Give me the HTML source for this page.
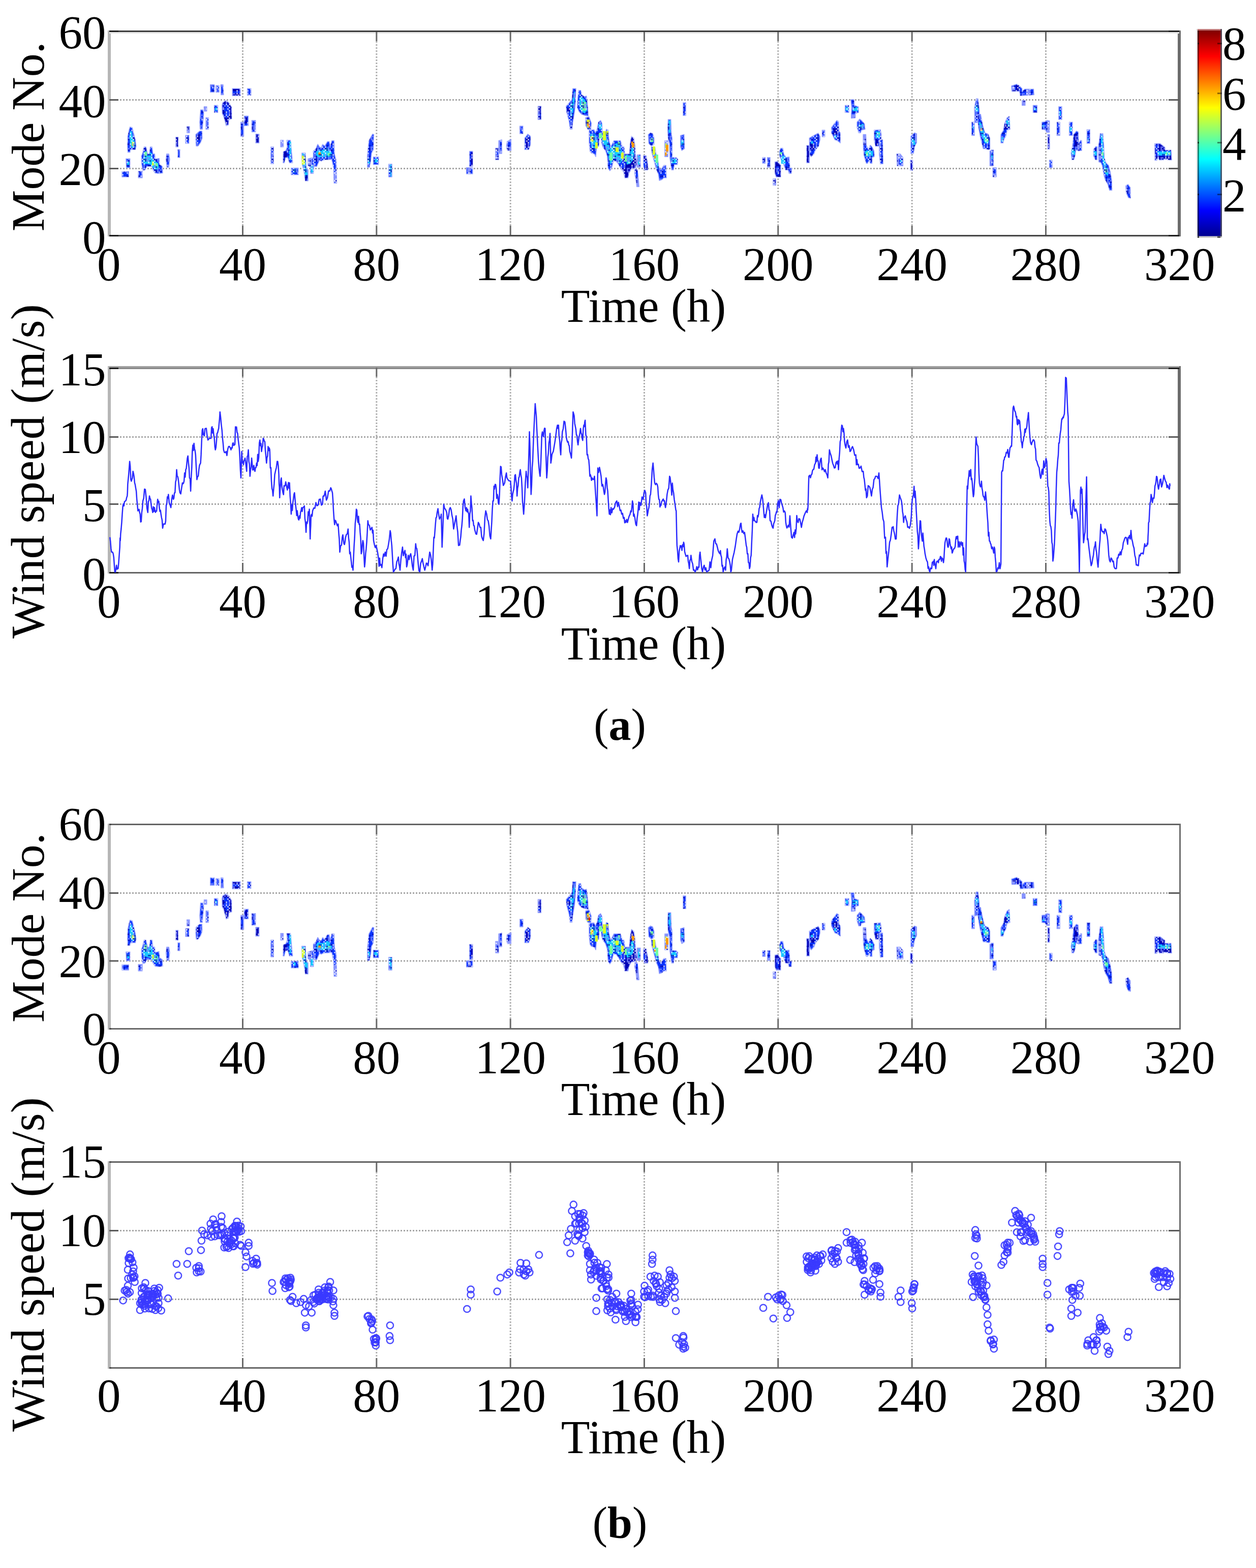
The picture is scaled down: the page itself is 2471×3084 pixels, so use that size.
<!DOCTYPE html>
<html><head><meta charset="utf-8"><title>Figure</title>
<style>html,body{margin:0;padding:0;background:#fff;}svg{display:block;}</style>
</head><body>
<svg width="2471" height="3084" viewBox="0 0 2471 3084" font-family="'Liberation Serif', 'Times New Roman', serif">
<rect width="2471" height="3084" fill="#ffffff"/>
<line x1="236" y1="196.5" x2="2299" y2="196.5" stroke="#a6a6a6" stroke-width="3" stroke-dasharray="3 3"/>
<line x1="236" y1="331.5" x2="2299" y2="331.5" stroke="#a6a6a6" stroke-width="3" stroke-dasharray="3 3"/>
<line x1="477.5" y1="81" x2="477.5" y2="444" stroke="#b0b0b0" stroke-width="3" stroke-dasharray="3 3"/>
<line x1="740.8" y1="81" x2="740.8" y2="444" stroke="#b0b0b0" stroke-width="3" stroke-dasharray="3 3"/>
<line x1="1004.2" y1="81" x2="1004.2" y2="444" stroke="#b0b0b0" stroke-width="3" stroke-dasharray="3 3"/>
<line x1="1267.5" y1="81" x2="1267.5" y2="444" stroke="#b0b0b0" stroke-width="3" stroke-dasharray="3 3"/>
<line x1="1530.8" y1="81" x2="1530.8" y2="444" stroke="#b0b0b0" stroke-width="3" stroke-dasharray="3 3"/>
<line x1="1794.2" y1="81" x2="1794.2" y2="444" stroke="#b0b0b0" stroke-width="3" stroke-dasharray="3 3"/>
<line x1="2057.5" y1="81" x2="2057.5" y2="444" stroke="#b0b0b0" stroke-width="3" stroke-dasharray="3 3"/>
<rect x="212.0" y="60.0" width="6" height="405.0" fill="#b6b6b6"/>
<rect x="2317.0" y="60.0" width="6" height="405.0" fill="#6c6c6c"/>
<rect x="215.0" y="60.0" width="2105.0" height="3" fill="#3c3c3c"/>
<rect x="215.0" y="462.0" width="2105.0" height="3" fill="#464646"/>
<rect x="215.0" y="63.0" width="2105.0" height="3" fill="#e6e6e6"/>
<rect x="215.0" y="465.0" width="2105.0" height="3" fill="#ececec"/>
<rect x="215.0" y="195.0" width="18.0" height="3" fill="#5a5a5a"/>
<rect x="2299.0" y="195.0" width="21.0" height="3" fill="#5a5a5a"/>
<rect x="215.0" y="330.0" width="18.0" height="3" fill="#5a5a5a"/>
<rect x="2299.0" y="330.0" width="21.0" height="3" fill="#5a5a5a"/>
<rect x="215.0" y="60.0" width="18.0" height="3" fill="#1e1e1e"/>
<rect x="2299.0" y="60.0" width="21.0" height="3" fill="#1e1e1e"/>
<rect x="215.0" y="462.0" width="18.0" height="3" fill="#1e1e1e"/>
<rect x="2299.0" y="462.0" width="21.0" height="3" fill="#1e1e1e"/>
<rect x="476.0" y="63.0" width="3" height="18.0" fill="#6a6a6a"/>
<rect x="476.0" y="444.0" width="3" height="18.0" fill="#6a6a6a"/>
<rect x="739.3" y="63.0" width="3" height="18.0" fill="#6a6a6a"/>
<rect x="739.3" y="444.0" width="3" height="18.0" fill="#6a6a6a"/>
<rect x="1002.7" y="63.0" width="3" height="18.0" fill="#6a6a6a"/>
<rect x="1002.7" y="444.0" width="3" height="18.0" fill="#6a6a6a"/>
<rect x="1266.0" y="63.0" width="3" height="18.0" fill="#6a6a6a"/>
<rect x="1266.0" y="444.0" width="3" height="18.0" fill="#6a6a6a"/>
<rect x="1529.3" y="63.0" width="3" height="18.0" fill="#6a6a6a"/>
<rect x="1529.3" y="444.0" width="3" height="18.0" fill="#6a6a6a"/>
<rect x="1792.7" y="63.0" width="3" height="18.0" fill="#6a6a6a"/>
<rect x="1792.7" y="444.0" width="3" height="18.0" fill="#6a6a6a"/>
<rect x="2056.0" y="63.0" width="3" height="18.0" fill="#6a6a6a"/>
<rect x="2056.0" y="444.0" width="3" height="18.0" fill="#6a6a6a"/>
<text x="208.5" y="95.0" text-anchor="end" font-size="93" >60</text>
<text x="208.5" y="229.5" text-anchor="end" font-size="93" >40</text>
<text x="208.5" y="364.0" text-anchor="end" font-size="93" >20</text>
<text x="208.5" y="497.5" text-anchor="end" font-size="93" >0</text>
<text x="214.2" y="551.0" text-anchor="middle" font-size="93" >0</text>
<text x="477.5" y="551.0" text-anchor="middle" font-size="93" >40</text>
<text x="740.8" y="551.0" text-anchor="middle" font-size="93" >80</text>
<text x="1004.2" y="551.0" text-anchor="middle" font-size="93" >120</text>
<text x="1267.5" y="551.0" text-anchor="middle" font-size="93" >160</text>
<text x="1530.8" y="551.0" text-anchor="middle" font-size="93" >200</text>
<text x="1794.2" y="551.0" text-anchor="middle" font-size="93" >240</text>
<text x="2057.5" y="551.0" text-anchor="middle" font-size="93" >280</text>
<text x="2320.8" y="551.0" text-anchor="middle" font-size="93" >320</text>
<text x="1266.0" y="633.0" text-anchor="middle" font-size="93" >Time (h)</text>
<text x="0" y="0" text-anchor="middle" font-size="92" transform="translate(86.0,268.8) rotate(-90)">Mode No.</text>
<line x1="236" y1="859.5" x2="2299" y2="859.5" stroke="#a6a6a6" stroke-width="3" stroke-dasharray="3 3"/>
<line x1="236" y1="991.5" x2="2299" y2="991.5" stroke="#a6a6a6" stroke-width="3" stroke-dasharray="3 3"/>
<line x1="477.5" y1="741" x2="477.5" y2="1107" stroke="#b0b0b0" stroke-width="3" stroke-dasharray="3 3"/>
<line x1="740.8" y1="741" x2="740.8" y2="1107" stroke="#b0b0b0" stroke-width="3" stroke-dasharray="3 3"/>
<line x1="1004.2" y1="741" x2="1004.2" y2="1107" stroke="#b0b0b0" stroke-width="3" stroke-dasharray="3 3"/>
<line x1="1267.5" y1="741" x2="1267.5" y2="1107" stroke="#b0b0b0" stroke-width="3" stroke-dasharray="3 3"/>
<line x1="1530.8" y1="741" x2="1530.8" y2="1107" stroke="#b0b0b0" stroke-width="3" stroke-dasharray="3 3"/>
<line x1="1794.2" y1="741" x2="1794.2" y2="1107" stroke="#b0b0b0" stroke-width="3" stroke-dasharray="3 3"/>
<line x1="2057.5" y1="741" x2="2057.5" y2="1107" stroke="#b0b0b0" stroke-width="3" stroke-dasharray="3 3"/>
<rect x="212.0" y="720.0" width="6" height="408.0" fill="#b6b6b6"/>
<rect x="2317.0" y="720.0" width="6" height="408.0" fill="#6c6c6c"/>
<rect x="215.0" y="720.0" width="2105.0" height="3" fill="#a2a2a2"/>
<rect x="215.0" y="1125.0" width="2105.0" height="3" fill="#656565"/>
<rect x="215.0" y="723.0" width="2105.0" height="3" fill="#8a8a8a"/>
<rect x="215.0" y="858.0" width="18.0" height="3" fill="#5a5a5a"/>
<rect x="2299.0" y="858.0" width="21.0" height="3" fill="#5a5a5a"/>
<rect x="215.0" y="990.0" width="18.0" height="3" fill="#5a5a5a"/>
<rect x="2299.0" y="990.0" width="21.0" height="3" fill="#5a5a5a"/>
<rect x="215.0" y="723.0" width="18.0" height="3" fill="#1e1e1e"/>
<rect x="2299.0" y="723.0" width="21.0" height="3" fill="#1e1e1e"/>
<rect x="215.0" y="1125.0" width="18.0" height="3" fill="#1e1e1e"/>
<rect x="2299.0" y="1125.0" width="21.0" height="3" fill="#1e1e1e"/>
<rect x="476.0" y="723.0" width="3" height="18.0" fill="#6a6a6a"/>
<rect x="476.0" y="1107.0" width="3" height="18.0" fill="#6a6a6a"/>
<rect x="739.3" y="723.0" width="3" height="18.0" fill="#6a6a6a"/>
<rect x="739.3" y="1107.0" width="3" height="18.0" fill="#6a6a6a"/>
<rect x="1002.7" y="723.0" width="3" height="18.0" fill="#6a6a6a"/>
<rect x="1002.7" y="1107.0" width="3" height="18.0" fill="#6a6a6a"/>
<rect x="1266.0" y="723.0" width="3" height="18.0" fill="#6a6a6a"/>
<rect x="1266.0" y="1107.0" width="3" height="18.0" fill="#6a6a6a"/>
<rect x="1529.3" y="723.0" width="3" height="18.0" fill="#6a6a6a"/>
<rect x="1529.3" y="1107.0" width="3" height="18.0" fill="#6a6a6a"/>
<rect x="1792.7" y="723.0" width="3" height="18.0" fill="#6a6a6a"/>
<rect x="1792.7" y="1107.0" width="3" height="18.0" fill="#6a6a6a"/>
<rect x="2056.0" y="723.0" width="3" height="18.0" fill="#6a6a6a"/>
<rect x="2056.0" y="1107.0" width="3" height="18.0" fill="#6a6a6a"/>
<text x="208.5" y="758.0" text-anchor="end" font-size="93" >15</text>
<text x="208.5" y="890.5" text-anchor="end" font-size="93" >10</text>
<text x="208.5" y="1024.5" text-anchor="end" font-size="93" >5</text>
<text x="208.5" y="1160.0" text-anchor="end" font-size="93" >0</text>
<text x="214.2" y="1214.0" text-anchor="middle" font-size="93" >0</text>
<text x="477.5" y="1214.0" text-anchor="middle" font-size="93" >40</text>
<text x="740.8" y="1214.0" text-anchor="middle" font-size="93" >80</text>
<text x="1004.2" y="1214.0" text-anchor="middle" font-size="93" >120</text>
<text x="1267.5" y="1214.0" text-anchor="middle" font-size="93" >160</text>
<text x="1530.8" y="1214.0" text-anchor="middle" font-size="93" >200</text>
<text x="1794.2" y="1214.0" text-anchor="middle" font-size="93" >240</text>
<text x="2057.5" y="1214.0" text-anchor="middle" font-size="93" >280</text>
<text x="2320.8" y="1214.0" text-anchor="middle" font-size="93" >320</text>
<text x="1266.0" y="1296.5" text-anchor="middle" font-size="93" >Time (h)</text>
<text x="0" y="0" text-anchor="middle" font-size="93" transform="translate(86.0,927.0) rotate(-90)">Wind speed (m/s)</text>
<line x1="236" y1="1756.5" x2="2299" y2="1756.5" stroke="#a6a6a6" stroke-width="3" stroke-dasharray="3 3"/>
<line x1="236" y1="1890.0" x2="2299" y2="1890.0" stroke="#a6a6a6" stroke-width="3" stroke-dasharray="3 3"/>
<line x1="477.5" y1="1641" x2="477.5" y2="2004" stroke="#b0b0b0" stroke-width="3" stroke-dasharray="3 3"/>
<line x1="740.8" y1="1641" x2="740.8" y2="2004" stroke="#b0b0b0" stroke-width="3" stroke-dasharray="3 3"/>
<line x1="1004.2" y1="1641" x2="1004.2" y2="2004" stroke="#b0b0b0" stroke-width="3" stroke-dasharray="3 3"/>
<line x1="1267.5" y1="1641" x2="1267.5" y2="2004" stroke="#b0b0b0" stroke-width="3" stroke-dasharray="3 3"/>
<line x1="1530.8" y1="1641" x2="1530.8" y2="2004" stroke="#b0b0b0" stroke-width="3" stroke-dasharray="3 3"/>
<line x1="1794.2" y1="1641" x2="1794.2" y2="2004" stroke="#b0b0b0" stroke-width="3" stroke-dasharray="3 3"/>
<line x1="2057.5" y1="1641" x2="2057.5" y2="2004" stroke="#b0b0b0" stroke-width="3" stroke-dasharray="3 3"/>
<rect x="212.0" y="1620.0" width="6" height="405.0" fill="#b6b6b6"/>
<rect x="2320.0" y="1620.0" width="3" height="405.0" fill="#6c6c6c"/>
<rect x="215.0" y="1620.0" width="2105.0" height="3" fill="#646464"/>
<rect x="215.0" y="2022.0" width="2105.0" height="3" fill="#6a6a6a"/>
<rect x="215.0" y="1755.0" width="18.0" height="3" fill="#5a5a5a"/>
<rect x="2299.0" y="1755.0" width="21.0" height="3" fill="#5a5a5a"/>
<rect x="215.0" y="1888.5" width="18.0" height="3" fill="#5a5a5a"/>
<rect x="2299.0" y="1888.5" width="21.0" height="3" fill="#5a5a5a"/>
<rect x="215.0" y="1620.0" width="4.0" height="3" fill="#4a4a4a"/>
<rect x="215.0" y="2022.0" width="4.0" height="3" fill="#4a4a4a"/>
<rect x="476.0" y="1623.0" width="3" height="18.0" fill="#6a6a6a"/>
<rect x="476.0" y="2004.0" width="3" height="18.0" fill="#6a6a6a"/>
<rect x="739.3" y="1623.0" width="3" height="18.0" fill="#6a6a6a"/>
<rect x="739.3" y="2004.0" width="3" height="18.0" fill="#6a6a6a"/>
<rect x="1002.7" y="1623.0" width="3" height="18.0" fill="#6a6a6a"/>
<rect x="1002.7" y="2004.0" width="3" height="18.0" fill="#6a6a6a"/>
<rect x="1266.0" y="1623.0" width="3" height="18.0" fill="#6a6a6a"/>
<rect x="1266.0" y="2004.0" width="3" height="18.0" fill="#6a6a6a"/>
<rect x="1529.3" y="1623.0" width="3" height="18.0" fill="#6a6a6a"/>
<rect x="1529.3" y="2004.0" width="3" height="18.0" fill="#6a6a6a"/>
<rect x="1792.7" y="1623.0" width="3" height="18.0" fill="#6a6a6a"/>
<rect x="1792.7" y="2004.0" width="3" height="18.0" fill="#6a6a6a"/>
<rect x="2056.0" y="1623.0" width="3" height="18.0" fill="#6a6a6a"/>
<rect x="2056.0" y="2004.0" width="3" height="18.0" fill="#6a6a6a"/>
<text x="208.5" y="1652.0" text-anchor="end" font-size="93" >60</text>
<text x="208.5" y="1787.0" text-anchor="end" font-size="93" >40</text>
<text x="208.5" y="1921.5" text-anchor="end" font-size="93" >20</text>
<text x="208.5" y="2055.0" text-anchor="end" font-size="93" >0</text>
<text x="214.2" y="2111.0" text-anchor="middle" font-size="93" >0</text>
<text x="477.5" y="2111.0" text-anchor="middle" font-size="93" >40</text>
<text x="740.8" y="2111.0" text-anchor="middle" font-size="93" >80</text>
<text x="1004.2" y="2111.0" text-anchor="middle" font-size="93" >120</text>
<text x="1267.5" y="2111.0" text-anchor="middle" font-size="93" >160</text>
<text x="1530.8" y="2111.0" text-anchor="middle" font-size="93" >200</text>
<text x="1794.2" y="2111.0" text-anchor="middle" font-size="93" >240</text>
<text x="2057.5" y="2111.0" text-anchor="middle" font-size="93" >280</text>
<text x="2320.8" y="2111.0" text-anchor="middle" font-size="93" >320</text>
<text x="1266.0" y="2193.0" text-anchor="middle" font-size="93" >Time (h)</text>
<text x="0" y="0" text-anchor="middle" font-size="92" transform="translate(86.0,1824.8) rotate(-90)">Mode No.</text>
<line x1="236" y1="2420.5" x2="2299" y2="2420.5" stroke="#a6a6a6" stroke-width="3" stroke-dasharray="3 3"/>
<line x1="236" y1="2555.5" x2="2299" y2="2555.5" stroke="#a6a6a6" stroke-width="3" stroke-dasharray="3 3"/>
<line x1="477.5" y1="2305" x2="477.5" y2="2671" stroke="#b0b0b0" stroke-width="3" stroke-dasharray="3 3"/>
<line x1="740.8" y1="2305" x2="740.8" y2="2671" stroke="#b0b0b0" stroke-width="3" stroke-dasharray="3 3"/>
<line x1="1004.2" y1="2305" x2="1004.2" y2="2671" stroke="#b0b0b0" stroke-width="3" stroke-dasharray="3 3"/>
<line x1="1267.5" y1="2305" x2="1267.5" y2="2671" stroke="#b0b0b0" stroke-width="3" stroke-dasharray="3 3"/>
<line x1="1530.8" y1="2305" x2="1530.8" y2="2671" stroke="#b0b0b0" stroke-width="3" stroke-dasharray="3 3"/>
<line x1="1794.2" y1="2305" x2="1794.2" y2="2671" stroke="#b0b0b0" stroke-width="3" stroke-dasharray="3 3"/>
<line x1="2057.5" y1="2305" x2="2057.5" y2="2671" stroke="#b0b0b0" stroke-width="3" stroke-dasharray="3 3"/>
<rect x="212.0" y="2284.0" width="6" height="408.0" fill="#b6b6b6"/>
<rect x="2320.0" y="2284.0" width="3" height="408.0" fill="#6c6c6c"/>
<rect x="215.0" y="2284.0" width="2105.0" height="3" fill="#626262"/>
<rect x="215.0" y="2689.0" width="2105.0" height="3" fill="#666666"/>
<rect x="215.0" y="2419.0" width="18.0" height="3" fill="#5a5a5a"/>
<rect x="2299.0" y="2419.0" width="21.0" height="3" fill="#5a5a5a"/>
<rect x="215.0" y="2554.0" width="18.0" height="3" fill="#5a5a5a"/>
<rect x="2299.0" y="2554.0" width="21.0" height="3" fill="#5a5a5a"/>
<rect x="215.0" y="2284.0" width="4.0" height="3" fill="#4a4a4a"/>
<rect x="215.0" y="2689.0" width="4.0" height="3" fill="#4a4a4a"/>
<rect x="476.0" y="2287.0" width="3" height="18.0" fill="#6a6a6a"/>
<rect x="476.0" y="2671.0" width="3" height="18.0" fill="#6a6a6a"/>
<rect x="739.3" y="2287.0" width="3" height="18.0" fill="#6a6a6a"/>
<rect x="739.3" y="2671.0" width="3" height="18.0" fill="#6a6a6a"/>
<rect x="1002.7" y="2287.0" width="3" height="18.0" fill="#6a6a6a"/>
<rect x="1002.7" y="2671.0" width="3" height="18.0" fill="#6a6a6a"/>
<rect x="1266.0" y="2287.0" width="3" height="18.0" fill="#6a6a6a"/>
<rect x="1266.0" y="2671.0" width="3" height="18.0" fill="#6a6a6a"/>
<rect x="1529.3" y="2287.0" width="3" height="18.0" fill="#6a6a6a"/>
<rect x="1529.3" y="2671.0" width="3" height="18.0" fill="#6a6a6a"/>
<rect x="1792.7" y="2287.0" width="3" height="18.0" fill="#6a6a6a"/>
<rect x="1792.7" y="2671.0" width="3" height="18.0" fill="#6a6a6a"/>
<rect x="2056.0" y="2287.0" width="3" height="18.0" fill="#6a6a6a"/>
<rect x="2056.0" y="2671.0" width="3" height="18.0" fill="#6a6a6a"/>
<text x="208.5" y="2315.5" text-anchor="end" font-size="93" >15</text>
<text x="208.5" y="2451.0" text-anchor="end" font-size="93" >10</text>
<text x="208.5" y="2586.0" text-anchor="end" font-size="93" >5</text>
<text x="214.2" y="2776.0" text-anchor="middle" font-size="93" >0</text>
<text x="477.5" y="2776.0" text-anchor="middle" font-size="93" >40</text>
<text x="740.8" y="2776.0" text-anchor="middle" font-size="93" >80</text>
<text x="1004.2" y="2776.0" text-anchor="middle" font-size="93" >120</text>
<text x="1267.5" y="2776.0" text-anchor="middle" font-size="93" >160</text>
<text x="1530.8" y="2776.0" text-anchor="middle" font-size="93" >200</text>
<text x="1794.2" y="2776.0" text-anchor="middle" font-size="93" >240</text>
<text x="2057.5" y="2776.0" text-anchor="middle" font-size="93" >280</text>
<text x="2320.8" y="2776.0" text-anchor="middle" font-size="93" >320</text>
<text x="1266.0" y="2858.0" text-anchor="middle" font-size="93" >Time (h)</text>
<text x="0" y="0" text-anchor="middle" font-size="93" transform="translate(86.0,2487.0) rotate(-90)">Wind speed (m/s)</text>
<defs><linearGradient id="jet" x1="0" y1="1" x2="0" y2="0"><stop offset="0" stop-color="#00008f"/><stop offset="0.125" stop-color="#0000ff"/><stop offset="0.375" stop-color="#00ffff"/><stop offset="0.625" stop-color="#ffff00"/><stop offset="0.875" stop-color="#ff0000"/><stop offset="1" stop-color="#800000"/></linearGradient></defs>
<rect x="2353.5" y="57" width="2.5" height="410.5" fill="#e2e2e2"/>
<rect x="2356" y="60" width="48" height="404.7" fill="url(#jet)"/>
<rect x="2356" y="57" width="48" height="3" fill="#c07878"/>
<rect x="2356" y="464.7" width="48" height="3" fill="#c8c8c8"/>
<rect x="2356" y="60" width="3" height="404.7" fill="#000000" fill-opacity="0.45"/>
<rect x="2401" y="57" width="3" height="408" fill="#4a4a5a" fill-opacity="0.85"/>
<rect x="2356" y="84.1" width="3" height="3" fill="#000" fill-opacity="0.6"/>
<rect x="2395" y="84.1" width="9" height="3" fill="#000" fill-opacity="0.45"/>
<rect x="2356" y="182.1" width="3" height="3" fill="#000" fill-opacity="0.6"/>
<rect x="2395" y="182.1" width="9" height="3" fill="#000" fill-opacity="0.45"/>
<rect x="2356" y="279.1" width="3" height="3" fill="#000" fill-opacity="0.6"/>
<rect x="2395" y="279.1" width="9" height="3" fill="#000" fill-opacity="0.45"/>
<rect x="2356" y="381.0" width="3" height="3" fill="#000" fill-opacity="0.6"/>
<rect x="2395" y="381.0" width="9" height="3" fill="#000" fill-opacity="0.45"/>
<rect x="2356" y="464.7" width="3" height="3" fill="#333"/>
<rect x="2395" y="464.7" width="6" height="3" fill="#444"/>
<text x="2405.0" y="117.0" text-anchor="start" font-size="93" >8</text>
<text x="2405.0" y="216.0" text-anchor="start" font-size="93" >6</text>
<text x="2405.0" y="314.0" text-anchor="start" font-size="93" >4</text>
<text x="2405.0" y="415.7" text-anchor="start" font-size="93" >2</text>
<text x="1219.5" y="1455" text-anchor="middle" font-size="88">(<tspan font-weight="bold">a</tspan>)</text>
<text x="1219.5" y="3025" text-anchor="middle" font-size="88">(<tspan font-weight="bold">b</tspan>)</text>
<path d="M216.2,1056.7 L217.3,1065.0 L218.4,1078.9 L219.5,1085.9 L220.5,1085.7 L221.6,1086.3 L222.7,1089.1 L223.8,1095.9 L224.9,1111.7 L225.9,1124.8 L227.0,1125.0 L228.1,1118.5 L229.2,1111.8 L230.3,1119.7 L231.3,1117.5 L232.4,1118.3 L233.5,1106.4 L234.6,1091.2 L235.7,1076.1 L236.2,1058.3 L236.7,1063.5 L237.3,1050.2 L238.4,1040.0 L239.5,1027.0 L240.5,1011.3 L241.6,996.6 L242.7,990.9 L243.8,995.1 L244.9,986.9 L245.9,986.0 L247.0,985.3 L248.1,983.8 L249.2,978.6 L250.3,975.6 L250.8,968.8 L251.3,952.6 L251.9,946.4 L253.0,935.2 L254.0,922.7 L255.1,907.5 L256.2,916.9 L257.3,942.9 L258.4,946.4 L259.4,943.0 L260.5,940.0 L261.6,927.0 L262.7,931.1 L263.8,938.0 L264.9,949.7 L265.9,953.2 L267.0,959.9 L268.1,965.9 L269.2,982.3 L270.3,993.2 L271.3,1004.8 L272.4,1003.4 L273.5,1001.7 L274.6,1008.0 L275.7,1011.1 L276.7,1026.6 L277.8,1025.9 L278.9,1007.9 L280.0,1000.2 L281.1,985.3 L282.7,980.1 L284.3,962.0 L285.9,962.6 L287.5,978.0 L289.2,1000.1 L290.8,1008.0 L291.9,986.2 L293.0,984.7 L294.0,975.6 L295.1,980.4 L296.2,981.9 L297.3,991.8 L298.4,1000.0 L299.4,1002.3 L300.5,1008.0 L301.6,996.7 L302.7,1006.1 L303.8,998.3 L304.8,1004.2 L305.9,1007.8 L307.0,1004.8 L308.1,1005.2 L309.2,991.7 L310.2,982.1 L311.3,988.2 L312.4,985.8 L313.5,998.3 L314.6,1006.0 L315.7,1003.6 L316.7,1011.3 L317.8,1018.0 L318.9,1022.7 L320.0,1038.8 L321.6,1030.8 L323.2,1030.5 L324.8,1030.7 L325.9,1024.9 L327.0,993.6 L328.1,991.8 L329.2,977.3 L330.2,980.2 L331.3,972.4 L332.9,989.0 L334.6,992.8 L336.2,998.3 L337.8,982.5 L339.4,973.7 L341.1,982.1 L342.1,979.7 L343.2,969.4 L344.3,969.1 L345.4,947.8 L346.5,944.2 L347.5,923.7 L348.6,936.3 L349.7,937.6 L350.8,943.2 L351.9,953.2 L352.9,962.9 L354.0,969.1 L355.6,971.4 L357.3,959.6 L358.9,949.7 L360.0,951.4 L361.0,950.5 L362.1,946.4 L363.2,930.2 L364.3,938.4 L365.4,923.7 L366.5,921.4 L367.5,911.5 L368.6,901.0 L369.7,896.7 L370.8,910.5 L371.9,920.5 L372.9,940.3 L374.0,940.8 L375.1,965.9 L376.2,938.9 L377.3,919.6 L378.3,888.1 L379.4,875.5 L380.5,886.1 L381.6,871.9 L382.7,882.5 L383.7,886.2 L384.8,894.6 L385.7,912.6 L386.6,930.6 L387.4,943.2 L388.7,937.4 L390.0,936.5 L391.3,923.7 L392.4,915.8 L393.5,912.8 L394.6,910.8 L395.6,894.9 L396.7,867.7 L397.8,845.9 L398.9,843.2 L400.0,855.4 L401.0,852.4 L402.1,857.2 L403.2,843.5 L404.3,842.7 L405.9,842.6 L407.5,857.1 L409.1,865.4 L410.8,863.5 L412.4,861.6 L414.0,862.1 L415.1,862.3 L416.2,841.3 L417.3,839.4 L418.3,851.8 L419.4,843.3 L420.5,855.6 L421.6,861.0 L422.7,878.6 L423.7,884.8 L424.8,880.2 L425.9,867.9 L427.0,852.4 L428.1,851.1 L429.1,846.7 L430.2,842.7 L431.1,832.7 L431.9,824.2 L432.8,810.2 L434.1,821.2 L435.4,835.6 L436.7,845.9 L437.8,862.0 L438.9,871.9 L439.9,884.8 L441.6,890.1 L443.2,890.1 L444.8,888.1 L446.4,895.9 L448.1,883.4 L449.7,878.3 L451.3,878.1 L452.9,880.6 L454.5,884.8 L455.6,880.4 L456.7,881.3 L457.8,871.9 L458.9,871.1 L459.9,876.1 L461.0,875.1 L462.1,874.4 L463.2,839.4 L464.3,842.7 L465.3,839.7 L466.4,850.5 L467.5,852.4 L468.6,864.3 L469.7,873.2 L470.8,881.6 L471.8,898.7 L472.9,924.1 L474.0,939.9 L474.5,924.2 L475.1,902.5 L475.6,888.1 L476.7,910.1 L477.8,907.3 L478.9,914.0 L479.9,906.6 L481.0,904.8 L482.1,901.0 L483.2,908.4 L484.3,918.0 L485.3,927.0 L486.4,897.9 L487.5,896.2 L488.6,884.8 L489.7,907.7 L490.7,913.0 L491.8,936.7 L492.9,924.4 L494.0,918.2 L495.1,901.0 L496.2,913.3 L497.2,924.4 L498.3,923.7 L499.4,915.5 L500.5,924.0 L501.6,927.0 L502.6,919.7 L503.7,919.6 L504.8,910.8 L505.9,915.7 L507.0,893.8 L508.0,907.5 L509.1,899.5 L510.2,871.5 L511.3,865.4 L512.4,876.7 L513.4,872.3 L514.5,888.1 L515.6,880.4 L516.7,877.3 L517.8,862.1 L518.8,863.5 L519.9,867.5 L521.0,868.6 L522.1,887.0 L523.2,897.5 L524.3,910.8 L525.3,899.5 L526.4,897.6 L527.5,878.3 L528.6,886.3 L529.7,881.0 L530.7,884.8 L531.8,920.5 L532.9,919.6 L534.0,946.4 L535.1,961.2 L536.1,964.4 L537.2,975.6 L538.3,962.3 L539.4,951.4 L540.5,933.5 L542.1,926.0 L543.7,919.7 L545.3,907.5 L546.4,907.8 L547.5,916.5 L548.6,933.5 L549.1,952.0 L549.7,958.4 L550.2,978.9 L551.3,960.2 L552.4,944.8 L553.4,939.9 L554.5,956.6 L555.6,963.5 L556.7,969.1 L557.8,972.9 L558.8,955.3 L559.9,956.2 L561.0,955.1 L562.1,947.7 L563.2,952.9 L564.2,958.2 L565.3,963.8 L566.4,956.2 L567.5,949.1 L568.6,960.4 L569.6,949.7 L570.7,975.6 L571.8,989.8 L572.9,1011.3 L574.0,992.9 L575.1,1003.9 L576.1,988.6 L577.2,981.6 L578.3,972.3 L579.4,969.1 L580.5,982.1 L581.5,993.0 L582.6,1001.6 L583.7,1014.1 L584.8,1004.6 L585.9,1014.5 L586.9,1020.8 L588.0,1022.7 L589.1,1014.5 L590.2,1019.3 L591.3,1007.0 L592.3,1004.8 L593.4,998.5 L594.5,1006.1 L595.6,998.3 L596.7,997.9 L597.8,996.8 L598.8,995.1 L599.9,1020.2 L601.0,1028.2 L602.1,1047.0 L603.2,1026.8 L604.2,1029.7 L605.3,1024.3 L606.4,1006.5 L607.5,1013.6 L608.6,1001.6 L609.1,1022.8 L609.6,1037.1 L610.2,1059.9 L610.7,1044.7 L611.3,1034.2 L611.8,1014.5 L612.9,1011.7 L614.0,1015.3 L615.0,1004.8 L617.2,999.1 L619.4,999.7 L621.5,988.6 L623.7,994.6 L625.9,993.1 L628.0,982.1 L630.2,981.6 L632.3,993.4 L634.5,991.8 L635.6,976.1 L636.7,975.1 L637.7,975.6 L639.9,965.9 L642.1,983.7 L644.2,978.9 L646.4,965.6 L648.6,965.8 L650.7,959.4 L651.8,961.6 L652.9,965.7 L654.0,969.1 L655.0,983.2 L656.1,1005.0 L657.2,1021.0 L658.3,1031.9 L659.4,1023.4 L660.4,1024.3 L662.1,1029.3 L663.7,1034.1 L665.3,1030.7 L666.4,1048.0 L667.5,1060.6 L668.5,1085.9 L670.2,1073.1 L671.8,1072.3 L673.4,1056.7 L674.5,1051.9 L675.6,1062.0 L676.7,1069.6 L677.7,1070.9 L678.8,1065.4 L679.9,1056.7 L681.5,1051.3 L683.1,1050.3 L684.8,1040.5 L685.8,1057.6 L686.9,1066.4 L688.0,1089.1 L689.1,1085.9 L690.2,1096.4 L691.2,1105.3 L692.3,1115.8 L693.4,1113.0 L694.5,1121.5 L695.6,1095.0 L696.6,1074.1 L697.7,1056.7 L698.8,1029.9 L699.9,1019.3 L701.0,1001.6 L702.1,1003.7 L703.1,1020.9 L704.2,1027.5 L705.3,1015.6 L706.4,1031.5 L707.5,1030.7 L708.5,1046.7 L709.6,1059.0 L710.7,1089.1 L711.8,1084.4 L712.9,1070.3 L713.9,1063.2 L715.0,1068.2 L716.1,1092.9 L717.2,1115.0 L718.3,1104.8 L719.3,1088.7 L720.4,1079.4 L721.5,1065.3 L722.6,1046.7 L723.7,1024.3 L724.8,1031.2 L725.8,1032.5 L726.9,1034.0 L728.5,1042.4 L730.2,1039.8 L731.8,1037.2 L732.9,1048.4 L733.9,1043.1 L735.0,1063.2 L736.6,1071.3 L738.3,1076.9 L739.9,1072.9 L741.5,1079.9 L743.1,1087.6 L744.7,1098.8 L745.8,1113.8 L746.9,1097.8 L748.0,1111.8 L749.6,1110.1 L751.3,1116.5 L753.0,1098.8 L754.6,1089.4 L756.2,1094.0 L757.8,1085.9 L759.5,1094.1 L761.1,1080.9 L762.7,1079.4 L764.3,1070.6 L765.9,1060.6 L767.6,1043.7 L768.6,1048.5 L769.7,1062.7 L770.8,1072.9 L771.9,1091.8 L773.0,1112.0 L774.0,1124.8 L775.7,1122.4 L777.3,1119.4 L778.9,1118.3 L780.5,1105.1 L782.2,1101.2 L783.8,1095.6 L784.9,1109.1 L785.9,1113.4 L787.0,1121.5 L788.6,1101.7 L790.3,1086.6 L791.9,1076.1 L793.5,1093.0 L795.1,1086.7 L796.7,1082.6 L797.8,1096.9 L798.9,1090.0 L800.0,1115.0 L801.1,1110.9 L802.1,1102.6 L803.2,1092.3 L804.9,1100.5 L806.5,1092.5 L808.1,1089.1 L809.7,1099.5 L811.3,1113.6 L813.0,1121.5 L814.6,1093.5 L816.2,1092.6 L817.8,1069.6 L818.9,1077.9 L820.0,1078.8 L821.1,1089.1 L822.7,1108.3 L824.3,1122.8 L825.9,1124.8 L827.5,1108.4 L829.2,1103.8 L830.8,1098.8 L832.4,1108.0 L834.0,1115.0 L835.7,1121.5 L837.3,1115.0 L838.9,1107.5 L840.5,1108.6 L842.1,1112.7 L843.8,1099.1 L845.4,1085.9 L847.0,1091.2 L848.6,1102.2 L850.2,1121.5 L851.3,1109.3 L852.4,1083.7 L853.5,1056.7 L854.6,1058.0 L855.7,1043.8 L856.7,1030.7 L857.8,1018.4 L858.9,1017.0 L860.0,1008.0 L861.6,1000.5 L863.2,1012.6 L864.8,1021.0 L865.9,1017.4 L867.0,1017.4 L868.1,1011.3 L868.6,1028.9 L869.2,1053.8 L869.7,1076.1 L870.8,1050.6 L871.9,1022.0 L872.9,991.8 L874.6,999.7 L876.2,1001.6 L877.8,1004.8 L878.9,1008.4 L880.0,1019.9 L881.1,1021.0 L882.7,1013.7 L884.3,1001.3 L885.9,998.3 L887.5,1002.4 L889.2,1013.4 L890.8,1021.0 L891.3,1026.9 L891.9,1034.8 L892.4,1040.5 L894.0,1031.8 L895.6,1024.1 L897.3,1014.5 L898.9,1033.2 L900.5,1046.5 L902.1,1072.9 L903.2,1072.0 L904.3,1072.2 L905.4,1063.2 L906.5,1055.8 L907.5,1042.7 L908.6,1034.0 L909.7,1020.2 L910.8,996.2 L911.9,985.3 L913.5,981.4 L915.1,998.6 L916.7,1004.8 L917.8,998.6 L918.9,1006.7 L920.0,1001.6 L921.0,1007.5 L922.1,1010.9 L923.2,1037.2 L924.3,1011.0 L925.4,1004.8 L926.4,975.6 L927.5,989.7 L928.6,1000.5 L929.7,1024.3 L930.8,1023.3 L931.9,1033.6 L932.9,1034.0 L934.0,1042.1 L935.1,1045.8 L936.2,1050.2 L937.8,1050.8 L939.4,1038.9 L941.0,1027.5 L942.7,1030.6 L944.3,1037.3 L945.9,1037.2 L947.5,1055.0 L949.1,1059.9 L950.8,1063.2 L952.4,1049.3 L954.0,1018.3 L955.6,1004.8 L957.3,1010.5 L958.9,1021.8 L960.5,1024.3 L962.1,1034.5 L963.7,1053.9 L965.4,1059.9 L966.4,1043.7 L967.5,1026.0 L968.6,1001.6 L969.7,985.3 L970.8,985.3 L971.8,956.2 L972.9,961.9 L974.0,952.8 L975.1,952.9 L976.2,959.9 L977.2,980.2 L978.3,972.4 L979.4,977.0 L980.5,990.2 L981.6,991.8 L982.7,972.4 L983.7,942.1 L984.8,917.3 L985.9,918.4 L987.0,933.4 L988.1,939.9 L989.1,946.2 L990.2,954.8 L991.3,952.9 L992.9,949.7 L994.5,937.9 L996.2,930.2 L997.2,939.2 L998.3,941.8 L999.4,943.2 L1001.0,945.4 L1002.6,945.7 L1004.3,946.4 L1005.3,958.1 L1006.4,976.1 L1007.5,985.3 L1008.6,972.0 L1009.7,966.8 L1010.8,962.6 L1011.8,952.9 L1012.9,935.1 L1014.0,933.5 L1015.1,945.1 L1016.2,950.5 L1017.2,975.6 L1018.3,960.0 L1019.4,955.0 L1020.5,939.9 L1021.6,937.7 L1022.6,928.8 L1023.7,923.7 L1024.8,934.3 L1025.9,939.7 L1027.0,959.4 L1028.0,986.7 L1029.1,996.8 L1030.2,1011.3 L1031.8,989.2 L1033.5,950.2 L1035.1,927.0 L1036.2,936.8 L1037.2,938.6 L1038.3,959.4 L1039.4,926.9 L1040.5,891.0 L1041.6,849.2 L1042.6,879.8 L1043.7,931.0 L1044.8,972.4 L1045.9,954.2 L1047.0,919.4 L1048.0,907.5 L1049.7,859.7 L1051.3,826.0 L1052.9,794.0 L1054.0,806.8 L1055.1,818.7 L1056.1,842.7 L1057.2,864.5 L1058.3,887.3 L1059.4,907.5 L1060.5,920.7 L1061.6,930.8 L1062.6,936.7 L1063.7,917.9 L1064.8,889.1 L1065.9,855.6 L1067.0,849.5 L1068.0,855.0 L1069.1,858.9 L1070.2,847.6 L1071.3,842.2 L1072.4,842.7 L1073.4,874.7 L1074.5,907.6 L1075.6,939.9 L1076.7,926.4 L1077.8,898.8 L1078.8,891.3 L1079.9,871.5 L1081.0,865.2 L1082.1,852.4 L1082.6,870.8 L1083.2,889.6 L1083.7,910.8 L1084.8,903.9 L1085.9,893.6 L1087.0,891.3 L1088.6,887.6 L1090.2,878.1 L1091.8,868.6 L1093.4,857.3 L1095.1,843.3 L1096.7,836.2 L1097.8,842.8 L1098.8,836.3 L1099.9,858.9 L1101.0,865.4 L1102.1,882.9 L1103.2,894.6 L1104.2,871.1 L1105.3,865.4 L1106.4,849.2 L1108.0,843.5 L1109.6,828.6 L1111.3,829.7 L1112.4,839.1 L1113.4,849.6 L1114.5,862.1 L1115.6,866.8 L1116.7,869.8 L1117.8,868.6 L1118.8,874.9 L1119.9,876.9 L1121.0,888.1 L1122.1,891.6 L1123.2,896.4 L1124.2,901.0 L1125.3,874.8 L1126.4,842.1 L1127.5,810.2 L1128.6,813.8 L1129.6,817.9 L1130.7,832.9 L1131.8,838.5 L1132.9,844.0 L1134.0,855.6 L1135.0,856.0 L1136.1,868.0 L1137.2,875.1 L1138.8,861.6 L1140.5,854.1 L1142.1,842.7 L1143.2,852.0 L1144.2,853.4 L1145.3,862.1 L1146.4,866.3 L1147.5,843.1 L1148.6,836.2 L1149.4,839.0 L1150.3,830.4 L1151.2,826.5 L1152.5,855.3 L1153.7,858.8 L1155.0,894.6 L1156.1,893.7 L1157.2,902.4 L1158.3,904.3 L1159.4,917.3 L1160.4,936.6 L1161.5,933.5 L1162.6,937.4 L1163.7,944.8 L1164.8,939.9 L1166.4,943.1 L1168.0,943.0 L1169.6,936.7 L1171.3,965.5 L1172.9,987.7 L1174.5,1014.5 L1175.0,986.0 L1175.6,945.9 L1176.1,920.5 L1177.7,929.2 L1179.4,919.2 L1181.0,927.0 L1182.6,937.0 L1184.2,955.9 L1185.8,952.9 L1186.9,958.2 L1188.0,966.0 L1189.1,972.4 L1190.2,968.0 L1191.3,950.9 L1192.3,939.9 L1193.4,944.2 L1194.5,958.7 L1195.6,965.9 L1196.7,984.2 L1197.7,1000.1 L1198.8,1011.3 L1199.9,1002.7 L1201.0,1012.3 L1202.1,998.3 L1203.7,1008.6 L1205.3,1000.6 L1206.9,1001.6 L1209.1,997.6 L1211.2,988.4 L1213.4,985.3 L1215.0,996.4 L1216.7,988.0 L1218.3,995.1 L1219.9,1004.2 L1221.5,1003.2 L1223.1,1011.3 L1224.8,1009.6 L1226.4,1019.6 L1228.0,1017.8 L1229.1,1028.3 L1230.2,1024.2 L1231.2,1027.5 L1232.9,1021.6 L1234.5,1027.6 L1236.1,1021.0 L1237.7,1015.3 L1239.4,1011.9 L1241.0,1004.8 L1242.1,1006.7 L1243.1,998.1 L1244.2,985.3 L1245.3,991.1 L1246.4,1015.2 L1247.5,1011.3 L1249.1,1018.9 L1250.7,1030.7 L1252.3,1034.0 L1253.4,1019.6 L1254.5,1012.1 L1255.6,1001.6 L1256.6,987.6 L1257.7,1002.7 L1258.8,988.6 L1261.0,993.9 L1263.1,977.6 L1265.3,982.1 L1266.9,969.5 L1268.5,964.5 L1270.2,969.1 L1271.2,990.7 L1272.3,996.9 L1273.4,1014.5 L1274.5,1008.8 L1275.6,1002.0 L1276.6,998.3 L1277.7,989.0 L1278.8,975.0 L1279.9,972.4 L1281.5,952.0 L1283.1,923.4 L1284.7,910.8 L1285.8,923.3 L1286.9,938.4 L1288.0,949.7 L1289.6,953.3 L1291.3,950.6 L1293.0,952.9 L1294.1,957.7 L1295.1,973.3 L1296.2,982.1 L1297.3,982.7 L1298.4,997.2 L1299.5,991.8 L1300.5,993.9 L1301.6,986.9 L1302.7,985.3 L1303.8,982.8 L1304.9,981.5 L1305.9,985.3 L1307.0,984.5 L1308.1,992.0 L1309.2,998.3 L1310.3,991.3 L1311.3,983.9 L1312.4,972.4 L1314.0,963.6 L1315.7,960.1 L1317.3,936.7 L1318.4,939.3 L1319.5,949.7 L1320.5,956.2 L1321.6,973.7 L1322.7,950.2 L1323.8,962.6 L1325.2,969.5 L1326.6,983.0 L1328.0,991.8 L1328.7,997.0 L1329.5,1002.7 L1330.3,1004.8 L1330.8,1026.2 L1331.3,1052.2 L1331.9,1072.9 L1333.0,1084.0 L1334.0,1098.8 L1335.1,1105.3 L1336.2,1084.1 L1337.3,1078.8 L1338.4,1072.9 L1339.4,1076.1 L1340.5,1073.7 L1341.6,1082.6 L1342.7,1071.5 L1343.8,1075.3 L1344.9,1066.4 L1345.9,1070.4 L1347.0,1085.0 L1348.1,1089.1 L1349.7,1094.3 L1351.3,1093.0 L1353.0,1092.3 L1354.0,1103.8 L1355.1,1109.1 L1356.2,1118.3 L1357.3,1101.9 L1358.4,1100.8 L1359.4,1092.3 L1361.1,1104.6 L1362.7,1108.9 L1364.3,1121.5 L1365.9,1121.0 L1367.5,1125.0 L1369.2,1121.5 L1370.8,1114.5 L1372.4,1120.7 L1374.0,1115.0 L1375.1,1115.6 L1376.2,1092.5 L1377.3,1085.9 L1378.4,1097.5 L1379.4,1106.7 L1380.5,1118.3 L1382.1,1124.6 L1383.8,1115.7 L1385.4,1111.8 L1387.0,1121.1 L1388.6,1116.7 L1390.2,1124.8 L1391.9,1123.6 L1393.5,1122.6 L1395.1,1121.5 L1396.7,1105.3 L1398.4,1116.5 L1400.0,1102.1 L1402.1,1093.0 L1404.3,1064.4 L1406.5,1059.9 L1408.1,1069.4 L1409.7,1070.0 L1411.3,1076.1 L1412.9,1082.9 L1414.6,1086.8 L1416.2,1089.1 L1417.3,1083.0 L1418.3,1092.3 L1419.4,1095.6 L1420.5,1113.5 L1421.6,1111.9 L1422.7,1124.8 L1424.3,1118.1 L1425.9,1115.1 L1427.5,1121.5 L1428.6,1100.8 L1429.7,1095.3 L1430.8,1079.4 L1432.4,1097.3 L1434.0,1099.0 L1435.6,1105.3 L1436.7,1112.1 L1437.8,1125.0 L1438.9,1121.5 L1440.0,1110.0 L1441.0,1100.5 L1442.1,1095.6 L1444.3,1086.6 L1446.5,1074.8 L1448.6,1059.9 L1450.2,1050.0 L1451.9,1044.8 L1453.5,1047.0 L1454.6,1043.1 L1455.6,1037.5 L1456.7,1030.7 L1457.8,1029.0 L1458.9,1040.4 L1460.0,1047.0 L1461.6,1044.0 L1463.2,1049.5 L1464.8,1047.0 L1465.9,1055.0 L1467.0,1063.8 L1468.1,1072.9 L1469.1,1076.4 L1470.2,1089.5 L1471.3,1089.1 L1472.4,1106.5 L1473.5,1106.5 L1474.6,1118.3 L1475.6,1114.3 L1476.7,1096.8 L1477.8,1092.3 L1478.9,1065.7 L1480.0,1042.4 L1481.0,1011.3 L1482.1,1023.9 L1483.2,1017.8 L1484.3,1024.3 L1485.9,1024.9 L1487.5,1027.5 L1489.1,1027.5 L1490.2,1013.9 L1491.3,1016.8 L1492.4,1011.3 L1493.5,1000.0 L1494.5,998.2 L1495.6,988.6 L1497.3,980.2 L1498.9,973.4 L1500.5,982.1 L1501.6,994.2 L1502.7,1007.3 L1503.7,1017.8 L1504.8,1012.6 L1505.9,1018.3 L1507.0,1011.3 L1508.6,1002.2 L1510.2,992.8 L1511.8,988.6 L1512.9,1003.1 L1514.0,1003.7 L1515.1,1024.3 L1516.7,1024.9 L1518.3,1032.8 L1519.9,1037.2 L1521.0,1038.7 L1522.1,1029.8 L1523.2,1027.5 L1524.3,1023.8 L1525.4,1013.1 L1526.4,1011.3 L1527.5,1006.5 L1528.6,1007.5 L1529.7,991.8 L1531.3,984.8 L1532.9,998.4 L1534.5,982.1 L1536.2,982.9 L1537.8,990.8 L1539.4,995.1 L1540.5,999.3 L1541.6,1007.2 L1542.6,1004.8 L1543.7,1005.6 L1544.8,1008.4 L1545.9,1027.5 L1547.0,1034.1 L1548.1,1038.4 L1549.1,1037.2 L1550.8,1033.1 L1552.4,1036.6 L1554.0,1014.5 L1555.1,1029.7 L1556.2,1044.0 L1557.2,1056.7 L1558.9,1058.5 L1560.5,1052.2 L1562.1,1047.0 L1563.2,1057.2 L1564.3,1042.3 L1565.3,1050.2 L1566.4,1039.5 L1567.5,1014.0 L1568.6,1024.3 L1570.2,1027.6 L1571.8,1020.0 L1573.5,1021.0 L1575.1,1028.3 L1576.7,1037.2 L1578.3,1027.5 L1579.9,1022.1 L1581.6,1015.3 L1583.2,1011.3 L1584.8,1007.5 L1586.4,1004.5 L1588.0,1008.0 L1588.6,1000.3 L1589.1,1002.9 L1589.7,995.1 L1590.2,975.8 L1590.7,956.5 L1591.3,936.7 L1592.9,934.7 L1594.5,939.6 L1596.1,933.5 L1597.2,932.9 L1598.3,926.2 L1599.4,923.7 L1601.0,923.1 L1602.6,914.3 L1604.3,910.8 L1605.3,899.0 L1606.4,908.0 L1607.5,894.6 L1608.6,905.8 L1609.7,906.6 L1610.7,920.5 L1611.8,921.0 L1612.9,911.6 L1614.0,904.3 L1615.6,901.1 L1617.2,923.9 L1618.8,920.5 L1620.5,923.4 L1622.1,927.6 L1623.7,923.7 L1625.3,930.2 L1627.0,933.7 L1628.6,939.9 L1629.7,913.1 L1630.7,908.5 L1631.8,884.8 L1633.4,891.5 L1635.1,896.2 L1636.7,904.3 L1638.3,911.6 L1639.9,915.5 L1641.5,920.5 L1643.2,919.9 L1644.8,909.8 L1646.4,907.5 L1647.5,912.7 L1648.6,906.6 L1649.6,923.7 L1650.7,903.0 L1651.8,890.7 L1652.9,868.6 L1654.0,865.2 L1655.1,845.0 L1656.1,836.2 L1657.2,837.7 L1658.3,849.2 L1659.4,842.7 L1660.5,851.7 L1661.5,868.3 L1662.6,875.1 L1664.2,881.1 L1665.9,868.8 L1667.5,865.4 L1669.1,879.7 L1670.7,876.6 L1672.3,888.1 L1674.0,886.0 L1675.6,881.2 L1677.2,878.3 L1679.4,884.4 L1681.5,895.4 L1683.7,894.6 L1684.8,914.2 L1685.9,903.9 L1686.9,914.0 L1688.6,913.0 L1690.2,921.1 L1691.8,920.5 L1694.0,916.9 L1696.1,927.5 L1698.3,927.0 L1699.4,938.8 L1700.4,942.7 L1701.5,952.9 L1702.6,964.5 L1703.7,961.7 L1704.8,978.9 L1706.4,975.5 L1708.0,955.2 L1709.6,956.2 L1711.3,958.8 L1712.9,966.1 L1714.5,975.6 L1716.1,962.6 L1717.7,958.7 L1719.4,943.2 L1721.0,941.5 L1722.6,936.7 L1724.2,936.7 L1725.8,937.5 L1727.5,941.1 L1729.1,930.2 L1730.2,945.4 L1731.3,962.5 L1732.3,975.6 L1734.0,997.6 L1735.6,1007.4 L1737.2,1021.0 L1738.8,1025.8 L1740.4,1058.5 L1742.1,1056.7 L1743.1,1088.3 L1744.2,1084.7 L1745.3,1115.0 L1746.9,1098.6 L1748.5,1084.9 L1750.2,1066.4 L1751.8,1062.0 L1753.4,1050.6 L1755.0,1037.2 L1756.1,1037.9 L1757.2,1035.8 L1758.3,1043.7 L1759.9,1049.7 L1761.5,1060.2 L1763.1,1059.9 L1764.2,1032.3 L1765.3,1011.0 L1766.4,995.1 L1768.0,989.5 L1769.6,973.6 L1771.2,978.9 L1772.3,981.8 L1773.4,985.1 L1774.5,991.8 L1775.6,1006.2 L1776.6,1011.7 L1777.7,1027.5 L1778.8,1018.3 L1779.9,1016.7 L1781.0,1014.5 L1782.6,1021.8 L1784.2,1026.0 L1785.8,1037.2 L1787.5,1036.2 L1789.1,1039.2 L1790.7,1034.0 L1791.8,1026.4 L1792.9,1015.3 L1793.9,991.8 L1795.0,981.0 L1796.1,976.5 L1797.2,972.4 L1798.3,956.6 L1799.3,978.5 L1800.4,965.9 L1801.5,981.4 L1802.6,1004.6 L1803.7,1024.3 L1804.8,1045.5 L1805.8,1053.5 L1806.9,1079.4 L1808.0,1063.6 L1809.1,1042.5 L1810.2,1024.3 L1811.2,1025.0 L1812.3,1047.5 L1813.4,1056.7 L1814.5,1064.3 L1815.6,1048.6 L1816.6,1059.9 L1817.7,1074.1 L1818.8,1080.5 L1819.9,1089.1 L1821.5,1097.1 L1823.1,1102.3 L1824.7,1105.3 L1825.8,1117.9 L1826.9,1114.9 L1828.0,1121.5 L1829.3,1125.0 L1830.7,1117.3 L1832.0,1118.5 L1833.0,1118.5 L1834.1,1106.0 L1835.1,1106.5 L1836.1,1103.9 L1837.1,1112.0 L1838.1,1100.5 L1839.1,1109.0 L1840.1,1111.7 L1841.1,1118.5 L1842.1,1107.2 L1843.1,1104.2 L1844.1,1103.5 L1845.1,1103.6 L1846.1,1106.7 L1847.1,1100.5 L1848.1,1100.8 L1849.1,1099.3 L1850.1,1094.5 L1851.1,1095.2 L1852.1,1103.9 L1853.1,1097.5 L1854.1,1098.3 L1855.1,1100.5 L1856.1,1106.5 L1857.1,1098.3 L1858.1,1080.8 L1859.1,1067.4 L1860.1,1062.8 L1861.2,1058.2 L1862.2,1058.3 L1863.2,1062.9 L1864.2,1073.8 L1865.2,1076.4 L1866.2,1073.3 L1867.2,1059.7 L1868.2,1061.3 L1869.2,1069.7 L1870.2,1074.4 L1871.2,1079.4 L1872.2,1075.9 L1873.2,1087.7 L1874.2,1085.4 L1875.2,1081.9 L1876.2,1079.6 L1877.2,1079.4 L1878.2,1077.8 L1879.2,1074.6 L1880.2,1061.3 L1881.2,1055.5 L1882.2,1059.7 L1883.2,1055.3 L1884.2,1054.5 L1885.2,1076.1 L1886.2,1067.4 L1887.2,1065.6 L1888.3,1075.9 L1889.3,1070.4 L1890.8,1065.8 L1892.3,1072.8 L1893.8,1067.4 L1894.8,1091.6 L1895.8,1077.5 L1896.8,1103.5 L1897.8,1108.1 L1898.8,1120.3 L1899.8,1124.6 L1900.8,1067.9 L1901.8,1008.5 L1902.8,955.9 L1903.8,961.8 L1904.8,944.3 L1905.8,937.9 L1906.8,925.8 L1907.8,936.6 L1908.8,928.8 L1909.8,923.4 L1910.8,943.2 L1911.8,940.9 L1912.8,949.8 L1913.8,965.8 L1914.9,977.0 L1915.9,971.9 L1916.9,953.6 L1917.9,940.9 L1918.7,906.1 L1919.5,877.4 L1920.3,859.6 L1921.5,872.1 L1922.7,875.7 L1923.9,877.7 L1924.9,897.3 L1925.9,930.6 L1926.9,949.9 L1927.9,954.7 L1928.9,957.5 L1929.9,955.9 L1930.9,946.5 L1931.9,960.3 L1932.9,965.0 L1933.9,973.9 L1934.9,977.0 L1935.9,977.0 L1937.4,983.9 L1938.9,967.5 L1940.4,983.0 L1941.4,999.0 L1942.5,1015.9 L1943.5,1028.2 L1944.5,1054.3 L1945.5,1047.1 L1946.5,1064.3 L1947.5,1064.5 L1948.5,1068.6 L1949.5,1070.4 L1951.0,1079.3 L1952.5,1076.0 L1954.0,1082.4 L1955.0,1087.7 L1956.0,1076.1 L1957.0,1079.4 L1958.0,1095.9 L1959.0,1106.6 L1960.0,1124.6 L1961.5,1123.4 L1963.0,1116.8 L1964.5,1118.5 L1966.0,1106.8 L1967.5,1118.5 L1969.1,1109.5 L1969.6,1051.0 L1970.1,986.0 L1970.6,928.8 L1971.6,925.9 L1972.6,926.3 L1973.6,916.8 L1974.6,905.4 L1975.6,904.2 L1976.6,898.7 L1977.6,898.7 L1978.6,895.6 L1979.6,889.7 L1981.1,890.9 L1982.6,884.1 L1984.1,898.7 L1985.1,899.5 L1986.1,888.5 L1987.1,880.7 L1988.1,879.7 L1989.1,877.1 L1990.1,877.7 L1991.1,854.0 L1992.1,825.1 L1993.1,802.4 L1994.1,798.8 L1995.1,802.3 L1996.2,808.4 L1997.2,809.1 L1998.2,813.1 L1999.2,820.4 L2000.2,819.1 L2001.2,834.0 L2002.2,835.5 L2003.2,825.3 L2004.2,833.1 L2005.2,826.5 L2006.2,828.9 L2007.2,844.5 L2008.2,850.6 L2009.2,868.2 L2010.2,871.7 L2011.2,880.7 L2012.2,869.6 L2013.2,866.9 L2014.2,859.6 L2015.2,857.4 L2016.2,844.0 L2017.2,850.6 L2018.2,843.2 L2019.2,843.4 L2020.2,838.5 L2021.2,826.9 L2022.2,820.9 L2023.3,811.4 L2024.3,831.5 L2025.3,847.7 L2026.3,859.6 L2027.3,869.6 L2028.3,872.9 L2029.3,874.6 L2030.3,870.1 L2031.3,868.5 L2032.3,865.6 L2033.3,865.1 L2034.3,865.9 L2035.3,868.6 L2036.3,879.7 L2037.3,883.2 L2038.3,904.8 L2039.8,906.9 L2041.3,912.7 L2042.8,916.8 L2044.3,919.5 L2045.8,932.7 L2047.3,940.9 L2048.3,937.7 L2049.3,927.9 L2050.4,922.8 L2051.9,933.2 L2053.4,906.5 L2054.9,919.8 L2056.4,914.7 L2057.9,901.7 L2059.4,907.8 L2060.4,930.2 L2061.4,956.5 L2062.4,959.0 L2063.4,967.3 L2064.4,1003.8 L2065.4,1025.2 L2066.4,1034.1 L2067.4,1035.6 L2068.4,1043.3 L2069.4,1066.4 L2070.4,1071.1 L2071.4,1103.5 L2072.4,1097.1 L2073.4,1083.5 L2074.4,1070.4 L2074.9,1058.5 L2075.4,1043.0 L2075.9,1034.2 L2077.0,1002.6 L2078.0,961.3 L2079.0,928.8 L2080.0,919.0 L2081.0,904.0 L2082.0,895.7 L2083.0,871.3 L2084.0,871.5 L2085.0,859.6 L2086.0,851.7 L2087.0,845.7 L2088.0,832.5 L2089.0,823.7 L2090.0,824.3 L2091.0,820.4 L2092.0,821.8 L2093.0,817.2 L2094.0,814.4 L2094.8,797.2 L2095.6,777.2 L2096.4,742.2 L2097.1,743.2 L2097.8,743.6 L2098.5,760.2 L2099.5,785.0 L2100.5,808.8 L2101.5,820.4 L2102.0,867.7 L2102.5,909.2 L2103.0,946.9 L2104.1,961.6 L2105.1,979.1 L2106.1,1001.1 L2107.1,1012.0 L2108.1,1008.1 L2109.1,1019.2 L2110.1,997.2 L2111.1,989.6 L2112.1,983.0 L2113.6,1002.8 L2115.1,1005.7 L2116.6,1001.1 L2118.1,1005.4 L2119.6,1013.2 L2121.1,1025.2 L2121.9,1059.7 L2122.7,1087.6 L2123.5,1125.0 L2124.2,1078.9 L2124.9,1017.9 L2125.6,965.0 L2126.6,958.0 L2127.6,970.2 L2128.6,962.0 L2129.6,993.9 L2130.6,1033.4 L2131.7,1067.4 L2132.7,1060.3 L2133.7,1051.6 L2134.7,1046.3 L2135.7,1011.9 L2136.7,970.2 L2137.7,937.9 L2138.2,968.9 L2138.7,1008.0 L2139.2,1061.3 L2140.2,1059.4 L2141.2,1067.2 L2142.2,1076.4 L2143.7,1088.3 L2145.2,1100.8 L2146.7,1112.5 L2148.2,1108.6 L2149.7,1099.1 L2151.2,1091.4 L2152.2,1081.1 L2153.2,1075.5 L2154.2,1073.4 L2155.2,1065.7 L2156.2,1080.5 L2157.2,1085.4 L2158.3,1098.1 L2159.3,1108.4 L2160.3,1115.5 L2161.3,1099.8 L2162.3,1084.5 L2163.3,1070.4 L2164.1,1062.5 L2164.9,1044.4 L2165.7,1031.2 L2166.9,1040.3 L2168.1,1044.5 L2169.3,1046.3 L2170.8,1045.4 L2172.3,1049.5 L2173.8,1040.3 L2175.3,1042.1 L2176.8,1048.3 L2178.3,1055.3 L2179.3,1062.9 L2180.3,1075.0 L2181.3,1091.4 L2182.8,1102.0 L2184.3,1105.1 L2185.9,1097.5 L2187.4,1099.6 L2188.9,1104.6 L2190.4,1103.5 L2191.9,1115.0 L2193.4,1118.0 L2194.9,1118.5 L2196.4,1118.2 L2197.9,1097.6 L2199.4,1097.5 L2200.9,1089.9 L2202.4,1091.9 L2203.9,1085.4 L2205.4,1091.3 L2206.9,1082.0 L2208.4,1079.4 L2209.9,1067.7 L2211.4,1063.4 L2213.0,1058.3 L2214.5,1056.7 L2216.0,1057.6 L2217.5,1064.3 L2218.5,1070.6 L2219.5,1056.9 L2220.5,1058.3 L2222.0,1053.4 L2223.5,1060.2 L2225.0,1043.3 L2226.5,1059.8 L2228.0,1065.2 L2229.5,1073.4 L2231.0,1078.0 L2232.5,1091.7 L2234.0,1097.5 L2235.5,1111.4 L2237.0,1110.9 L2238.5,1112.5 L2239.6,1112.4 L2240.6,1099.0 L2241.6,1091.4 L2243.1,1093.3 L2244.6,1088.3 L2246.1,1088.4 L2247.6,1087.8 L2249.1,1089.6 L2250.6,1079.4 L2252.1,1069.5 L2253.6,1075.0 L2255.1,1073.4 L2256.1,1073.7 L2257.1,1068.2 L2258.1,1070.4 L2258.6,1054.6 L2259.1,1046.6 L2259.6,1028.2 L2260.6,1026.2 L2261.6,1005.6 L2262.6,989.1 L2263.6,986.8 L2264.6,972.5 L2265.6,977.0 L2267.2,988.6 L2268.7,979.5 L2270.2,980.0 L2271.2,970.8 L2272.2,955.8 L2273.2,952.9 L2274.2,947.6 L2275.2,936.9 L2276.2,937.9 L2277.2,946.3 L2278.2,956.5 L2279.2,962.0 L2280.2,956.1 L2281.2,951.5 L2282.2,943.9 L2283.7,942.2 L2285.2,957.8 L2286.7,952.9 L2288.2,945.3 L2289.7,934.9 L2291.2,940.9 L2292.7,945.9 L2294.3,948.7 L2295.8,959.0 L2297.3,954.4 L2298.8,959.0 L2300.3,962.0 L2300.8,961.6 L2301.3,951.5 L2301.8,955.9" fill="none" stroke="#2a2aff" stroke-width="2.5" stroke-linejoin="round"/>
<defs><pattern id="speck" patternUnits="userSpaceOnUse" width="21" height="21"><rect x="0" y="0" width="3" height="3" fill="#0000a0" fill-opacity="0.6"/><rect x="0" y="9" width="3" height="3" fill="#0000a0" fill-opacity="0.6"/><rect x="0" y="18" width="3" height="3" fill="#7f8cff" fill-opacity="0.7"/><rect x="3" y="9" width="3" height="3" fill="#ffffff" fill-opacity="0.6"/><rect x="3" y="12" width="3" height="3" fill="#7f8cff" fill-opacity="0.7"/><rect x="3" y="15" width="3" height="3" fill="#ffffff" fill-opacity="0.6"/><rect x="6" y="3" width="3" height="3" fill="#ffffff" fill-opacity="0.6"/><rect x="6" y="18" width="3" height="3" fill="#ffffff" fill-opacity="0.6"/><rect x="9" y="0" width="3" height="3" fill="#ffffff" fill-opacity="0.6"/><rect x="9" y="6" width="3" height="3" fill="#ffffff" fill-opacity="0.6"/><rect x="9" y="9" width="3" height="3" fill="#7f8cff" fill-opacity="0.7"/><rect x="9" y="12" width="3" height="3" fill="#7f8cff" fill-opacity="0.7"/><rect x="9" y="15" width="3" height="3" fill="#ffffff" fill-opacity="0.6"/><rect x="9" y="18" width="3" height="3" fill="#0000a0" fill-opacity="0.6"/><rect x="12" y="0" width="3" height="3" fill="#0000a0" fill-opacity="0.6"/><rect x="12" y="12" width="3" height="3" fill="#0000a0" fill-opacity="0.6"/><rect x="12" y="18" width="3" height="3" fill="#0000a0" fill-opacity="0.6"/><rect x="15" y="0" width="3" height="3" fill="#7f8cff" fill-opacity="0.7"/><rect x="15" y="15" width="3" height="3" fill="#7f8cff" fill-opacity="0.7"/><rect x="15" y="18" width="3" height="3" fill="#7f8cff" fill-opacity="0.7"/><rect x="18" y="0" width="3" height="3" fill="#7f8cff" fill-opacity="0.7"/><rect x="18" y="3" width="3" height="3" fill="#ffffff" fill-opacity="0.6"/><rect x="18" y="9" width="3" height="3" fill="#0000a0" fill-opacity="0.6"/><rect x="18" y="15" width="3" height="3" fill="#7f8cff" fill-opacity="0.7"/></pattern></defs>
<g>
<polygon points="240.1,337.6 253.1,337.6 253.1,348.0 240.1,348.0" fill="#0b34ff" stroke="#9aa6ff" stroke-width="1.6" stroke-linejoin="round"/>
<polygon points="240.1,337.6 253.1,337.6 253.1,348.0 240.1,348.0" fill="url(#speck)"/>
<polygon points="247.9,312.4 255.7,312.4 255.7,329.8 248.7,329.8" fill="#0b34ff" stroke="#9aa6ff" stroke-width="1.6" stroke-linejoin="round"/>
<polygon points="250.1,317.6 254.3,317.6 254.3,325.4 250.1,325.4" fill="#18c8ff"/>
<polygon points="247.9,312.4 255.7,312.4 255.7,329.8 248.7,329.8" fill="url(#speck)"/>
<polygon points="255.7,249.9 260.0,250.7 262.6,261.2 266.1,275.1 267.8,287.2 266.1,294.2 256.6,294.2 255.7,299.4 251.3,299.4 250.8,287.2 251.3,268.1 254.0,256.0" fill="#0b34ff" stroke="#9aa6ff" stroke-width="1.6" stroke-linejoin="round"/>
<polygon points="255.7,257.7 259.5,258.6 261.2,271.6 264.7,278.5 265.8,289.0 259.2,290.7 255.7,282.0 254.3,268.1" fill="#18c8ff"/>
<polygon points="259.5,278.9 264.4,278.9 264.4,287.2 259.5,287.2" fill="#d8ff28"/>
<polygon points="255.7,249.9 260.0,250.7 262.6,261.2 266.1,275.1 267.8,287.2 266.1,294.2 256.6,294.2 255.7,299.4 251.3,299.4 250.8,287.2 251.3,268.1 254.0,256.0" fill="url(#speck)"/>
<polygon points="272.2,336.7 280.0,336.7 280.0,349.8 272.2,349.8" fill="#8a96ff" stroke="#9aa6ff" stroke-width="1.6" stroke-linejoin="round"/>
<polygon points="273.9,338.5 278.3,338.5 278.3,348.0 273.9,348.0" fill="#0b34ff"/>
<polygon points="272.2,336.7 280.0,336.7 280.0,349.8 272.2,349.8" fill="url(#speck)"/>
<polygon points="280.0,302.9 283.5,289.0 287.0,289.0 290.4,302.9 293.9,302.9 295.6,289.0 299.1,289.0 300.9,302.9 304.3,302.9 305.2,313.3 313.0,311.5 313.9,323.7 319.1,327.2 320.0,340.2 314.7,341.1 310.4,341.1 305.2,340.2 300.9,334.1 299.1,327.2 288.7,327.2 285.2,334.1 280.9,335.0 278.6,322.0 278.3,306.3" fill="#0b34ff" stroke="#9aa6ff" stroke-width="1.6" stroke-linejoin="round"/>
<polygon points="282.6,301.1 287.0,296.8 290.4,307.2 295.6,299.4 299.1,302.0 300.9,315.0 306.1,317.6 311.3,321.1 312.7,330.6 307.8,335.0 301.7,330.6 295.6,323.7 288.7,322.0 283.5,323.7 281.2,316.8" fill="#18c8ff"/>
<polygon points="283.8,298.5 289.0,298.5 289.0,307.2 283.8,307.2" fill="#70ffa0"/>
<polygon points="299.1,317.6 302.6,317.6 302.6,325.4 299.1,325.4" fill="#d8ff28"/>
<polygon points="306.1,321.1 310.4,321.1 310.4,327.2 306.1,327.2" fill="#70ffa0"/>
<polygon points="280.0,302.9 283.5,289.0 287.0,289.0 290.4,302.9 293.9,302.9 295.6,289.0 299.1,289.0 300.9,302.9 304.3,302.9 305.2,313.3 313.0,311.5 313.9,323.7 319.1,327.2 320.0,340.2 314.7,341.1 310.4,341.1 305.2,340.2 300.9,334.1 299.1,327.2 288.7,327.2 285.2,334.1 280.9,335.0 278.6,322.0 278.3,306.3" fill="url(#speck)"/>
<polygon points="327.8,302.9 332.1,302.9 333.9,313.3 332.1,328.9 328.6,328.9 326.6,315.0" fill="#8a96ff" stroke="#9aa6ff" stroke-width="1.6" stroke-linejoin="round"/>
<polygon points="328.6,306.3 332.1,306.3 332.1,323.7 328.6,323.7" fill="#0b34ff"/>
<polygon points="327.8,302.9 332.1,302.9 333.9,313.3 332.1,328.9 328.6,328.9 326.6,315.0" fill="url(#speck)"/>
<polygon points="346.0,269.9 350.4,269.9 350.4,289.0 346.0,289.0" fill="#0000b8" stroke="#9aa6ff" stroke-width="1.6" stroke-linejoin="round"/>
<polygon points="346.0,269.9 350.4,269.9 350.4,289.0 346.0,289.0" fill="url(#speck)"/>
<polygon points="350.0,294.2 353.8,294.2 353.8,309.8 350.0,309.8" fill="#0b34ff" stroke="#9aa6ff" stroke-width="1.6" stroke-linejoin="round"/>
<polygon points="350.0,294.2 353.8,294.2 353.8,309.8 350.0,309.8" fill="url(#speck)"/>
<polygon points="367.7,249.0 372.9,249.0 372.9,261.2 367.7,261.2" fill="#8a96ff" stroke="#9aa6ff" stroke-width="1.6" stroke-linejoin="round"/>
<polygon points="367.7,249.0 372.9,249.0 372.9,261.2 367.7,261.2" fill="url(#speck)"/>
<polygon points="365.1,266.4 371.7,266.4 371.7,282.0 365.1,282.0" fill="#0b34ff" stroke="#9aa6ff" stroke-width="1.6" stroke-linejoin="round"/>
<polygon points="365.1,266.4 367.7,266.4 367.7,282.0 365.1,282.0" fill="#8a96ff"/>
<polygon points="365.1,266.4 371.7,266.4 371.7,282.0 365.1,282.0" fill="url(#speck)"/>
<polygon points="385.1,264.6 392.9,257.7 397.3,257.7 397.8,271.6 394.6,280.3 389.4,287.2 386.0,287.2 385.1,275.1" fill="#0b34ff" stroke="#9aa6ff" stroke-width="1.6" stroke-linejoin="round"/>
<polygon points="386.8,264.6 392.9,264.6 392.9,275.1 386.8,275.1" fill="#0000b8"/>
<polygon points="385.1,264.6 392.9,257.7 397.3,257.7 397.8,271.6 394.6,280.3 389.4,287.2 386.0,287.2 385.1,275.1" fill="url(#speck)"/>
<polygon points="394.6,216.0 399.0,216.0 400.7,223.0 398.1,254.2 393.8,254.2 392.9,240.3" fill="#0b34ff" stroke="#9aa6ff" stroke-width="1.6" stroke-linejoin="round"/>
<polygon points="394.6,216.0 399.0,216.0 400.7,223.0 398.1,254.2 393.8,254.2 392.9,240.3" fill="url(#speck)"/>
<polygon points="401.6,209.9 406.8,209.9 406.8,218.6 401.6,218.6" fill="#8a96ff" stroke="#9aa6ff" stroke-width="1.6" stroke-linejoin="round"/>
<polygon points="401.6,209.9 406.8,209.9 406.8,218.6 401.6,218.6" fill="url(#speck)"/>
<polygon points="405.1,231.6 410.3,231.6 410.3,254.2 405.1,254.2" fill="#0b34ff" stroke="#9aa6ff" stroke-width="1.6" stroke-linejoin="round"/>
<polygon points="405.1,231.6 407.2,231.6 407.2,254.2 405.1,254.2" fill="#8a96ff"/>
<polygon points="405.1,231.6 410.3,231.6 410.3,254.2 405.1,254.2" fill="url(#speck)"/>
<polygon points="421.6,207.3 428.5,207.3 428.5,221.2 421.6,221.2" fill="#0b34ff" stroke="#9aa6ff" stroke-width="1.6" stroke-linejoin="round"/>
<polygon points="423.3,211.7 426.8,211.7 426.8,217.7 423.3,217.7" fill="#18c8ff"/>
<polygon points="421.6,207.3 428.5,207.3 428.5,221.2 421.6,221.2" fill="url(#speck)"/>
<polygon points="438.1,202.1 445.0,197.8 450.2,202.1 455.4,210.8 455.8,233.4 450.2,235.1 449.4,245.5 445.0,247.3 443.3,240.3 439.8,228.2 437.2,223.0 436.9,207.3" fill="#0000b8" stroke="#9aa6ff" stroke-width="1.6" stroke-linejoin="round"/>
<polygon points="439.8,205.6 446.8,203.8 452.0,212.5 451.1,226.4 445.0,233.4 440.7,223.0" fill="#0b34ff"/>
<polygon points="438.1,202.1 445.0,197.8 450.2,202.1 455.4,210.8 455.8,233.4 450.2,235.1 449.4,245.5 445.0,247.3 443.3,240.3 439.8,228.2 437.2,223.0 436.9,207.3" fill="url(#speck)"/>
<polygon points="413.8,166.5 421.6,166.5 421.6,181.3 413.8,181.3" fill="#0b34ff" stroke="#9aa6ff" stroke-width="1.6" stroke-linejoin="round"/>
<polygon points="413.8,166.5 421.6,166.5 421.6,181.3 413.8,181.3" fill="url(#speck)"/>
<polygon points="425.0,168.2 431.1,168.2 431.1,181.3 425.0,181.3" fill="#0b34ff" stroke="#9aa6ff" stroke-width="1.6" stroke-linejoin="round"/>
<polygon points="425.0,168.2 427.7,168.2 427.7,181.3 425.0,181.3" fill="#8a96ff"/>
<polygon points="425.0,168.2 431.1,168.2 431.1,181.3 425.0,181.3" fill="url(#speck)"/>
<polygon points="434.6,166.5 438.9,166.5 439.8,186.5 434.9,186.5" fill="#8a96ff" stroke="#9aa6ff" stroke-width="1.6" stroke-linejoin="round"/>
<polygon points="435.5,169.1 438.4,169.1 438.4,184.7 435.5,184.7" fill="#0b34ff"/>
<polygon points="434.6,166.5 438.9,166.5 439.8,186.5 434.9,186.5" fill="url(#speck)"/>
<polygon points="457.2,174.3 472.8,174.3 472.8,188.2 457.2,188.2" fill="#0000b8" stroke="#9aa6ff" stroke-width="1.6" stroke-linejoin="round"/>
<polygon points="458.1,178.7 471.9,178.7 471.9,183.9 458.1,183.9" fill="#0b34ff"/>
<polygon points="457.2,174.3 472.8,174.3 472.8,188.2 457.2,188.2" fill="url(#speck)"/>
<polygon points="486.7,174.3 493.7,174.3 493.7,187.3 486.7,187.3" fill="#0b34ff" stroke="#9aa6ff" stroke-width="1.6" stroke-linejoin="round"/>
<polygon points="486.7,174.3 493.7,174.3 493.7,187.3 486.7,187.3" fill="url(#speck)"/>
<polygon points="473.7,240.3 479.4,240.3 479.4,268.1 473.7,268.1" fill="#8a96ff" stroke="#9aa6ff" stroke-width="1.6" stroke-linejoin="round"/>
<polygon points="474.6,243.8 478.0,243.8 478.0,264.6 474.6,264.6" fill="#0b34ff"/>
<polygon points="473.7,240.3 479.4,240.3 479.4,268.1 473.7,268.1" fill="url(#speck)"/>
<polygon points="480.6,228.2 488.4,228.2 488.4,247.3 480.6,247.3" fill="#0b34ff" stroke="#9aa6ff" stroke-width="1.6" stroke-linejoin="round"/>
<polygon points="482.4,229.9 486.7,229.9 486.7,242.1 482.4,242.1" fill="#0000b8"/>
<polygon points="480.6,228.2 488.4,228.2 488.4,247.3 480.6,247.3" fill="url(#speck)"/>
<polygon points="495.4,236.9 502.7,236.9 502.7,259.4 495.4,259.4" fill="#8a96ff" stroke="#9aa6ff" stroke-width="1.6" stroke-linejoin="round"/>
<polygon points="496.8,238.6 500.6,238.6 500.6,258.6 496.8,258.6" fill="#0b34ff"/>
<polygon points="495.4,236.9 502.7,236.9 502.7,259.4 495.4,259.4" fill="url(#speck)"/>
<polygon points="503.2,263.8 509.3,263.8 509.3,281.1 503.2,281.1" fill="#0000b8" stroke="#9aa6ff" stroke-width="1.6" stroke-linejoin="round"/>
<polygon points="503.2,263.8 509.3,263.8 509.3,281.1 503.2,281.1" fill="url(#speck)"/>
<polygon points="503.5,263.8 509.6,263.8 509.6,281.1 503.5,281.1" fill="#0000b8" stroke="#9aa6ff" stroke-width="1.6" stroke-linejoin="round"/>
<polygon points="503.5,263.8 509.6,263.8 509.6,281.1 503.5,281.1" fill="url(#speck)"/>
<polygon points="533.0,289.0 538.2,289.0 538.2,322.0 533.0,322.0" fill="#8a96ff" stroke="#9aa6ff" stroke-width="1.6" stroke-linejoin="round"/>
<polygon points="533.5,290.7 536.5,290.7 536.5,320.2 533.5,320.2" fill="#0b34ff"/>
<polygon points="533.0,289.0 538.2,289.0 538.2,322.0 533.0,322.0" fill="url(#speck)"/>
<polygon points="552.1,275.9 557.3,275.9 557.3,289.0 552.1,289.0" fill="#8a96ff" stroke="#9aa6ff" stroke-width="1.6" stroke-linejoin="round"/>
<polygon points="552.1,275.9 557.3,275.9 557.3,289.0 552.1,289.0" fill="url(#speck)"/>
<polygon points="564.3,275.9 571.2,275.9 574.7,309.8 575.6,320.2 569.5,320.2 566.9,311.5 562.5,306.3 559.1,320.2 557.0,320.2 557.3,299.4 562.5,295.9 565.1,289.0" fill="#0b34ff" stroke="#9aa6ff" stroke-width="1.6" stroke-linejoin="round"/>
<polygon points="568.6,278.5 572.6,278.5 572.6,315.0 568.6,315.0" fill="#18c8ff"/>
<polygon points="558.2,297.6 564.3,297.6 564.3,309.8 558.2,309.8" fill="#0000b8"/>
<polygon points="564.3,275.9 571.2,275.9 574.7,309.8 575.6,320.2 569.5,320.2 566.9,311.5 562.5,306.3 559.1,320.2 557.0,320.2 557.3,299.4 562.5,295.9 565.1,289.0" fill="url(#speck)"/>
<polygon points="573.0,330.6 586.9,330.6 586.9,343.7 573.0,343.7" fill="#0b34ff" stroke="#9aa6ff" stroke-width="1.6" stroke-linejoin="round"/>
<polygon points="577.3,332.4 581.6,332.4 581.6,339.3 577.3,339.3" fill="#18c8ff"/>
<polygon points="573.0,330.6 586.9,330.6 586.9,343.7 573.0,343.7" fill="url(#speck)"/>
<polygon points="593.8,301.1 600.7,301.1 602.5,330.6 606.0,334.1 606.0,355.8 600.7,355.8 598.1,337.6 594.7,323.7" fill="#18c8ff" stroke="#9aa6ff" stroke-width="1.6" stroke-linejoin="round"/>
<polygon points="593.8,306.3 599.9,306.3 599.9,323.7 593.8,323.7" fill="#d8ff28"/>
<polygon points="600.7,344.5 605.1,344.5 605.1,355.0 600.7,355.0" fill="#0000b8"/>
<polygon points="593.8,301.1 600.7,301.1 602.5,330.6 606.0,334.1 606.0,355.8 600.7,355.8 598.1,337.6 594.7,323.7" fill="url(#speck)"/>
<polygon points="606.0,312.4 614.6,309.8 618.1,323.7 616.4,341.1 611.2,341.1 611.2,328.9 606.0,325.4" fill="#8a96ff" stroke="#9aa6ff" stroke-width="1.6" stroke-linejoin="round"/>
<polygon points="611.2,325.4 616.0,325.4 616.0,339.3 611.2,339.3" fill="#18c8ff"/>
<polygon points="613.8,311.5 617.2,311.5 617.2,323.7 613.8,323.7" fill="#0b34ff"/>
<polygon points="606.0,312.4 614.6,309.8 618.1,323.7 616.4,341.1 611.2,341.1 611.2,328.9 606.0,325.4" fill="url(#speck)"/>
<polygon points="616.4,297.6 621.6,292.4 625.1,283.8 628.5,289.0 632.0,290.7 634.6,283.8 639.0,287.2 644.2,278.5 647.6,278.5 649.4,289.0 652.9,276.8 657.2,276.8 658.1,302.9 661.5,316.8 662.4,360.2 657.2,360.2 656.3,330.6 652.9,313.3 644.2,314.1 637.2,314.1 632.0,316.8 628.5,315.0 623.3,327.2 618.1,327.2 616.4,315.0" fill="#0b34ff" stroke="#9aa6ff" stroke-width="1.6" stroke-linejoin="round"/>
<polygon points="621.6,299.4 625.1,293.3 632.0,295.0 639.0,294.2 644.2,289.8 649.4,295.0 652.9,301.1 652.9,306.3 645.9,308.9 632.0,308.9 625.1,308.9 621.6,306.3" fill="#18c8ff"/>
<polygon points="626.3,299.7 631.1,299.7 631.1,304.6 626.3,304.6" fill="#ff9a00"/>
<polygon points="644.5,300.8 649.7,300.8 649.7,306.0 644.5,306.0" fill="#70ffa0"/>
<polygon points="657.2,337.6 661.9,337.6 661.9,358.4 657.2,358.4" fill="#8a96ff"/>
<polygon points="616.4,297.6 621.6,292.4 625.1,283.8 628.5,289.0 632.0,290.7 634.6,283.8 639.0,287.2 644.2,278.5 647.6,278.5 649.4,289.0 652.9,276.8 657.2,276.8 658.1,302.9 661.5,316.8 662.4,360.2 657.2,360.2 656.3,330.6 652.9,313.3 644.2,314.1 637.2,314.1 632.0,316.8 628.5,315.0 623.3,327.2 618.1,327.2 616.4,315.0" fill="url(#speck)"/>
<polygon points="725.8,276.8 732.8,263.8 735.4,264.6 734.5,294.2 731.0,301.1 729.3,316.8 726.7,328.9 722.9,328.9 722.7,306.3" fill="#0b34ff" stroke="#9aa6ff" stroke-width="1.6" stroke-linejoin="round"/>
<polygon points="724.1,311.5 727.5,311.5 727.5,322.0 724.1,322.0" fill="#18c8ff"/>
<polygon points="725.8,276.8 732.8,263.8 735.4,264.6 734.5,294.2 731.0,301.1 729.3,316.8 726.7,328.9 722.9,328.9 722.7,306.3" fill="url(#speck)"/>
<polygon points="734.5,308.9 744.9,308.9 744.9,323.7 734.5,323.7" fill="#0b34ff" stroke="#9aa6ff" stroke-width="1.6" stroke-linejoin="round"/>
<polygon points="736.2,312.4 743.2,312.4 743.2,319.4 736.2,319.4" fill="#18c8ff"/>
<polygon points="734.5,308.9 744.9,308.9 744.9,323.7 734.5,323.7" fill="url(#speck)"/>
<polygon points="764.9,322.8 771.0,322.8 771.0,348.0 764.9,348.0" fill="#18c8ff" stroke="#9aa6ff" stroke-width="1.6" stroke-linejoin="round"/>
<polygon points="764.9,339.3 768.4,339.3 768.4,348.0 764.9,348.0" fill="#0b34ff"/>
<polygon points="764.9,322.8 771.0,322.8 771.0,348.0 764.9,348.0" fill="url(#speck)"/>
<polygon points="917.7,329.8 929.8,329.8 929.8,341.9 917.7,341.9" fill="#8a96ff" stroke="#9aa6ff" stroke-width="1.6" stroke-linejoin="round"/>
<polygon points="918.2,330.6 920.6,330.6 920.6,341.1 918.2,341.1" fill="#0b34ff"/>
<polygon points="926.4,330.6 929.0,330.6 929.0,341.1 926.4,341.1" fill="#0b34ff"/>
<polygon points="917.7,329.8 929.8,329.8 929.8,341.9 917.7,341.9" fill="url(#speck)"/>
<polygon points="923.8,297.6 929.8,297.6 929.8,327.2 923.8,327.2" fill="#0b34ff" stroke="#9aa6ff" stroke-width="1.6" stroke-linejoin="round"/>
<polygon points="926.9,299.4 929.8,299.4 929.8,326.3 926.9,326.3" fill="#0000b8"/>
<polygon points="923.8,297.6 929.8,297.6 929.8,327.2 923.8,327.2" fill="url(#speck)"/>
<polygon points="975.0,291.6 981.1,291.6 981.1,314.1 975.0,314.1" fill="#8a96ff" stroke="#9aa6ff" stroke-width="1.6" stroke-linejoin="round"/>
<polygon points="975.5,299.4 980.2,299.4 980.2,304.6 975.5,304.6" fill="#0b34ff"/>
<polygon points="975.0,291.6 981.1,291.6 981.1,314.1 975.0,314.1" fill="url(#speck)"/>
<polygon points="981.1,276.8 987.2,275.1 987.2,302.0 981.1,302.0" fill="#8a96ff" stroke="#9aa6ff" stroke-width="1.6" stroke-linejoin="round"/>
<polygon points="983.7,276.8 986.6,276.8 986.6,299.4 983.7,299.4" fill="#0b34ff"/>
<polygon points="981.1,276.8 987.2,275.1 987.2,302.0 981.1,302.0" fill="url(#speck)"/>
<polygon points="997.6,278.5 1005.4,274.2 1005.4,295.9 998.4,295.9 996.4,289.0" fill="#8a96ff" stroke="#9aa6ff" stroke-width="1.6" stroke-linejoin="round"/>
<polygon points="999.3,279.4 1004.5,279.4 1004.5,289.0 999.3,289.0" fill="#0b34ff"/>
<polygon points="997.6,278.5 1005.4,274.2 1005.4,295.9 998.4,295.9 996.4,289.0" fill="url(#speck)"/>
<polygon points="1022.8,248.1 1028.8,248.1 1028.8,262.9 1022.8,262.9" fill="#0b34ff" stroke="#9aa6ff" stroke-width="1.6" stroke-linejoin="round"/>
<polygon points="1022.8,248.1 1028.8,248.1 1028.8,262.9 1022.8,262.9" fill="url(#speck)"/>
<polygon points="1032.3,271.6 1038.4,263.8 1043.6,268.1 1043.6,283.8 1040.1,294.2 1032.3,294.2" fill="#0b34ff" stroke="#9aa6ff" stroke-width="1.6" stroke-linejoin="round"/>
<polygon points="1034.1,271.6 1040.1,271.6 1040.1,290.7 1034.1,290.7" fill="#0000b8"/>
<polygon points="1032.3,271.6 1038.4,263.8 1043.6,268.1 1043.6,283.8 1040.1,294.2 1032.3,294.2" fill="url(#speck)"/>
<polygon points="1058.4,209.1 1064.4,209.1 1064.4,235.1 1058.4,235.1" fill="#0000b8" stroke="#9aa6ff" stroke-width="1.6" stroke-linejoin="round"/>
<polygon points="1058.9,223.0 1063.6,223.0 1063.6,231.6 1058.9,231.6" fill="#0b34ff"/>
<polygon points="1058.4,209.1 1064.4,209.1 1064.4,235.1 1058.4,235.1" fill="url(#speck)"/>
<polygon points="1113.9,209.1 1120.0,202.1 1125.2,195.2 1126.9,174.3 1133.0,174.3 1132.1,202.1 1130.4,219.5 1126.9,240.3 1125.2,254.2 1121.7,254.2 1119.6,238.6 1114.7,219.5" fill="#0b34ff" stroke="#9aa6ff" stroke-width="1.6" stroke-linejoin="round"/>
<polygon points="1121.7,207.3 1126.0,200.4 1129.5,179.5 1131.2,181.3 1129.5,207.3 1126.9,223.0 1124.3,233.4 1121.3,223.0" fill="#18c8ff"/>
<polygon points="1115.6,212.5 1121.7,212.5 1121.7,219.5 1115.6,219.5" fill="#0000b8"/>
<polygon points="1113.9,209.1 1120.0,202.1 1125.2,195.2 1126.9,174.3 1133.0,174.3 1132.1,202.1 1130.4,219.5 1126.9,240.3 1125.2,254.2 1121.7,254.2 1119.6,238.6 1114.7,219.5" fill="url(#speck)"/>
<polygon points="1136.5,195.2 1138.2,177.8 1142.5,177.8 1144.3,186.5 1149.5,190.0 1153.8,189.1 1156.4,210.8 1157.3,228.2 1151.2,227.3 1144.3,224.7 1139.1,219.5 1135.6,210.8" fill="#0b34ff" stroke="#9aa6ff" stroke-width="1.6" stroke-linejoin="round"/>
<polygon points="1139.9,191.7 1143.4,190.0 1149.5,195.2 1153.8,202.1 1154.7,219.5 1149.5,223.0 1142.5,217.7 1139.9,207.3" fill="#18c8ff"/>
<polygon points="1146.0,200.4 1153.0,200.4 1153.0,217.7 1146.0,217.7" fill="#70ffa0"/>
<polygon points="1136.5,195.2 1138.2,177.8 1142.5,177.8 1144.3,186.5 1149.5,190.0 1153.8,189.1 1156.4,210.8 1157.3,228.2 1151.2,227.3 1144.3,224.7 1139.1,219.5 1135.6,210.8" fill="url(#speck)"/>
<polygon points="1152.1,231.6 1159.0,229.9 1163.4,242.1 1162.5,254.2 1156.4,254.2 1152.6,247.3" fill="#0b34ff" stroke="#9aa6ff" stroke-width="1.6" stroke-linejoin="round"/>
<polygon points="1154.3,235.1 1160.3,235.1 1160.3,251.6 1154.3,251.6" fill="#d8ff28"/>
<polygon points="1155.0,239.5 1159.9,239.5 1159.9,247.3 1155.0,247.3" fill="#ff9a00"/>
<polygon points="1158.2,245.5 1160.9,245.5 1160.9,250.7 1158.2,250.7" fill="#f01000"/>
<polygon points="1152.1,231.6 1159.0,229.9 1163.4,242.1 1162.5,254.2 1156.4,254.2 1152.6,247.3" fill="url(#speck)"/>
<polygon points="1159.0,256.0 1168.6,255.1 1171.2,261.2 1174.7,254.2 1177.3,240.3 1181.6,236.9 1184.2,242.1 1185.1,261.2 1179.0,271.6 1178.1,287.2 1173.8,289.0 1172.1,308.1 1169.5,302.9 1163.4,301.1 1160.8,297.6 1159.0,280.3" fill="#0b34ff" stroke="#9aa6ff" stroke-width="1.6" stroke-linejoin="round"/>
<polygon points="1161.6,262.9 1170.3,262.9 1174.7,271.6 1174.7,287.2 1170.3,292.4 1163.4,289.0 1161.3,275.1" fill="#18c8ff"/>
<polygon points="1161.6,268.1 1167.7,268.1 1167.7,278.5 1161.6,278.5" fill="#d8ff28"/>
<polygon points="1163.4,270.7 1166.9,270.7 1166.9,275.9 1163.4,275.9" fill="#ff9a00"/>
<polygon points="1177.3,243.8 1183.9,243.8 1183.9,254.2 1177.3,254.2" fill="#18c8ff"/>
<polygon points="1159.0,256.0 1168.6,255.1 1171.2,261.2 1174.7,254.2 1177.3,240.3 1181.6,236.9 1184.2,242.1 1185.1,261.2 1179.0,271.6 1178.1,287.2 1173.8,289.0 1172.1,308.1 1169.5,302.9 1163.4,301.1 1160.8,297.6 1159.0,280.3" fill="url(#speck)"/>
<polygon points="1181.6,261.2 1191.2,261.2 1192.9,254.2 1196.4,256.0 1198.1,276.8 1201.6,289.0 1205.1,282.0 1207.7,276.8 1220.7,276.8 1224.2,289.0 1227.6,289.0 1229.4,302.9 1229.4,323.7 1225.9,332.4 1220.7,330.6 1217.2,323.7 1212.0,316.8 1206.8,316.8 1203.3,330.6 1199.9,335.9 1196.4,330.6 1194.6,306.3 1191.2,295.9 1186.0,289.0 1183.4,280.3" fill="#0b34ff" stroke="#9aa6ff" stroke-width="1.6" stroke-linejoin="round"/>
<polygon points="1184.2,264.6 1191.2,264.6 1194.6,271.6 1199.9,292.4 1205.1,287.2 1212.0,282.0 1219.0,282.0 1222.4,294.2 1225.9,302.9 1224.2,316.8 1219.0,322.0 1213.8,313.3 1206.8,311.5 1201.6,323.7 1198.1,316.8 1196.4,302.9 1191.2,289.0 1186.0,282.0" fill="#18c8ff"/>
<polygon points="1199.5,303.7 1204.7,303.7 1204.7,313.3 1199.5,313.3" fill="#d8ff28"/>
<polygon points="1184.2,265.5 1191.2,265.5 1191.2,271.6 1184.2,271.6" fill="#70ffa0"/>
<polygon points="1206.8,289.0 1212.0,289.0 1212.0,295.9 1206.8,295.9" fill="#70ffa0"/>
<polygon points="1192.9,257.7 1196.7,257.7 1196.7,264.6 1192.9,264.6" fill="#d8ff28"/>
<polygon points="1215.5,279.4 1219.8,279.4 1219.8,285.5 1215.5,285.5" fill="#70ffa0"/>
<polygon points="1181.6,261.2 1191.2,261.2 1192.9,254.2 1196.4,256.0 1198.1,276.8 1201.6,289.0 1205.1,282.0 1207.7,276.8 1220.7,276.8 1224.2,289.0 1227.6,289.0 1229.4,302.9 1229.4,323.7 1225.9,332.4 1220.7,330.6 1217.2,323.7 1212.0,316.8 1206.8,316.8 1203.3,330.6 1199.9,335.9 1196.4,330.6 1194.6,306.3 1191.2,295.9 1186.0,289.0 1183.4,280.3" fill="url(#speck)"/>
<polygon points="1227.6,302.9 1238.1,302.9 1239.8,282.0 1242.4,268.1 1246.8,271.6 1249.4,289.0 1250.2,302.9 1252.0,316.8 1252.8,323.7 1249.4,330.6 1241.5,332.4 1237.2,341.1 1235.5,349.8 1229.4,349.8 1226.8,337.6 1220.7,330.6" fill="#0000b8" stroke="#9aa6ff" stroke-width="1.6" stroke-linejoin="round"/>
<polygon points="1231.1,304.6 1238.9,304.6 1241.5,292.4 1245.9,289.0 1247.6,302.9 1245.0,315.0 1239.8,322.0 1232.9,323.7" fill="#18c8ff"/>
<polygon points="1241.9,278.5 1245.4,278.5 1245.4,285.5 1241.9,285.5" fill="#ff9a00"/>
<polygon points="1222.4,316.8 1231.1,316.8 1231.1,330.6 1222.4,330.6" fill="#0b34ff"/>
<polygon points="1227.6,302.9 1238.1,302.9 1239.8,282.0 1242.4,268.1 1246.8,271.6 1249.4,289.0 1250.2,302.9 1252.0,316.8 1252.8,323.7 1249.4,330.6 1241.5,332.4 1237.2,341.1 1235.5,349.8 1229.4,349.8 1226.8,337.6 1220.7,330.6" fill="url(#speck)"/>
<polygon points="1249.4,330.6 1253.7,334.1 1255.4,346.3 1257.2,367.1 1252.8,367.1 1251.1,353.2 1248.5,341.1" fill="#8a96ff" stroke="#9aa6ff" stroke-width="1.6" stroke-linejoin="round"/>
<polygon points="1251.1,335.9 1254.6,335.9 1254.6,348.0 1251.1,348.0" fill="#0b34ff"/>
<polygon points="1249.4,330.6 1253.7,334.1 1255.4,346.3 1257.2,367.1 1252.8,367.1 1251.1,353.2 1248.5,341.1" fill="url(#speck)"/>
<polygon points="1253.7,304.6 1259.8,304.6 1259.8,328.9 1253.7,328.9" fill="#8a96ff" stroke="#9aa6ff" stroke-width="1.6" stroke-linejoin="round"/>
<polygon points="1255.1,306.3 1258.6,306.3 1258.6,323.7 1255.1,323.7" fill="#18c8ff"/>
<polygon points="1253.7,304.6 1259.8,304.6 1259.8,328.9 1253.7,328.9" fill="url(#speck)"/>
<polygon points="1265.9,306.3 1271.1,306.3 1274.5,323.7 1274.5,334.1 1267.6,334.1 1265.9,323.7" fill="#0000b8" stroke="#9aa6ff" stroke-width="1.6" stroke-linejoin="round"/>
<polygon points="1266.7,316.8 1271.9,316.8 1271.9,328.9 1266.7,328.9" fill="#0b34ff"/>
<polygon points="1265.9,306.3 1271.1,306.3 1274.5,323.7 1274.5,334.1 1267.6,334.1 1265.9,323.7" fill="url(#speck)"/>
<polygon points="1275.4,264.6 1279.8,261.2 1284.1,262.9 1286.7,271.6 1286.7,283.8 1281.5,287.2 1276.3,282.0" fill="#0b34ff" stroke="#9aa6ff" stroke-width="1.6" stroke-linejoin="round"/>
<polygon points="1279.8,271.6 1285.0,271.6 1285.0,279.4 1279.8,279.4" fill="#70ffa0"/>
<polygon points="1275.4,264.6 1279.8,261.2 1284.1,262.9 1286.7,271.6 1286.7,283.8 1281.5,287.2 1276.3,282.0" fill="url(#speck)"/>
<polygon points="1281.5,289.0 1288.4,289.0 1290.2,301.1 1293.7,311.5 1296.3,328.9 1300.6,334.1 1305.8,325.4 1310.2,325.4 1311.0,349.8 1305.8,349.8 1302.3,353.2 1297.1,355.0 1295.4,342.8 1291.0,332.4 1288.4,322.0 1285.0,309.8 1282.4,299.4" fill="#0b34ff" stroke="#9aa6ff" stroke-width="1.6" stroke-linejoin="round"/>
<polygon points="1285.0,301.1 1289.3,302.9 1292.8,315.0 1295.4,327.2 1293.7,332.4 1291.0,323.7 1287.6,315.0" fill="#18c8ff"/>
<polygon points="1286.7,306.3 1290.2,306.3 1290.2,311.5 1286.7,311.5" fill="#ff9a00"/>
<polygon points="1281.5,289.0 1288.4,289.0 1290.2,301.1 1293.7,311.5 1296.3,328.9 1300.6,334.1 1305.8,325.4 1310.2,325.4 1311.0,349.8 1305.8,349.8 1302.3,353.2 1297.1,355.0 1295.4,342.8 1291.0,332.4 1288.4,322.0 1285.0,309.8 1282.4,299.4" fill="url(#speck)"/>
<polygon points="1314.5,235.1 1319.7,235.1 1320.6,262.9 1322.3,271.6 1322.3,309.8 1330.1,309.8 1333.6,313.3 1332.7,323.7 1326.7,323.7 1324.9,334.1 1321.4,334.1 1318.0,311.5 1317.1,282.0 1314.5,271.6 1313.6,254.2" fill="#0b34ff" stroke="#9aa6ff" stroke-width="1.6" stroke-linejoin="round"/>
<polygon points="1315.4,236.9 1319.4,236.9 1319.4,261.2 1315.4,261.2" fill="#18c8ff"/>
<polygon points="1320.6,312.4 1331.0,312.4 1331.0,321.1 1320.6,321.1" fill="#18c8ff"/>
<polygon points="1314.5,235.1 1319.7,235.1 1320.6,262.9 1322.3,271.6 1322.3,309.8 1330.1,309.8 1333.6,313.3 1332.7,323.7 1326.7,323.7 1324.9,334.1 1321.4,334.1 1318.0,311.5 1317.1,282.0 1314.5,271.6 1313.6,254.2" fill="url(#speck)"/>
<polygon points="1307.9,276.8 1314.0,276.8 1314.0,308.1 1307.9,308.1" fill="#8a96ff" stroke="#9aa6ff" stroke-width="1.6" stroke-linejoin="round"/>
<polygon points="1308.9,282.0 1313.6,282.0 1313.6,294.2 1308.9,294.2" fill="#d8ff28"/>
<polygon points="1310.7,286.4 1313.6,286.4 1313.6,290.7 1310.7,290.7" fill="#f01000"/>
<polygon points="1308.4,299.4 1312.8,299.4 1312.8,306.3 1308.4,306.3" fill="#ff9a00"/>
<polygon points="1307.9,276.8 1314.0,276.8 1314.0,308.1 1307.9,308.1" fill="url(#speck)"/>
<polygon points="1338.8,266.4 1345.8,264.6 1346.6,292.4 1341.4,295.9 1338.8,289.0" fill="#0b34ff" stroke="#9aa6ff" stroke-width="1.6" stroke-linejoin="round"/>
<polygon points="1339.7,275.1 1344.9,275.1 1344.9,285.5 1339.7,285.5" fill="#18c8ff"/>
<polygon points="1338.8,266.4 1345.8,264.6 1346.6,292.4 1341.4,295.9 1338.8,289.0" fill="url(#speck)"/>
<polygon points="1344.0,202.1 1349.2,202.1 1349.2,227.3 1344.0,227.3" fill="#0b34ff" stroke="#9aa6ff" stroke-width="1.6" stroke-linejoin="round"/>
<polygon points="1344.0,202.1 1349.2,202.1 1349.2,227.3 1344.0,227.3" fill="url(#speck)"/>
<polygon points="1500.3,309.8 1505.5,309.8 1505.5,321.1 1500.3,321.1" fill="#8a96ff" stroke="#9aa6ff" stroke-width="1.6" stroke-linejoin="round"/>
<polygon points="1500.6,311.5 1503.8,311.5 1503.8,319.4 1500.6,319.4" fill="#0b34ff"/>
<polygon points="1500.3,309.8 1505.5,309.8 1505.5,321.1 1500.3,321.1" fill="url(#speck)"/>
<polygon points="1509.8,309.8 1515.0,309.8 1515.0,328.9 1509.8,328.9" fill="#8a96ff" stroke="#9aa6ff" stroke-width="1.6" stroke-linejoin="round"/>
<polygon points="1510.7,311.5 1514.2,311.5 1514.2,323.7 1510.7,323.7" fill="#0b34ff"/>
<polygon points="1509.8,309.8 1515.0,309.8 1515.0,328.9 1509.8,328.9" fill="url(#speck)"/>
<polygon points="1521.1,351.5 1526.3,351.5 1526.3,364.5 1521.1,364.5" fill="#8a96ff" stroke="#9aa6ff" stroke-width="1.6" stroke-linejoin="round"/>
<polygon points="1521.1,351.5 1526.3,351.5 1526.3,364.5 1521.1,364.5" fill="url(#speck)"/>
<polygon points="1524.6,318.5 1529.8,317.6 1535.9,325.4 1535.9,348.0 1527.2,348.0 1524.6,341.1" fill="#0000b8" stroke="#9aa6ff" stroke-width="1.6" stroke-linejoin="round"/>
<polygon points="1527.2,327.2 1532.4,327.2 1532.4,344.5 1527.2,344.5" fill="#0b34ff"/>
<polygon points="1524.6,318.5 1529.8,317.6 1535.9,325.4 1535.9,348.0 1527.2,348.0 1524.6,341.1" fill="url(#speck)"/>
<polygon points="1535.9,291.6 1540.2,291.6 1542.0,302.9 1545.4,309.8 1552.4,308.9 1554.1,330.6 1557.6,330.6 1556.7,341.1 1552.4,341.1 1550.6,334.1 1545.4,334.1 1542.0,323.7 1538.5,316.8 1534.1,308.1 1533.3,299.4" fill="#0b34ff" stroke="#9aa6ff" stroke-width="1.6" stroke-linejoin="round"/>
<polygon points="1534.1,299.4 1538.8,299.4 1538.8,304.9 1534.1,304.9" fill="#70ffa0"/>
<polygon points="1536.8,306.3 1545.4,306.3 1545.4,322.0 1536.8,322.0" fill="#18c8ff"/>
<polygon points="1546.3,328.9 1552.4,328.9 1552.4,334.1 1546.3,334.1" fill="#0000b8"/>
<polygon points="1535.9,291.6 1540.2,291.6 1542.0,302.9 1545.4,309.8 1552.4,308.9 1554.1,330.6 1557.6,330.6 1556.7,341.1 1552.4,341.1 1550.6,334.1 1545.4,334.1 1542.0,323.7 1538.5,316.8 1534.1,308.1 1533.3,299.4" fill="url(#speck)"/>
<polygon points="1587.1,286.4 1592.3,286.4 1592.3,320.2 1587.1,320.2" fill="#0000b8" stroke="#9aa6ff" stroke-width="1.6" stroke-linejoin="round"/>
<polygon points="1587.1,286.4 1592.3,286.4 1592.3,320.2 1587.1,320.2" fill="url(#speck)"/>
<polygon points="1592.3,271.6 1601.0,266.4 1609.7,262.0 1613.2,268.1 1613.2,275.1 1610.6,287.2 1604.5,294.2 1601.0,302.9 1595.8,308.1 1592.7,302.9" fill="#0b34ff" stroke="#9aa6ff" stroke-width="1.6" stroke-linejoin="round"/>
<polygon points="1595.5,277.7 1599.6,277.7 1599.6,286.4 1595.5,286.4" fill="#18c8ff"/>
<polygon points="1594.1,283.8 1602.8,283.8 1602.8,294.2 1594.1,294.2" fill="#0000b8"/>
<polygon points="1592.3,271.6 1601.0,266.4 1609.7,262.0 1613.2,268.1 1613.2,275.1 1610.6,287.2 1604.5,294.2 1601.0,302.9 1595.8,308.1 1592.7,302.9" fill="url(#speck)"/>
<polygon points="1617.5,256.0 1622.7,256.0 1622.7,269.0 1617.5,269.0" fill="#8a96ff" stroke="#9aa6ff" stroke-width="1.6" stroke-linejoin="round"/>
<polygon points="1618.4,258.6 1621.5,258.6 1621.5,266.4 1618.4,266.4" fill="#0b34ff"/>
<polygon points="1617.5,256.0 1622.7,256.0 1622.7,269.0 1617.5,269.0" fill="url(#speck)"/>
<polygon points="1635.8,250.7 1646.2,236.9 1649.7,238.6 1650.5,257.7 1653.1,261.2 1653.1,281.1 1647.9,276.8 1642.7,275.1 1635.8,261.2" fill="#0b34ff" stroke="#9aa6ff" stroke-width="1.6" stroke-linejoin="round"/>
<polygon points="1640.1,252.5 1647.9,252.5 1647.9,264.6 1640.1,264.6" fill="#0000b8"/>
<polygon points="1641.0,265.5 1645.3,265.5 1645.3,271.6 1641.0,271.6" fill="#18c8ff"/>
<polygon points="1635.8,250.7 1646.2,236.9 1649.7,238.6 1650.5,257.7 1653.1,261.2 1653.1,281.1 1647.9,276.8 1642.7,275.1 1635.8,261.2" fill="url(#speck)"/>
<polygon points="1662.7,207.3 1670.0,207.3 1670.0,221.2 1662.7,221.2" fill="#0b34ff" stroke="#9aa6ff" stroke-width="1.6" stroke-linejoin="round"/>
<polygon points="1663.6,210.8 1668.8,210.8 1668.8,217.7 1663.6,217.7" fill="#18c8ff"/>
<polygon points="1662.7,207.3 1670.0,207.3 1670.0,221.2 1662.7,221.2" fill="url(#speck)"/>
<polygon points="1673.9,196.0 1680.0,196.0 1680.8,207.3 1688.7,209.9 1689.2,221.2 1682.6,223.0 1682.6,231.6 1674.8,232.5 1674.8,223.0 1675.6,212.5" fill="#0b34ff" stroke="#9aa6ff" stroke-width="1.6" stroke-linejoin="round"/>
<polygon points="1677.4,210.8 1687.8,210.8 1687.8,218.6 1677.4,218.6" fill="#18c8ff"/>
<polygon points="1674.8,224.7 1682.6,224.7 1682.6,231.6 1674.8,231.6" fill="#8a96ff"/>
<polygon points="1673.9,196.0 1680.0,196.0 1680.8,207.3 1688.7,209.9 1689.2,221.2 1682.6,223.0 1682.6,231.6 1674.8,232.5 1674.8,223.0 1675.6,212.5" fill="url(#speck)"/>
<polygon points="1686.1,240.3 1691.3,234.2 1694.7,236.9 1700.8,243.8 1701.7,254.2 1694.7,256.0 1693.0,261.2 1689.5,261.2 1686.1,250.7" fill="#0b34ff" stroke="#9aa6ff" stroke-width="1.6" stroke-linejoin="round"/>
<polygon points="1689.5,243.8 1699.1,243.8 1699.1,252.5 1689.5,252.5" fill="#18c8ff"/>
<polygon points="1686.1,240.3 1691.3,234.2 1694.7,236.9 1700.8,243.8 1701.7,254.2 1694.7,256.0 1693.0,261.2 1689.5,261.2 1686.1,250.7" fill="url(#speck)"/>
<polygon points="1698.2,264.6 1703.4,264.6 1704.3,285.5 1708.6,294.2 1712.1,285.5 1715.6,289.0 1719.9,297.6 1719.9,308.1 1715.6,309.8 1715.6,321.1 1712.1,321.1 1710.4,315.0 1706.9,321.1 1704.3,321.1 1700.0,306.3 1698.6,294.2" fill="#0b34ff" stroke="#9aa6ff" stroke-width="1.6" stroke-linejoin="round"/>
<polygon points="1698.6,264.6 1703.4,264.6 1703.4,285.5 1698.6,285.5" fill="#8a96ff"/>
<polygon points="1701.7,295.9 1717.3,295.9 1717.3,308.1 1701.7,308.1" fill="#18c8ff"/>
<polygon points="1703.8,299.4 1707.8,299.4 1707.8,306.3 1703.8,306.3" fill="#70ffa0"/>
<polygon points="1698.2,264.6 1703.4,264.6 1704.3,285.5 1708.6,294.2 1712.1,285.5 1715.6,289.0 1719.9,297.6 1719.9,308.1 1715.6,309.8 1715.6,321.1 1712.1,321.1 1710.4,315.0 1706.9,321.1 1704.3,321.1 1700.0,306.3 1698.6,294.2" fill="url(#speck)"/>
<polygon points="1719.9,256.0 1732.1,255.1 1733.8,264.6 1733.0,287.2 1727.7,287.2 1722.5,287.2 1719.9,275.1" fill="#0b34ff" stroke="#9aa6ff" stroke-width="1.6" stroke-linejoin="round"/>
<polygon points="1722.5,258.6 1731.2,258.6 1731.2,271.6 1722.5,271.6" fill="#18c8ff"/>
<polygon points="1728.6,261.2 1731.2,261.2 1731.2,264.6 1728.6,264.6" fill="#70ffa0"/>
<polygon points="1722.5,275.1 1727.7,275.1 1727.7,287.2 1722.5,287.2" fill="#0000b8"/>
<polygon points="1719.9,256.0 1732.1,255.1 1733.8,264.6 1733.0,287.2 1727.7,287.2 1722.5,287.2 1719.9,275.1" fill="url(#speck)"/>
<polygon points="1729.5,275.1 1736.4,275.1 1737.3,322.0 1732.1,322.8 1730.3,306.3" fill="#0b34ff" stroke="#9aa6ff" stroke-width="1.6" stroke-linejoin="round"/>
<polygon points="1729.5,275.1 1732.1,275.1 1732.1,306.3 1729.5,306.3" fill="#8a96ff"/>
<polygon points="1729.5,275.1 1736.4,275.1 1737.3,322.0 1732.1,322.8 1730.3,306.3" fill="url(#speck)"/>
<polygon points="1764.2,302.9 1771.2,302.9 1776.4,309.8 1776.4,326.3 1765.1,326.3" fill="#8a96ff" stroke="#9aa6ff" stroke-width="1.6" stroke-linejoin="round"/>
<polygon points="1768.6,311.5 1775.5,311.5 1775.5,323.7 1768.6,323.7" fill="#0b34ff"/>
<polygon points="1771.2,314.1 1774.6,314.1 1774.6,319.4 1771.2,319.4" fill="#18c8ff"/>
<polygon points="1764.2,302.9 1771.2,302.9 1776.4,309.8 1776.4,326.3 1765.1,326.3" fill="url(#speck)"/>
<polygon points="1792.0,268.1 1799.0,261.2 1803.3,262.9 1803.3,280.3 1799.0,289.0 1797.2,302.0 1792.0,302.0" fill="#0b34ff" stroke="#9aa6ff" stroke-width="1.6" stroke-linejoin="round"/>
<polygon points="1793.8,271.6 1800.7,271.6 1800.7,285.5 1793.8,285.5" fill="#18c8ff"/>
<polygon points="1799.8,262.9 1803.3,262.9 1803.3,280.3 1799.8,280.3" fill="#8a96ff"/>
<polygon points="1792.0,268.1 1799.0,261.2 1803.3,262.9 1803.3,280.3 1799.0,289.0 1797.2,302.0 1792.0,302.0" fill="url(#speck)"/>
<polygon points="1791.1,315.0 1795.5,315.0 1795.5,335.0 1791.1,335.0" fill="#0000b8" stroke="#9aa6ff" stroke-width="1.6" stroke-linejoin="round"/>
<polygon points="1791.1,315.0 1795.5,315.0 1795.5,335.0 1791.1,335.0" fill="url(#speck)"/>
<polygon points="1911.9,240.3 1917.1,240.3 1917.1,266.4 1911.9,266.4" fill="#8a96ff" stroke="#9aa6ff" stroke-width="1.6" stroke-linejoin="round"/>
<polygon points="1912.2,242.1 1915.3,242.1 1915.3,264.6 1912.2,264.6" fill="#0b34ff"/>
<polygon points="1913.3,247.3 1915.3,247.3 1915.3,254.2 1913.3,254.2" fill="#18c8ff"/>
<polygon points="1911.9,240.3 1917.1,240.3 1917.1,266.4 1911.9,266.4" fill="url(#speck)"/>
<polygon points="1917.1,210.8 1920.6,194.3 1924.0,194.3 1926.6,216.0 1927.5,240.3 1918.8,241.2 1917.9,228.2" fill="#0b34ff" stroke="#9aa6ff" stroke-width="1.6" stroke-linejoin="round"/>
<polygon points="1918.8,207.3 1924.9,207.3 1924.9,219.5 1918.8,219.5" fill="#18c8ff"/>
<polygon points="1916.7,212.5 1919.2,212.5 1919.2,240.3 1916.7,240.3" fill="#8a96ff"/>
<polygon points="1917.1,210.8 1920.6,194.3 1924.0,194.3 1926.6,216.0 1927.5,240.3 1918.8,241.2 1917.9,228.2" fill="url(#speck)"/>
<polygon points="1924.0,224.7 1929.2,224.7 1931.8,238.6 1934.4,250.7 1937.9,261.2 1944.0,263.8 1947.5,271.6 1947.5,293.3 1944.9,294.2 1937.9,292.4 1934.4,292.4 1931.8,282.0 1928.4,268.1 1925.8,254.2 1924.0,240.3" fill="#0b34ff" stroke="#9aa6ff" stroke-width="1.6" stroke-linejoin="round"/>
<polygon points="1925.8,240.3 1930.1,240.3 1933.6,254.2 1939.7,268.1 1944.9,271.6 1944.9,282.0 1937.9,282.0 1932.7,271.6 1928.4,257.7" fill="#18c8ff"/>
<polygon points="1928.4,251.6 1932.7,251.6 1932.7,257.7 1928.4,257.7" fill="#ff9a00"/>
<polygon points="1937.9,272.5 1944.9,272.5 1944.9,278.5 1937.9,278.5" fill="#70ffa0"/>
<polygon points="1924.0,224.7 1929.2,224.7 1931.8,238.6 1934.4,250.7 1937.9,261.2 1944.0,263.8 1947.5,271.6 1947.5,293.3 1944.9,294.2 1937.9,292.4 1934.4,292.4 1931.8,282.0 1928.4,268.1 1925.8,254.2 1924.0,240.3" fill="url(#speck)"/>
<polygon points="1947.5,296.8 1953.6,296.8 1953.6,326.3 1947.5,326.3" fill="#0b34ff" stroke="#9aa6ff" stroke-width="1.6" stroke-linejoin="round"/>
<polygon points="1949.7,302.9 1953.2,302.9 1953.2,313.3 1949.7,313.3" fill="#18c8ff"/>
<polygon points="1947.5,296.8 1953.6,296.8 1953.6,326.3 1947.5,326.3" fill="url(#speck)"/>
<polygon points="1953.6,329.8 1960.0,329.8 1960.0,347.2 1953.6,347.2" fill="#0b34ff" stroke="#9aa6ff" stroke-width="1.6" stroke-linejoin="round"/>
<polygon points="1955.3,334.1 1960.0,334.1 1960.0,344.5 1955.3,344.5" fill="#0000b8"/>
<polygon points="1953.6,329.8 1960.0,329.8 1960.0,347.2 1953.6,347.2" fill="url(#speck)"/>
<polygon points="1950.0,295.0 1954.3,295.0 1954.3,325.4 1950.0,325.4" fill="#0b34ff" stroke="#9aa6ff" stroke-width="1.6" stroke-linejoin="round"/>
<polygon points="1950.0,302.9 1953.1,302.9 1953.1,313.3 1950.0,313.3" fill="#18c8ff"/>
<polygon points="1950.0,295.0 1954.3,295.0 1954.3,325.4 1950.0,325.4" fill="url(#speck)"/>
<polygon points="1953.5,330.6 1959.6,330.6 1959.6,348.0 1953.5,348.0" fill="#0b34ff" stroke="#9aa6ff" stroke-width="1.6" stroke-linejoin="round"/>
<polygon points="1953.8,341.1 1958.7,341.1 1958.7,348.0 1953.8,348.0" fill="#8a96ff"/>
<polygon points="1953.5,330.6 1959.6,330.6 1959.6,348.0 1953.5,348.0" fill="url(#speck)"/>
<polygon points="1969.1,264.6 1974.3,256.0 1976.1,243.8 1981.3,231.6 1985.6,229.0 1986.8,254.2 1981.3,256.0 1978.7,268.1 1975.2,273.3 1973.4,281.1 1969.1,281.1" fill="#0b34ff" stroke="#9aa6ff" stroke-width="1.6" stroke-linejoin="round"/>
<polygon points="1979.5,236.9 1986.5,236.9 1986.5,249.0 1979.5,249.0" fill="#18c8ff"/>
<polygon points="1969.5,269.9 1974.3,269.9 1974.3,278.5 1969.5,278.5" fill="#18c8ff"/>
<polygon points="1976.1,243.8 1982.1,243.8 1982.1,254.2 1976.1,254.2" fill="#0000b8"/>
<polygon points="1969.1,264.6 1974.3,256.0 1976.1,243.8 1981.3,231.6 1985.6,229.0 1986.8,254.2 1981.3,256.0 1978.7,268.1 1975.2,273.3 1973.4,281.1 1969.1,281.1" fill="url(#speck)"/>
<polygon points="1990.0,169.1 2000.4,165.6 2005.6,169.1 2010.8,174.3 2010.8,180.4 2016.0,175.2 2033.4,175.2 2034.2,186.5 2007.3,188.2 2005.6,179.5 1990.8,179.5" fill="#0b34ff" stroke="#9aa6ff" stroke-width="1.6" stroke-linejoin="round"/>
<polygon points="1990.3,170.8 1996.9,170.8 1996.9,178.7 1990.3,178.7" fill="#8a96ff"/>
<polygon points="2018.6,176.1 2025.6,176.1 2025.6,186.5 2018.6,186.5" fill="#8a96ff"/>
<polygon points="1998.6,167.4 2004.7,167.4 2004.7,178.7 1998.6,178.7" fill="#0000b8"/>
<polygon points="1990.0,169.1 2000.4,165.6 2005.6,169.1 2010.8,174.3 2010.8,180.4 2016.0,175.2 2033.4,175.2 2034.2,186.5 2007.3,188.2 2005.6,179.5 1990.8,179.5" fill="url(#speck)"/>
<polygon points="2010.8,197.8 2016.9,197.8 2016.9,207.3 2010.8,207.3" fill="#8a96ff" stroke="#9aa6ff" stroke-width="1.6" stroke-linejoin="round"/>
<polygon points="2010.8,197.8 2016.9,197.8 2016.9,207.3 2010.8,207.3" fill="url(#speck)"/>
<polygon points="2032.5,207.3 2040.3,207.3 2040.3,221.2 2032.5,221.2" fill="#0b34ff" stroke="#9aa6ff" stroke-width="1.6" stroke-linejoin="round"/>
<polygon points="2034.2,211.7 2038.6,211.7 2038.6,216.9 2034.2,216.9" fill="#18c8ff"/>
<polygon points="2032.5,207.3 2040.3,207.3 2040.3,221.2 2032.5,221.2" fill="url(#speck)"/>
<polygon points="2049.9,240.3 2056.0,239.5 2059.4,236.9 2064.6,237.7 2064.6,260.3 2059.4,260.3 2056.0,255.1 2049.9,254.2" fill="#0b34ff" stroke="#9aa6ff" stroke-width="1.6" stroke-linejoin="round"/>
<polygon points="2059.1,237.7 2064.6,237.7 2064.6,260.3 2059.1,260.3" fill="#8a96ff"/>
<polygon points="2050.7,245.5 2055.1,245.5 2055.1,251.6 2050.7,251.6" fill="#18c8ff"/>
<polygon points="2049.9,240.3 2056.0,239.5 2059.4,236.9 2064.6,237.7 2064.6,260.3 2059.4,260.3 2056.0,255.1 2049.9,254.2" fill="url(#speck)"/>
<polygon points="2061.2,264.6 2065.0,264.6 2065.0,293.3 2061.2,293.3" fill="#0000b8" stroke="#9aa6ff" stroke-width="1.6" stroke-linejoin="round"/>
<polygon points="2061.2,264.6 2065.0,264.6 2065.0,293.3 2061.2,293.3" fill="url(#speck)"/>
<polygon points="2064.6,315.0 2069.9,315.0 2069.9,329.8 2064.6,329.8" fill="#0b34ff" stroke="#9aa6ff" stroke-width="1.6" stroke-linejoin="round"/>
<polygon points="2064.6,315.0 2069.9,315.0 2069.9,329.8 2064.6,329.8" fill="url(#speck)"/>
<polygon points="2082.9,209.9 2089.0,209.9 2089.0,235.1 2082.9,235.1" fill="#0b34ff" stroke="#9aa6ff" stroke-width="1.6" stroke-linejoin="round"/>
<polygon points="2083.8,218.6 2086.9,218.6 2086.9,227.3 2083.8,227.3" fill="#18c8ff"/>
<polygon points="2082.9,209.9 2089.0,209.9 2089.0,235.1 2082.9,235.1" fill="url(#speck)"/>
<polygon points="2079.4,240.3 2085.1,240.3 2085.1,266.4 2079.4,266.4" fill="#8a96ff" stroke="#9aa6ff" stroke-width="1.6" stroke-linejoin="round"/>
<polygon points="2079.9,242.1 2083.4,242.1 2083.4,261.2 2079.9,261.2" fill="#0b34ff"/>
<polygon points="2079.4,240.3 2085.1,240.3 2085.1,266.4 2079.4,266.4" fill="url(#speck)"/>
<polygon points="2103.7,240.3 2109.8,240.3 2109.8,266.4 2103.7,266.4" fill="#0b34ff" stroke="#9aa6ff" stroke-width="1.6" stroke-linejoin="round"/>
<polygon points="2104.2,249.9 2108.9,249.9 2108.9,258.6 2104.2,258.6" fill="#18c8ff"/>
<polygon points="2103.7,240.3 2109.8,240.3 2109.8,266.4 2103.7,266.4" fill="url(#speck)"/>
<polygon points="2112.4,264.6 2117.6,257.7 2121.1,259.4 2122.0,282.0 2126.3,275.9 2128.0,276.8 2128.0,295.9 2122.0,296.8 2116.8,294.2 2115.0,306.3 2112.4,314.1 2108.9,314.1 2107.2,301.1 2109.8,289.0" fill="#0b34ff" stroke="#9aa6ff" stroke-width="1.6" stroke-linejoin="round"/>
<polygon points="2108.4,293.3 2115.0,293.3 2115.0,304.6 2108.4,304.6" fill="#18c8ff"/>
<polygon points="2114.1,262.9 2119.4,262.9 2119.4,289.0 2114.1,289.0" fill="#0000b8"/>
<polygon points="2119.4,282.0 2123.7,282.0 2123.7,295.9 2119.4,295.9" fill="#8a96ff"/>
<polygon points="2112.4,264.6 2117.6,257.7 2121.1,259.4 2122.0,282.0 2126.3,275.9 2128.0,276.8 2128.0,295.9 2122.0,296.8 2116.8,294.2 2115.0,306.3 2112.4,314.1 2108.9,314.1 2107.2,301.1 2109.8,289.0" fill="url(#speck)"/>
<polygon points="2138.5,255.1 2144.2,255.1 2144.2,282.0 2138.5,282.0" fill="#0b34ff" stroke="#9aa6ff" stroke-width="1.6" stroke-linejoin="round"/>
<polygon points="2139.7,271.6 2142.8,271.6 2142.8,277.7 2139.7,277.7" fill="#18c8ff"/>
<polygon points="2138.5,255.1 2144.2,255.1 2144.2,282.0 2138.5,282.0" fill="url(#speck)"/>
<polygon points="2151.5,294.2 2155.8,288.1 2158.4,289.0 2158.4,314.1 2155.0,314.1 2151.5,306.3" fill="#0b34ff" stroke="#9aa6ff" stroke-width="1.6" stroke-linejoin="round"/>
<polygon points="2151.8,297.6 2157.6,297.6 2157.6,306.3 2151.8,306.3" fill="#18c8ff"/>
<polygon points="2151.5,294.2 2155.8,288.1 2158.4,289.0 2158.4,314.1 2155.0,314.1 2151.5,306.3" fill="url(#speck)"/>
<polygon points="2161.0,289.0 2164.5,262.9 2169.7,262.9 2171.5,285.5 2172.3,309.8 2175.8,320.2 2181.0,325.4 2184.5,339.3 2187.1,355.0 2187.6,374.1 2182.8,374.1 2179.3,361.9 2174.1,353.2 2171.5,342.8 2168.9,327.2 2166.3,320.2 2161.9,318.5" fill="#0b34ff" stroke="#9aa6ff" stroke-width="1.6" stroke-linejoin="round"/>
<polygon points="2161.0,289.0 2166.3,289.0 2166.3,318.5 2161.0,318.5" fill="#8a96ff"/>
<polygon points="2165.4,264.6 2169.2,264.6 2170.3,289.0 2172.3,313.3 2177.5,327.2 2181.0,337.6 2179.3,346.3 2174.1,341.1 2170.6,325.4 2168.0,306.3 2166.3,285.5" fill="#18c8ff"/>
<polygon points="2166.8,299.4 2170.9,299.4 2170.9,306.3 2166.8,306.3" fill="#70ffa0"/>
<polygon points="2173.2,332.4 2179.3,332.4 2179.3,339.3 2173.2,339.3" fill="#70ffa0"/>
<polygon points="2161.0,289.0 2164.5,262.9 2169.7,262.9 2171.5,285.5 2172.3,309.8 2175.8,320.2 2181.0,325.4 2184.5,339.3 2187.1,355.0 2187.6,374.1 2182.8,374.1 2179.3,361.9 2174.1,353.2 2171.5,342.8 2168.9,327.2 2166.3,320.2 2161.9,318.5" fill="url(#speck)"/>
<polygon points="2214.9,365.4 2219.2,362.8 2223.6,368.9 2224.1,389.7 2220.1,388.8 2215.8,379.3" fill="#0b34ff" stroke="#9aa6ff" stroke-width="1.6" stroke-linejoin="round"/>
<polygon points="2215.2,366.3 2218.4,366.3 2218.4,377.5 2215.2,377.5" fill="#8a96ff"/>
<polygon points="2214.9,365.4 2219.2,362.8 2223.6,368.9 2224.1,389.7 2220.1,388.8 2215.8,379.3" fill="url(#speck)"/>
<polygon points="2271.8,282.5 2282.4,282.5 2291.8,289.8 2291.8,295.2 2303.8,295.2 2305.1,314.5 2299.8,314.5 2290.4,312.5 2289.1,314.5 2281.1,314.5 2278.5,309.8 2275.8,315.1 2272.1,315.1" fill="#0000b8" stroke="#9aa6ff" stroke-width="1.6" stroke-linejoin="round"/>
<polygon points="2273.1,284.5 2281.1,284.5 2281.1,296.5 2291.8,296.5 2303.1,296.5 2303.8,307.1 2274.5,307.1" fill="#0b34ff"/>
<polygon points="2277.1,297.8 2303.1,297.8 2303.1,305.8 2277.1,305.8" fill="#18c8ff"/>
<polygon points="2293.1,299.8 2296.4,299.8 2296.4,305.1 2293.1,305.1" fill="#70ffa0"/>
<polygon points="2299.1,300.5 2302.4,300.5 2302.4,305.1 2299.1,305.1" fill="#70ffa0"/>
<polygon points="2271.8,282.5 2282.4,282.5 2291.8,289.8 2291.8,295.2 2303.8,295.2 2305.1,314.5 2299.8,314.5 2290.4,312.5 2289.1,314.5 2281.1,314.5 2278.5,309.8 2275.8,315.1 2272.1,315.1" fill="url(#speck)"/>
<rect x="1186" y="258" width="6" height="18" fill="#d8ff28"/>
<rect x="1199" y="300" width="6" height="16" fill="#70ffa0"/>
<rect x="1211" y="290" width="6" height="9" fill="#d8ff28"/>
<rect x="1243" y="281" width="5" height="9" fill="#ff9a00"/>
<rect x="1284" y="288" width="5" height="16" fill="#d8ff28"/>
<rect x="1290" y="304" width="5" height="16" fill="#70ffa0"/>
<rect x="1310" y="285" width="5" height="13" fill="#ff9a00"/>
<rect x="1178" y="262" width="6" height="10" fill="#70ffa0"/>
<rect x="1222" y="300" width="5" height="12" fill="#d8ff28"/>
<rect x="1229" y="306" width="4" height="12" fill="#70ffa0"/>
<rect x="1171" y="280" width="5" height="12" fill="#d8ff28"/>
</g>
<g>
<polygon points="240.1,1897.6 253.1,1897.6 253.1,1908.0 240.1,1908.0" fill="#0b34ff" stroke="#9aa6ff" stroke-width="1.6" stroke-linejoin="round"/>
<polygon points="240.1,1897.6 253.1,1897.6 253.1,1908.0 240.1,1908.0" fill="url(#speck)"/>
<polygon points="247.9,1872.4 255.7,1872.4 255.7,1889.8 248.7,1889.8" fill="#0b34ff" stroke="#9aa6ff" stroke-width="1.6" stroke-linejoin="round"/>
<polygon points="250.1,1877.6 254.3,1877.6 254.3,1885.4 250.1,1885.4" fill="#18c8ff"/>
<polygon points="247.9,1872.4 255.7,1872.4 255.7,1889.8 248.7,1889.8" fill="url(#speck)"/>
<polygon points="255.7,1809.9 260.0,1810.7 262.6,1821.2 266.1,1835.1 267.8,1847.2 266.1,1854.2 256.6,1854.2 255.7,1859.4 251.3,1859.4 250.8,1847.2 251.3,1828.1 254.0,1816.0" fill="#0b34ff" stroke="#9aa6ff" stroke-width="1.6" stroke-linejoin="round"/>
<polygon points="255.7,1817.7 259.5,1818.6 261.2,1831.6 264.7,1838.5 265.8,1849.0 259.2,1850.7 255.7,1842.0 254.3,1828.1" fill="#18c8ff"/>
<polygon points="259.5,1838.9 264.4,1838.9 264.4,1847.2 259.5,1847.2" fill="#d8ff28"/>
<polygon points="255.7,1809.9 260.0,1810.7 262.6,1821.2 266.1,1835.1 267.8,1847.2 266.1,1854.2 256.6,1854.2 255.7,1859.4 251.3,1859.4 250.8,1847.2 251.3,1828.1 254.0,1816.0" fill="url(#speck)"/>
<polygon points="272.2,1896.7 280.0,1896.7 280.0,1909.8 272.2,1909.8" fill="#8a96ff" stroke="#9aa6ff" stroke-width="1.6" stroke-linejoin="round"/>
<polygon points="273.9,1898.5 278.3,1898.5 278.3,1908.0 273.9,1908.0" fill="#0b34ff"/>
<polygon points="272.2,1896.7 280.0,1896.7 280.0,1909.8 272.2,1909.8" fill="url(#speck)"/>
<polygon points="280.0,1862.9 283.5,1849.0 287.0,1849.0 290.4,1862.9 293.9,1862.9 295.6,1849.0 299.1,1849.0 300.9,1862.9 304.3,1862.9 305.2,1873.3 313.0,1871.5 313.9,1883.7 319.1,1887.2 320.0,1900.2 314.7,1901.1 310.4,1901.1 305.2,1900.2 300.9,1894.1 299.1,1887.2 288.7,1887.2 285.2,1894.1 280.9,1895.0 278.6,1882.0 278.3,1866.3" fill="#0b34ff" stroke="#9aa6ff" stroke-width="1.6" stroke-linejoin="round"/>
<polygon points="282.6,1861.1 287.0,1856.8 290.4,1867.2 295.6,1859.4 299.1,1862.0 300.9,1875.0 306.1,1877.6 311.3,1881.1 312.7,1890.6 307.8,1895.0 301.7,1890.6 295.6,1883.7 288.7,1882.0 283.5,1883.7 281.2,1876.8" fill="#18c8ff"/>
<polygon points="283.8,1858.5 289.0,1858.5 289.0,1867.2 283.8,1867.2" fill="#70ffa0"/>
<polygon points="299.1,1877.6 302.6,1877.6 302.6,1885.4 299.1,1885.4" fill="#d8ff28"/>
<polygon points="306.1,1881.1 310.4,1881.1 310.4,1887.2 306.1,1887.2" fill="#70ffa0"/>
<polygon points="280.0,1862.9 283.5,1849.0 287.0,1849.0 290.4,1862.9 293.9,1862.9 295.6,1849.0 299.1,1849.0 300.9,1862.9 304.3,1862.9 305.2,1873.3 313.0,1871.5 313.9,1883.7 319.1,1887.2 320.0,1900.2 314.7,1901.1 310.4,1901.1 305.2,1900.2 300.9,1894.1 299.1,1887.2 288.7,1887.2 285.2,1894.1 280.9,1895.0 278.6,1882.0 278.3,1866.3" fill="url(#speck)"/>
<polygon points="327.8,1862.9 332.1,1862.9 333.9,1873.3 332.1,1888.9 328.6,1888.9 326.6,1875.0" fill="#8a96ff" stroke="#9aa6ff" stroke-width="1.6" stroke-linejoin="round"/>
<polygon points="328.6,1866.3 332.1,1866.3 332.1,1883.7 328.6,1883.7" fill="#0b34ff"/>
<polygon points="327.8,1862.9 332.1,1862.9 333.9,1873.3 332.1,1888.9 328.6,1888.9 326.6,1875.0" fill="url(#speck)"/>
<polygon points="346.0,1829.9 350.4,1829.9 350.4,1849.0 346.0,1849.0" fill="#0000b8" stroke="#9aa6ff" stroke-width="1.6" stroke-linejoin="round"/>
<polygon points="346.0,1829.9 350.4,1829.9 350.4,1849.0 346.0,1849.0" fill="url(#speck)"/>
<polygon points="350.0,1854.2 353.8,1854.2 353.8,1869.8 350.0,1869.8" fill="#0b34ff" stroke="#9aa6ff" stroke-width="1.6" stroke-linejoin="round"/>
<polygon points="350.0,1854.2 353.8,1854.2 353.8,1869.8 350.0,1869.8" fill="url(#speck)"/>
<polygon points="367.7,1809.0 372.9,1809.0 372.9,1821.2 367.7,1821.2" fill="#8a96ff" stroke="#9aa6ff" stroke-width="1.6" stroke-linejoin="round"/>
<polygon points="367.7,1809.0 372.9,1809.0 372.9,1821.2 367.7,1821.2" fill="url(#speck)"/>
<polygon points="365.1,1826.4 371.7,1826.4 371.7,1842.0 365.1,1842.0" fill="#0b34ff" stroke="#9aa6ff" stroke-width="1.6" stroke-linejoin="round"/>
<polygon points="365.1,1826.4 367.7,1826.4 367.7,1842.0 365.1,1842.0" fill="#8a96ff"/>
<polygon points="365.1,1826.4 371.7,1826.4 371.7,1842.0 365.1,1842.0" fill="url(#speck)"/>
<polygon points="385.1,1824.6 392.9,1817.7 397.3,1817.7 397.8,1831.6 394.6,1840.3 389.4,1847.2 386.0,1847.2 385.1,1835.1" fill="#0b34ff" stroke="#9aa6ff" stroke-width="1.6" stroke-linejoin="round"/>
<polygon points="386.8,1824.6 392.9,1824.6 392.9,1835.1 386.8,1835.1" fill="#0000b8"/>
<polygon points="385.1,1824.6 392.9,1817.7 397.3,1817.7 397.8,1831.6 394.6,1840.3 389.4,1847.2 386.0,1847.2 385.1,1835.1" fill="url(#speck)"/>
<polygon points="394.6,1776.0 399.0,1776.0 400.7,1783.0 398.1,1814.2 393.8,1814.2 392.9,1800.3" fill="#0b34ff" stroke="#9aa6ff" stroke-width="1.6" stroke-linejoin="round"/>
<polygon points="394.6,1776.0 399.0,1776.0 400.7,1783.0 398.1,1814.2 393.8,1814.2 392.9,1800.3" fill="url(#speck)"/>
<polygon points="401.6,1769.9 406.8,1769.9 406.8,1778.6 401.6,1778.6" fill="#8a96ff" stroke="#9aa6ff" stroke-width="1.6" stroke-linejoin="round"/>
<polygon points="401.6,1769.9 406.8,1769.9 406.8,1778.6 401.6,1778.6" fill="url(#speck)"/>
<polygon points="405.1,1791.6 410.3,1791.6 410.3,1814.2 405.1,1814.2" fill="#0b34ff" stroke="#9aa6ff" stroke-width="1.6" stroke-linejoin="round"/>
<polygon points="405.1,1791.6 407.2,1791.6 407.2,1814.2 405.1,1814.2" fill="#8a96ff"/>
<polygon points="405.1,1791.6 410.3,1791.6 410.3,1814.2 405.1,1814.2" fill="url(#speck)"/>
<polygon points="421.6,1767.3 428.5,1767.3 428.5,1781.2 421.6,1781.2" fill="#0b34ff" stroke="#9aa6ff" stroke-width="1.6" stroke-linejoin="round"/>
<polygon points="423.3,1771.7 426.8,1771.7 426.8,1777.7 423.3,1777.7" fill="#18c8ff"/>
<polygon points="421.6,1767.3 428.5,1767.3 428.5,1781.2 421.6,1781.2" fill="url(#speck)"/>
<polygon points="438.1,1762.1 445.0,1757.8 450.2,1762.1 455.4,1770.8 455.8,1793.4 450.2,1795.1 449.4,1805.5 445.0,1807.3 443.3,1800.3 439.8,1788.2 437.2,1783.0 436.9,1767.3" fill="#0000b8" stroke="#9aa6ff" stroke-width="1.6" stroke-linejoin="round"/>
<polygon points="439.8,1765.6 446.8,1763.8 452.0,1772.5 451.1,1786.4 445.0,1793.4 440.7,1783.0" fill="#0b34ff"/>
<polygon points="438.1,1762.1 445.0,1757.8 450.2,1762.1 455.4,1770.8 455.8,1793.4 450.2,1795.1 449.4,1805.5 445.0,1807.3 443.3,1800.3 439.8,1788.2 437.2,1783.0 436.9,1767.3" fill="url(#speck)"/>
<polygon points="413.8,1726.5 421.6,1726.5 421.6,1741.3 413.8,1741.3" fill="#0b34ff" stroke="#9aa6ff" stroke-width="1.6" stroke-linejoin="round"/>
<polygon points="413.8,1726.5 421.6,1726.5 421.6,1741.3 413.8,1741.3" fill="url(#speck)"/>
<polygon points="425.0,1728.2 431.1,1728.2 431.1,1741.3 425.0,1741.3" fill="#0b34ff" stroke="#9aa6ff" stroke-width="1.6" stroke-linejoin="round"/>
<polygon points="425.0,1728.2 427.7,1728.2 427.7,1741.3 425.0,1741.3" fill="#8a96ff"/>
<polygon points="425.0,1728.2 431.1,1728.2 431.1,1741.3 425.0,1741.3" fill="url(#speck)"/>
<polygon points="434.6,1726.5 438.9,1726.5 439.8,1746.5 434.9,1746.5" fill="#8a96ff" stroke="#9aa6ff" stroke-width="1.6" stroke-linejoin="round"/>
<polygon points="435.5,1729.1 438.4,1729.1 438.4,1744.7 435.5,1744.7" fill="#0b34ff"/>
<polygon points="434.6,1726.5 438.9,1726.5 439.8,1746.5 434.9,1746.5" fill="url(#speck)"/>
<polygon points="457.2,1734.3 472.8,1734.3 472.8,1748.2 457.2,1748.2" fill="#0000b8" stroke="#9aa6ff" stroke-width="1.6" stroke-linejoin="round"/>
<polygon points="458.1,1738.7 471.9,1738.7 471.9,1743.9 458.1,1743.9" fill="#0b34ff"/>
<polygon points="457.2,1734.3 472.8,1734.3 472.8,1748.2 457.2,1748.2" fill="url(#speck)"/>
<polygon points="486.7,1734.3 493.7,1734.3 493.7,1747.3 486.7,1747.3" fill="#0b34ff" stroke="#9aa6ff" stroke-width="1.6" stroke-linejoin="round"/>
<polygon points="486.7,1734.3 493.7,1734.3 493.7,1747.3 486.7,1747.3" fill="url(#speck)"/>
<polygon points="473.7,1800.3 479.4,1800.3 479.4,1828.1 473.7,1828.1" fill="#8a96ff" stroke="#9aa6ff" stroke-width="1.6" stroke-linejoin="round"/>
<polygon points="474.6,1803.8 478.0,1803.8 478.0,1824.6 474.6,1824.6" fill="#0b34ff"/>
<polygon points="473.7,1800.3 479.4,1800.3 479.4,1828.1 473.7,1828.1" fill="url(#speck)"/>
<polygon points="480.6,1788.2 488.4,1788.2 488.4,1807.3 480.6,1807.3" fill="#0b34ff" stroke="#9aa6ff" stroke-width="1.6" stroke-linejoin="round"/>
<polygon points="482.4,1789.9 486.7,1789.9 486.7,1802.1 482.4,1802.1" fill="#0000b8"/>
<polygon points="480.6,1788.2 488.4,1788.2 488.4,1807.3 480.6,1807.3" fill="url(#speck)"/>
<polygon points="495.4,1796.9 502.7,1796.9 502.7,1819.4 495.4,1819.4" fill="#8a96ff" stroke="#9aa6ff" stroke-width="1.6" stroke-linejoin="round"/>
<polygon points="496.8,1798.6 500.6,1798.6 500.6,1818.6 496.8,1818.6" fill="#0b34ff"/>
<polygon points="495.4,1796.9 502.7,1796.9 502.7,1819.4 495.4,1819.4" fill="url(#speck)"/>
<polygon points="503.2,1823.8 509.3,1823.8 509.3,1841.1 503.2,1841.1" fill="#0000b8" stroke="#9aa6ff" stroke-width="1.6" stroke-linejoin="round"/>
<polygon points="503.2,1823.8 509.3,1823.8 509.3,1841.1 503.2,1841.1" fill="url(#speck)"/>
<polygon points="503.5,1823.8 509.6,1823.8 509.6,1841.1 503.5,1841.1" fill="#0000b8" stroke="#9aa6ff" stroke-width="1.6" stroke-linejoin="round"/>
<polygon points="503.5,1823.8 509.6,1823.8 509.6,1841.1 503.5,1841.1" fill="url(#speck)"/>
<polygon points="533.0,1849.0 538.2,1849.0 538.2,1882.0 533.0,1882.0" fill="#8a96ff" stroke="#9aa6ff" stroke-width="1.6" stroke-linejoin="round"/>
<polygon points="533.5,1850.7 536.5,1850.7 536.5,1880.2 533.5,1880.2" fill="#0b34ff"/>
<polygon points="533.0,1849.0 538.2,1849.0 538.2,1882.0 533.0,1882.0" fill="url(#speck)"/>
<polygon points="552.1,1835.9 557.3,1835.9 557.3,1849.0 552.1,1849.0" fill="#8a96ff" stroke="#9aa6ff" stroke-width="1.6" stroke-linejoin="round"/>
<polygon points="552.1,1835.9 557.3,1835.9 557.3,1849.0 552.1,1849.0" fill="url(#speck)"/>
<polygon points="564.3,1835.9 571.2,1835.9 574.7,1869.8 575.6,1880.2 569.5,1880.2 566.9,1871.5 562.5,1866.3 559.1,1880.2 557.0,1880.2 557.3,1859.4 562.5,1855.9 565.1,1849.0" fill="#0b34ff" stroke="#9aa6ff" stroke-width="1.6" stroke-linejoin="round"/>
<polygon points="568.6,1838.5 572.6,1838.5 572.6,1875.0 568.6,1875.0" fill="#18c8ff"/>
<polygon points="558.2,1857.6 564.3,1857.6 564.3,1869.8 558.2,1869.8" fill="#0000b8"/>
<polygon points="564.3,1835.9 571.2,1835.9 574.7,1869.8 575.6,1880.2 569.5,1880.2 566.9,1871.5 562.5,1866.3 559.1,1880.2 557.0,1880.2 557.3,1859.4 562.5,1855.9 565.1,1849.0" fill="url(#speck)"/>
<polygon points="573.0,1890.6 586.9,1890.6 586.9,1903.7 573.0,1903.7" fill="#0b34ff" stroke="#9aa6ff" stroke-width="1.6" stroke-linejoin="round"/>
<polygon points="577.3,1892.4 581.6,1892.4 581.6,1899.3 577.3,1899.3" fill="#18c8ff"/>
<polygon points="573.0,1890.6 586.9,1890.6 586.9,1903.7 573.0,1903.7" fill="url(#speck)"/>
<polygon points="593.8,1861.1 600.7,1861.1 602.5,1890.6 606.0,1894.1 606.0,1915.8 600.7,1915.8 598.1,1897.6 594.7,1883.7" fill="#18c8ff" stroke="#9aa6ff" stroke-width="1.6" stroke-linejoin="round"/>
<polygon points="593.8,1866.3 599.9,1866.3 599.9,1883.7 593.8,1883.7" fill="#d8ff28"/>
<polygon points="600.7,1904.5 605.1,1904.5 605.1,1915.0 600.7,1915.0" fill="#0000b8"/>
<polygon points="593.8,1861.1 600.7,1861.1 602.5,1890.6 606.0,1894.1 606.0,1915.8 600.7,1915.8 598.1,1897.6 594.7,1883.7" fill="url(#speck)"/>
<polygon points="606.0,1872.4 614.6,1869.8 618.1,1883.7 616.4,1901.1 611.2,1901.1 611.2,1888.9 606.0,1885.4" fill="#8a96ff" stroke="#9aa6ff" stroke-width="1.6" stroke-linejoin="round"/>
<polygon points="611.2,1885.4 616.0,1885.4 616.0,1899.3 611.2,1899.3" fill="#18c8ff"/>
<polygon points="613.8,1871.5 617.2,1871.5 617.2,1883.7 613.8,1883.7" fill="#0b34ff"/>
<polygon points="606.0,1872.4 614.6,1869.8 618.1,1883.7 616.4,1901.1 611.2,1901.1 611.2,1888.9 606.0,1885.4" fill="url(#speck)"/>
<polygon points="616.4,1857.6 621.6,1852.4 625.1,1843.8 628.5,1849.0 632.0,1850.7 634.6,1843.8 639.0,1847.2 644.2,1838.5 647.6,1838.5 649.4,1849.0 652.9,1836.8 657.2,1836.8 658.1,1862.9 661.5,1876.8 662.4,1920.2 657.2,1920.2 656.3,1890.6 652.9,1873.3 644.2,1874.1 637.2,1874.1 632.0,1876.8 628.5,1875.0 623.3,1887.2 618.1,1887.2 616.4,1875.0" fill="#0b34ff" stroke="#9aa6ff" stroke-width="1.6" stroke-linejoin="round"/>
<polygon points="621.6,1859.4 625.1,1853.3 632.0,1855.0 639.0,1854.2 644.2,1849.8 649.4,1855.0 652.9,1861.1 652.9,1866.3 645.9,1868.9 632.0,1868.9 625.1,1868.9 621.6,1866.3" fill="#18c8ff"/>
<polygon points="626.3,1859.7 631.1,1859.7 631.1,1864.6 626.3,1864.6" fill="#ff9a00"/>
<polygon points="644.5,1860.8 649.7,1860.8 649.7,1866.0 644.5,1866.0" fill="#70ffa0"/>
<polygon points="657.2,1897.6 661.9,1897.6 661.9,1918.4 657.2,1918.4" fill="#8a96ff"/>
<polygon points="616.4,1857.6 621.6,1852.4 625.1,1843.8 628.5,1849.0 632.0,1850.7 634.6,1843.8 639.0,1847.2 644.2,1838.5 647.6,1838.5 649.4,1849.0 652.9,1836.8 657.2,1836.8 658.1,1862.9 661.5,1876.8 662.4,1920.2 657.2,1920.2 656.3,1890.6 652.9,1873.3 644.2,1874.1 637.2,1874.1 632.0,1876.8 628.5,1875.0 623.3,1887.2 618.1,1887.2 616.4,1875.0" fill="url(#speck)"/>
<polygon points="725.8,1836.8 732.8,1823.8 735.4,1824.6 734.5,1854.2 731.0,1861.1 729.3,1876.8 726.7,1888.9 722.9,1888.9 722.7,1866.3" fill="#0b34ff" stroke="#9aa6ff" stroke-width="1.6" stroke-linejoin="round"/>
<polygon points="724.1,1871.5 727.5,1871.5 727.5,1882.0 724.1,1882.0" fill="#18c8ff"/>
<polygon points="725.8,1836.8 732.8,1823.8 735.4,1824.6 734.5,1854.2 731.0,1861.1 729.3,1876.8 726.7,1888.9 722.9,1888.9 722.7,1866.3" fill="url(#speck)"/>
<polygon points="734.5,1868.9 744.9,1868.9 744.9,1883.7 734.5,1883.7" fill="#0b34ff" stroke="#9aa6ff" stroke-width="1.6" stroke-linejoin="round"/>
<polygon points="736.2,1872.4 743.2,1872.4 743.2,1879.4 736.2,1879.4" fill="#18c8ff"/>
<polygon points="734.5,1868.9 744.9,1868.9 744.9,1883.7 734.5,1883.7" fill="url(#speck)"/>
<polygon points="764.9,1882.8 771.0,1882.8 771.0,1908.0 764.9,1908.0" fill="#18c8ff" stroke="#9aa6ff" stroke-width="1.6" stroke-linejoin="round"/>
<polygon points="764.9,1899.3 768.4,1899.3 768.4,1908.0 764.9,1908.0" fill="#0b34ff"/>
<polygon points="764.9,1882.8 771.0,1882.8 771.0,1908.0 764.9,1908.0" fill="url(#speck)"/>
<polygon points="917.7,1889.8 929.8,1889.8 929.8,1901.9 917.7,1901.9" fill="#8a96ff" stroke="#9aa6ff" stroke-width="1.6" stroke-linejoin="round"/>
<polygon points="918.2,1890.6 920.6,1890.6 920.6,1901.1 918.2,1901.1" fill="#0b34ff"/>
<polygon points="926.4,1890.6 929.0,1890.6 929.0,1901.1 926.4,1901.1" fill="#0b34ff"/>
<polygon points="917.7,1889.8 929.8,1889.8 929.8,1901.9 917.7,1901.9" fill="url(#speck)"/>
<polygon points="923.8,1857.6 929.8,1857.6 929.8,1887.2 923.8,1887.2" fill="#0b34ff" stroke="#9aa6ff" stroke-width="1.6" stroke-linejoin="round"/>
<polygon points="926.9,1859.4 929.8,1859.4 929.8,1886.3 926.9,1886.3" fill="#0000b8"/>
<polygon points="923.8,1857.6 929.8,1857.6 929.8,1887.2 923.8,1887.2" fill="url(#speck)"/>
<polygon points="975.0,1851.6 981.1,1851.6 981.1,1874.1 975.0,1874.1" fill="#8a96ff" stroke="#9aa6ff" stroke-width="1.6" stroke-linejoin="round"/>
<polygon points="975.5,1859.4 980.2,1859.4 980.2,1864.6 975.5,1864.6" fill="#0b34ff"/>
<polygon points="975.0,1851.6 981.1,1851.6 981.1,1874.1 975.0,1874.1" fill="url(#speck)"/>
<polygon points="981.1,1836.8 987.2,1835.1 987.2,1862.0 981.1,1862.0" fill="#8a96ff" stroke="#9aa6ff" stroke-width="1.6" stroke-linejoin="round"/>
<polygon points="983.7,1836.8 986.6,1836.8 986.6,1859.4 983.7,1859.4" fill="#0b34ff"/>
<polygon points="981.1,1836.8 987.2,1835.1 987.2,1862.0 981.1,1862.0" fill="url(#speck)"/>
<polygon points="997.6,1838.5 1005.4,1834.2 1005.4,1855.9 998.4,1855.9 996.4,1849.0" fill="#8a96ff" stroke="#9aa6ff" stroke-width="1.6" stroke-linejoin="round"/>
<polygon points="999.3,1839.4 1004.5,1839.4 1004.5,1849.0 999.3,1849.0" fill="#0b34ff"/>
<polygon points="997.6,1838.5 1005.4,1834.2 1005.4,1855.9 998.4,1855.9 996.4,1849.0" fill="url(#speck)"/>
<polygon points="1022.8,1808.1 1028.8,1808.1 1028.8,1822.9 1022.8,1822.9" fill="#0b34ff" stroke="#9aa6ff" stroke-width="1.6" stroke-linejoin="round"/>
<polygon points="1022.8,1808.1 1028.8,1808.1 1028.8,1822.9 1022.8,1822.9" fill="url(#speck)"/>
<polygon points="1032.3,1831.6 1038.4,1823.8 1043.6,1828.1 1043.6,1843.8 1040.1,1854.2 1032.3,1854.2" fill="#0b34ff" stroke="#9aa6ff" stroke-width="1.6" stroke-linejoin="round"/>
<polygon points="1034.1,1831.6 1040.1,1831.6 1040.1,1850.7 1034.1,1850.7" fill="#0000b8"/>
<polygon points="1032.3,1831.6 1038.4,1823.8 1043.6,1828.1 1043.6,1843.8 1040.1,1854.2 1032.3,1854.2" fill="url(#speck)"/>
<polygon points="1058.4,1769.1 1064.4,1769.1 1064.4,1795.1 1058.4,1795.1" fill="#0000b8" stroke="#9aa6ff" stroke-width="1.6" stroke-linejoin="round"/>
<polygon points="1058.9,1783.0 1063.6,1783.0 1063.6,1791.6 1058.9,1791.6" fill="#0b34ff"/>
<polygon points="1058.4,1769.1 1064.4,1769.1 1064.4,1795.1 1058.4,1795.1" fill="url(#speck)"/>
<polygon points="1113.9,1769.1 1120.0,1762.1 1125.2,1755.2 1126.9,1734.3 1133.0,1734.3 1132.1,1762.1 1130.4,1779.5 1126.9,1800.3 1125.2,1814.2 1121.7,1814.2 1119.6,1798.6 1114.7,1779.5" fill="#0b34ff" stroke="#9aa6ff" stroke-width="1.6" stroke-linejoin="round"/>
<polygon points="1121.7,1767.3 1126.0,1760.4 1129.5,1739.5 1131.2,1741.3 1129.5,1767.3 1126.9,1783.0 1124.3,1793.4 1121.3,1783.0" fill="#18c8ff"/>
<polygon points="1115.6,1772.5 1121.7,1772.5 1121.7,1779.5 1115.6,1779.5" fill="#0000b8"/>
<polygon points="1113.9,1769.1 1120.0,1762.1 1125.2,1755.2 1126.9,1734.3 1133.0,1734.3 1132.1,1762.1 1130.4,1779.5 1126.9,1800.3 1125.2,1814.2 1121.7,1814.2 1119.6,1798.6 1114.7,1779.5" fill="url(#speck)"/>
<polygon points="1136.5,1755.2 1138.2,1737.8 1142.5,1737.8 1144.3,1746.5 1149.5,1750.0 1153.8,1749.1 1156.4,1770.8 1157.3,1788.2 1151.2,1787.3 1144.3,1784.7 1139.1,1779.5 1135.6,1770.8" fill="#0b34ff" stroke="#9aa6ff" stroke-width="1.6" stroke-linejoin="round"/>
<polygon points="1139.9,1751.7 1143.4,1750.0 1149.5,1755.2 1153.8,1762.1 1154.7,1779.5 1149.5,1783.0 1142.5,1777.7 1139.9,1767.3" fill="#18c8ff"/>
<polygon points="1146.0,1760.4 1153.0,1760.4 1153.0,1777.7 1146.0,1777.7" fill="#70ffa0"/>
<polygon points="1136.5,1755.2 1138.2,1737.8 1142.5,1737.8 1144.3,1746.5 1149.5,1750.0 1153.8,1749.1 1156.4,1770.8 1157.3,1788.2 1151.2,1787.3 1144.3,1784.7 1139.1,1779.5 1135.6,1770.8" fill="url(#speck)"/>
<polygon points="1152.1,1791.6 1159.0,1789.9 1163.4,1802.1 1162.5,1814.2 1156.4,1814.2 1152.6,1807.3" fill="#0b34ff" stroke="#9aa6ff" stroke-width="1.6" stroke-linejoin="round"/>
<polygon points="1154.3,1795.1 1160.3,1795.1 1160.3,1811.6 1154.3,1811.6" fill="#d8ff28"/>
<polygon points="1155.0,1799.5 1159.9,1799.5 1159.9,1807.3 1155.0,1807.3" fill="#ff9a00"/>
<polygon points="1158.2,1805.5 1160.9,1805.5 1160.9,1810.7 1158.2,1810.7" fill="#f01000"/>
<polygon points="1152.1,1791.6 1159.0,1789.9 1163.4,1802.1 1162.5,1814.2 1156.4,1814.2 1152.6,1807.3" fill="url(#speck)"/>
<polygon points="1159.0,1816.0 1168.6,1815.1 1171.2,1821.2 1174.7,1814.2 1177.3,1800.3 1181.6,1796.9 1184.2,1802.1 1185.1,1821.2 1179.0,1831.6 1178.1,1847.2 1173.8,1849.0 1172.1,1868.1 1169.5,1862.9 1163.4,1861.1 1160.8,1857.6 1159.0,1840.3" fill="#0b34ff" stroke="#9aa6ff" stroke-width="1.6" stroke-linejoin="round"/>
<polygon points="1161.6,1822.9 1170.3,1822.9 1174.7,1831.6 1174.7,1847.2 1170.3,1852.4 1163.4,1849.0 1161.3,1835.1" fill="#18c8ff"/>
<polygon points="1161.6,1828.1 1167.7,1828.1 1167.7,1838.5 1161.6,1838.5" fill="#d8ff28"/>
<polygon points="1163.4,1830.7 1166.9,1830.7 1166.9,1835.9 1163.4,1835.9" fill="#ff9a00"/>
<polygon points="1177.3,1803.8 1183.9,1803.8 1183.9,1814.2 1177.3,1814.2" fill="#18c8ff"/>
<polygon points="1159.0,1816.0 1168.6,1815.1 1171.2,1821.2 1174.7,1814.2 1177.3,1800.3 1181.6,1796.9 1184.2,1802.1 1185.1,1821.2 1179.0,1831.6 1178.1,1847.2 1173.8,1849.0 1172.1,1868.1 1169.5,1862.9 1163.4,1861.1 1160.8,1857.6 1159.0,1840.3" fill="url(#speck)"/>
<polygon points="1181.6,1821.2 1191.2,1821.2 1192.9,1814.2 1196.4,1816.0 1198.1,1836.8 1201.6,1849.0 1205.1,1842.0 1207.7,1836.8 1220.7,1836.8 1224.2,1849.0 1227.6,1849.0 1229.4,1862.9 1229.4,1883.7 1225.9,1892.4 1220.7,1890.6 1217.2,1883.7 1212.0,1876.8 1206.8,1876.8 1203.3,1890.6 1199.9,1895.9 1196.4,1890.6 1194.6,1866.3 1191.2,1855.9 1186.0,1849.0 1183.4,1840.3" fill="#0b34ff" stroke="#9aa6ff" stroke-width="1.6" stroke-linejoin="round"/>
<polygon points="1184.2,1824.6 1191.2,1824.6 1194.6,1831.6 1199.9,1852.4 1205.1,1847.2 1212.0,1842.0 1219.0,1842.0 1222.4,1854.2 1225.9,1862.9 1224.2,1876.8 1219.0,1882.0 1213.8,1873.3 1206.8,1871.5 1201.6,1883.7 1198.1,1876.8 1196.4,1862.9 1191.2,1849.0 1186.0,1842.0" fill="#18c8ff"/>
<polygon points="1199.5,1863.7 1204.7,1863.7 1204.7,1873.3 1199.5,1873.3" fill="#d8ff28"/>
<polygon points="1184.2,1825.5 1191.2,1825.5 1191.2,1831.6 1184.2,1831.6" fill="#70ffa0"/>
<polygon points="1206.8,1849.0 1212.0,1849.0 1212.0,1855.9 1206.8,1855.9" fill="#70ffa0"/>
<polygon points="1192.9,1817.7 1196.7,1817.7 1196.7,1824.6 1192.9,1824.6" fill="#d8ff28"/>
<polygon points="1215.5,1839.4 1219.8,1839.4 1219.8,1845.5 1215.5,1845.5" fill="#70ffa0"/>
<polygon points="1181.6,1821.2 1191.2,1821.2 1192.9,1814.2 1196.4,1816.0 1198.1,1836.8 1201.6,1849.0 1205.1,1842.0 1207.7,1836.8 1220.7,1836.8 1224.2,1849.0 1227.6,1849.0 1229.4,1862.9 1229.4,1883.7 1225.9,1892.4 1220.7,1890.6 1217.2,1883.7 1212.0,1876.8 1206.8,1876.8 1203.3,1890.6 1199.9,1895.9 1196.4,1890.6 1194.6,1866.3 1191.2,1855.9 1186.0,1849.0 1183.4,1840.3" fill="url(#speck)"/>
<polygon points="1227.6,1862.9 1238.1,1862.9 1239.8,1842.0 1242.4,1828.1 1246.8,1831.6 1249.4,1849.0 1250.2,1862.9 1252.0,1876.8 1252.8,1883.7 1249.4,1890.6 1241.5,1892.4 1237.2,1901.1 1235.5,1909.8 1229.4,1909.8 1226.8,1897.6 1220.7,1890.6" fill="#0000b8" stroke="#9aa6ff" stroke-width="1.6" stroke-linejoin="round"/>
<polygon points="1231.1,1864.6 1238.9,1864.6 1241.5,1852.4 1245.9,1849.0 1247.6,1862.9 1245.0,1875.0 1239.8,1882.0 1232.9,1883.7" fill="#18c8ff"/>
<polygon points="1241.9,1838.5 1245.4,1838.5 1245.4,1845.5 1241.9,1845.5" fill="#ff9a00"/>
<polygon points="1222.4,1876.8 1231.1,1876.8 1231.1,1890.6 1222.4,1890.6" fill="#0b34ff"/>
<polygon points="1227.6,1862.9 1238.1,1862.9 1239.8,1842.0 1242.4,1828.1 1246.8,1831.6 1249.4,1849.0 1250.2,1862.9 1252.0,1876.8 1252.8,1883.7 1249.4,1890.6 1241.5,1892.4 1237.2,1901.1 1235.5,1909.8 1229.4,1909.8 1226.8,1897.6 1220.7,1890.6" fill="url(#speck)"/>
<polygon points="1249.4,1890.6 1253.7,1894.1 1255.4,1906.3 1257.2,1927.1 1252.8,1927.1 1251.1,1913.2 1248.5,1901.1" fill="#8a96ff" stroke="#9aa6ff" stroke-width="1.6" stroke-linejoin="round"/>
<polygon points="1251.1,1895.9 1254.6,1895.9 1254.6,1908.0 1251.1,1908.0" fill="#0b34ff"/>
<polygon points="1249.4,1890.6 1253.7,1894.1 1255.4,1906.3 1257.2,1927.1 1252.8,1927.1 1251.1,1913.2 1248.5,1901.1" fill="url(#speck)"/>
<polygon points="1253.7,1864.6 1259.8,1864.6 1259.8,1888.9 1253.7,1888.9" fill="#8a96ff" stroke="#9aa6ff" stroke-width="1.6" stroke-linejoin="round"/>
<polygon points="1255.1,1866.3 1258.6,1866.3 1258.6,1883.7 1255.1,1883.7" fill="#18c8ff"/>
<polygon points="1253.7,1864.6 1259.8,1864.6 1259.8,1888.9 1253.7,1888.9" fill="url(#speck)"/>
<polygon points="1265.9,1866.3 1271.1,1866.3 1274.5,1883.7 1274.5,1894.1 1267.6,1894.1 1265.9,1883.7" fill="#0000b8" stroke="#9aa6ff" stroke-width="1.6" stroke-linejoin="round"/>
<polygon points="1266.7,1876.8 1271.9,1876.8 1271.9,1888.9 1266.7,1888.9" fill="#0b34ff"/>
<polygon points="1265.9,1866.3 1271.1,1866.3 1274.5,1883.7 1274.5,1894.1 1267.6,1894.1 1265.9,1883.7" fill="url(#speck)"/>
<polygon points="1275.4,1824.6 1279.8,1821.2 1284.1,1822.9 1286.7,1831.6 1286.7,1843.8 1281.5,1847.2 1276.3,1842.0" fill="#0b34ff" stroke="#9aa6ff" stroke-width="1.6" stroke-linejoin="round"/>
<polygon points="1279.8,1831.6 1285.0,1831.6 1285.0,1839.4 1279.8,1839.4" fill="#70ffa0"/>
<polygon points="1275.4,1824.6 1279.8,1821.2 1284.1,1822.9 1286.7,1831.6 1286.7,1843.8 1281.5,1847.2 1276.3,1842.0" fill="url(#speck)"/>
<polygon points="1281.5,1849.0 1288.4,1849.0 1290.2,1861.1 1293.7,1871.5 1296.3,1888.9 1300.6,1894.1 1305.8,1885.4 1310.2,1885.4 1311.0,1909.8 1305.8,1909.8 1302.3,1913.2 1297.1,1915.0 1295.4,1902.8 1291.0,1892.4 1288.4,1882.0 1285.0,1869.8 1282.4,1859.4" fill="#0b34ff" stroke="#9aa6ff" stroke-width="1.6" stroke-linejoin="round"/>
<polygon points="1285.0,1861.1 1289.3,1862.9 1292.8,1875.0 1295.4,1887.2 1293.7,1892.4 1291.0,1883.7 1287.6,1875.0" fill="#18c8ff"/>
<polygon points="1286.7,1866.3 1290.2,1866.3 1290.2,1871.5 1286.7,1871.5" fill="#ff9a00"/>
<polygon points="1281.5,1849.0 1288.4,1849.0 1290.2,1861.1 1293.7,1871.5 1296.3,1888.9 1300.6,1894.1 1305.8,1885.4 1310.2,1885.4 1311.0,1909.8 1305.8,1909.8 1302.3,1913.2 1297.1,1915.0 1295.4,1902.8 1291.0,1892.4 1288.4,1882.0 1285.0,1869.8 1282.4,1859.4" fill="url(#speck)"/>
<polygon points="1314.5,1795.1 1319.7,1795.1 1320.6,1822.9 1322.3,1831.6 1322.3,1869.8 1330.1,1869.8 1333.6,1873.3 1332.7,1883.7 1326.7,1883.7 1324.9,1894.1 1321.4,1894.1 1318.0,1871.5 1317.1,1842.0 1314.5,1831.6 1313.6,1814.2" fill="#0b34ff" stroke="#9aa6ff" stroke-width="1.6" stroke-linejoin="round"/>
<polygon points="1315.4,1796.9 1319.4,1796.9 1319.4,1821.2 1315.4,1821.2" fill="#18c8ff"/>
<polygon points="1320.6,1872.4 1331.0,1872.4 1331.0,1881.1 1320.6,1881.1" fill="#18c8ff"/>
<polygon points="1314.5,1795.1 1319.7,1795.1 1320.6,1822.9 1322.3,1831.6 1322.3,1869.8 1330.1,1869.8 1333.6,1873.3 1332.7,1883.7 1326.7,1883.7 1324.9,1894.1 1321.4,1894.1 1318.0,1871.5 1317.1,1842.0 1314.5,1831.6 1313.6,1814.2" fill="url(#speck)"/>
<polygon points="1307.9,1836.8 1314.0,1836.8 1314.0,1868.1 1307.9,1868.1" fill="#8a96ff" stroke="#9aa6ff" stroke-width="1.6" stroke-linejoin="round"/>
<polygon points="1308.9,1842.0 1313.6,1842.0 1313.6,1854.2 1308.9,1854.2" fill="#d8ff28"/>
<polygon points="1310.7,1846.4 1313.6,1846.4 1313.6,1850.7 1310.7,1850.7" fill="#f01000"/>
<polygon points="1308.4,1859.4 1312.8,1859.4 1312.8,1866.3 1308.4,1866.3" fill="#ff9a00"/>
<polygon points="1307.9,1836.8 1314.0,1836.8 1314.0,1868.1 1307.9,1868.1" fill="url(#speck)"/>
<polygon points="1338.8,1826.4 1345.8,1824.6 1346.6,1852.4 1341.4,1855.9 1338.8,1849.0" fill="#0b34ff" stroke="#9aa6ff" stroke-width="1.6" stroke-linejoin="round"/>
<polygon points="1339.7,1835.1 1344.9,1835.1 1344.9,1845.5 1339.7,1845.5" fill="#18c8ff"/>
<polygon points="1338.8,1826.4 1345.8,1824.6 1346.6,1852.4 1341.4,1855.9 1338.8,1849.0" fill="url(#speck)"/>
<polygon points="1344.0,1762.1 1349.2,1762.1 1349.2,1787.3 1344.0,1787.3" fill="#0b34ff" stroke="#9aa6ff" stroke-width="1.6" stroke-linejoin="round"/>
<polygon points="1344.0,1762.1 1349.2,1762.1 1349.2,1787.3 1344.0,1787.3" fill="url(#speck)"/>
<polygon points="1500.3,1869.8 1505.5,1869.8 1505.5,1881.1 1500.3,1881.1" fill="#8a96ff" stroke="#9aa6ff" stroke-width="1.6" stroke-linejoin="round"/>
<polygon points="1500.6,1871.5 1503.8,1871.5 1503.8,1879.4 1500.6,1879.4" fill="#0b34ff"/>
<polygon points="1500.3,1869.8 1505.5,1869.8 1505.5,1881.1 1500.3,1881.1" fill="url(#speck)"/>
<polygon points="1509.8,1869.8 1515.0,1869.8 1515.0,1888.9 1509.8,1888.9" fill="#8a96ff" stroke="#9aa6ff" stroke-width="1.6" stroke-linejoin="round"/>
<polygon points="1510.7,1871.5 1514.2,1871.5 1514.2,1883.7 1510.7,1883.7" fill="#0b34ff"/>
<polygon points="1509.8,1869.8 1515.0,1869.8 1515.0,1888.9 1509.8,1888.9" fill="url(#speck)"/>
<polygon points="1521.1,1911.5 1526.3,1911.5 1526.3,1924.5 1521.1,1924.5" fill="#8a96ff" stroke="#9aa6ff" stroke-width="1.6" stroke-linejoin="round"/>
<polygon points="1521.1,1911.5 1526.3,1911.5 1526.3,1924.5 1521.1,1924.5" fill="url(#speck)"/>
<polygon points="1524.6,1878.5 1529.8,1877.6 1535.9,1885.4 1535.9,1908.0 1527.2,1908.0 1524.6,1901.1" fill="#0000b8" stroke="#9aa6ff" stroke-width="1.6" stroke-linejoin="round"/>
<polygon points="1527.2,1887.2 1532.4,1887.2 1532.4,1904.5 1527.2,1904.5" fill="#0b34ff"/>
<polygon points="1524.6,1878.5 1529.8,1877.6 1535.9,1885.4 1535.9,1908.0 1527.2,1908.0 1524.6,1901.1" fill="url(#speck)"/>
<polygon points="1535.9,1851.6 1540.2,1851.6 1542.0,1862.9 1545.4,1869.8 1552.4,1868.9 1554.1,1890.6 1557.6,1890.6 1556.7,1901.1 1552.4,1901.1 1550.6,1894.1 1545.4,1894.1 1542.0,1883.7 1538.5,1876.8 1534.1,1868.1 1533.3,1859.4" fill="#0b34ff" stroke="#9aa6ff" stroke-width="1.6" stroke-linejoin="round"/>
<polygon points="1534.1,1859.4 1538.8,1859.4 1538.8,1864.9 1534.1,1864.9" fill="#70ffa0"/>
<polygon points="1536.8,1866.3 1545.4,1866.3 1545.4,1882.0 1536.8,1882.0" fill="#18c8ff"/>
<polygon points="1546.3,1888.9 1552.4,1888.9 1552.4,1894.1 1546.3,1894.1" fill="#0000b8"/>
<polygon points="1535.9,1851.6 1540.2,1851.6 1542.0,1862.9 1545.4,1869.8 1552.4,1868.9 1554.1,1890.6 1557.6,1890.6 1556.7,1901.1 1552.4,1901.1 1550.6,1894.1 1545.4,1894.1 1542.0,1883.7 1538.5,1876.8 1534.1,1868.1 1533.3,1859.4" fill="url(#speck)"/>
<polygon points="1587.1,1846.4 1592.3,1846.4 1592.3,1880.2 1587.1,1880.2" fill="#0000b8" stroke="#9aa6ff" stroke-width="1.6" stroke-linejoin="round"/>
<polygon points="1587.1,1846.4 1592.3,1846.4 1592.3,1880.2 1587.1,1880.2" fill="url(#speck)"/>
<polygon points="1592.3,1831.6 1601.0,1826.4 1609.7,1822.0 1613.2,1828.1 1613.2,1835.1 1610.6,1847.2 1604.5,1854.2 1601.0,1862.9 1595.8,1868.1 1592.7,1862.9" fill="#0b34ff" stroke="#9aa6ff" stroke-width="1.6" stroke-linejoin="round"/>
<polygon points="1595.5,1837.7 1599.6,1837.7 1599.6,1846.4 1595.5,1846.4" fill="#18c8ff"/>
<polygon points="1594.1,1843.8 1602.8,1843.8 1602.8,1854.2 1594.1,1854.2" fill="#0000b8"/>
<polygon points="1592.3,1831.6 1601.0,1826.4 1609.7,1822.0 1613.2,1828.1 1613.2,1835.1 1610.6,1847.2 1604.5,1854.2 1601.0,1862.9 1595.8,1868.1 1592.7,1862.9" fill="url(#speck)"/>
<polygon points="1617.5,1816.0 1622.7,1816.0 1622.7,1829.0 1617.5,1829.0" fill="#8a96ff" stroke="#9aa6ff" stroke-width="1.6" stroke-linejoin="round"/>
<polygon points="1618.4,1818.6 1621.5,1818.6 1621.5,1826.4 1618.4,1826.4" fill="#0b34ff"/>
<polygon points="1617.5,1816.0 1622.7,1816.0 1622.7,1829.0 1617.5,1829.0" fill="url(#speck)"/>
<polygon points="1635.8,1810.7 1646.2,1796.9 1649.7,1798.6 1650.5,1817.7 1653.1,1821.2 1653.1,1841.1 1647.9,1836.8 1642.7,1835.1 1635.8,1821.2" fill="#0b34ff" stroke="#9aa6ff" stroke-width="1.6" stroke-linejoin="round"/>
<polygon points="1640.1,1812.5 1647.9,1812.5 1647.9,1824.6 1640.1,1824.6" fill="#0000b8"/>
<polygon points="1641.0,1825.5 1645.3,1825.5 1645.3,1831.6 1641.0,1831.6" fill="#18c8ff"/>
<polygon points="1635.8,1810.7 1646.2,1796.9 1649.7,1798.6 1650.5,1817.7 1653.1,1821.2 1653.1,1841.1 1647.9,1836.8 1642.7,1835.1 1635.8,1821.2" fill="url(#speck)"/>
<polygon points="1662.7,1767.3 1670.0,1767.3 1670.0,1781.2 1662.7,1781.2" fill="#0b34ff" stroke="#9aa6ff" stroke-width="1.6" stroke-linejoin="round"/>
<polygon points="1663.6,1770.8 1668.8,1770.8 1668.8,1777.7 1663.6,1777.7" fill="#18c8ff"/>
<polygon points="1662.7,1767.3 1670.0,1767.3 1670.0,1781.2 1662.7,1781.2" fill="url(#speck)"/>
<polygon points="1673.9,1756.0 1680.0,1756.0 1680.8,1767.3 1688.7,1769.9 1689.2,1781.2 1682.6,1783.0 1682.6,1791.6 1674.8,1792.5 1674.8,1783.0 1675.6,1772.5" fill="#0b34ff" stroke="#9aa6ff" stroke-width="1.6" stroke-linejoin="round"/>
<polygon points="1677.4,1770.8 1687.8,1770.8 1687.8,1778.6 1677.4,1778.6" fill="#18c8ff"/>
<polygon points="1674.8,1784.7 1682.6,1784.7 1682.6,1791.6 1674.8,1791.6" fill="#8a96ff"/>
<polygon points="1673.9,1756.0 1680.0,1756.0 1680.8,1767.3 1688.7,1769.9 1689.2,1781.2 1682.6,1783.0 1682.6,1791.6 1674.8,1792.5 1674.8,1783.0 1675.6,1772.5" fill="url(#speck)"/>
<polygon points="1686.1,1800.3 1691.3,1794.2 1694.7,1796.9 1700.8,1803.8 1701.7,1814.2 1694.7,1816.0 1693.0,1821.2 1689.5,1821.2 1686.1,1810.7" fill="#0b34ff" stroke="#9aa6ff" stroke-width="1.6" stroke-linejoin="round"/>
<polygon points="1689.5,1803.8 1699.1,1803.8 1699.1,1812.5 1689.5,1812.5" fill="#18c8ff"/>
<polygon points="1686.1,1800.3 1691.3,1794.2 1694.7,1796.9 1700.8,1803.8 1701.7,1814.2 1694.7,1816.0 1693.0,1821.2 1689.5,1821.2 1686.1,1810.7" fill="url(#speck)"/>
<polygon points="1698.2,1824.6 1703.4,1824.6 1704.3,1845.5 1708.6,1854.2 1712.1,1845.5 1715.6,1849.0 1719.9,1857.6 1719.9,1868.1 1715.6,1869.8 1715.6,1881.1 1712.1,1881.1 1710.4,1875.0 1706.9,1881.1 1704.3,1881.1 1700.0,1866.3 1698.6,1854.2" fill="#0b34ff" stroke="#9aa6ff" stroke-width="1.6" stroke-linejoin="round"/>
<polygon points="1698.6,1824.6 1703.4,1824.6 1703.4,1845.5 1698.6,1845.5" fill="#8a96ff"/>
<polygon points="1701.7,1855.9 1717.3,1855.9 1717.3,1868.1 1701.7,1868.1" fill="#18c8ff"/>
<polygon points="1703.8,1859.4 1707.8,1859.4 1707.8,1866.3 1703.8,1866.3" fill="#70ffa0"/>
<polygon points="1698.2,1824.6 1703.4,1824.6 1704.3,1845.5 1708.6,1854.2 1712.1,1845.5 1715.6,1849.0 1719.9,1857.6 1719.9,1868.1 1715.6,1869.8 1715.6,1881.1 1712.1,1881.1 1710.4,1875.0 1706.9,1881.1 1704.3,1881.1 1700.0,1866.3 1698.6,1854.2" fill="url(#speck)"/>
<polygon points="1719.9,1816.0 1732.1,1815.1 1733.8,1824.6 1733.0,1847.2 1727.7,1847.2 1722.5,1847.2 1719.9,1835.1" fill="#0b34ff" stroke="#9aa6ff" stroke-width="1.6" stroke-linejoin="round"/>
<polygon points="1722.5,1818.6 1731.2,1818.6 1731.2,1831.6 1722.5,1831.6" fill="#18c8ff"/>
<polygon points="1728.6,1821.2 1731.2,1821.2 1731.2,1824.6 1728.6,1824.6" fill="#70ffa0"/>
<polygon points="1722.5,1835.1 1727.7,1835.1 1727.7,1847.2 1722.5,1847.2" fill="#0000b8"/>
<polygon points="1719.9,1816.0 1732.1,1815.1 1733.8,1824.6 1733.0,1847.2 1727.7,1847.2 1722.5,1847.2 1719.9,1835.1" fill="url(#speck)"/>
<polygon points="1729.5,1835.1 1736.4,1835.1 1737.3,1882.0 1732.1,1882.8 1730.3,1866.3" fill="#0b34ff" stroke="#9aa6ff" stroke-width="1.6" stroke-linejoin="round"/>
<polygon points="1729.5,1835.1 1732.1,1835.1 1732.1,1866.3 1729.5,1866.3" fill="#8a96ff"/>
<polygon points="1729.5,1835.1 1736.4,1835.1 1737.3,1882.0 1732.1,1882.8 1730.3,1866.3" fill="url(#speck)"/>
<polygon points="1764.2,1862.9 1771.2,1862.9 1776.4,1869.8 1776.4,1886.3 1765.1,1886.3" fill="#8a96ff" stroke="#9aa6ff" stroke-width="1.6" stroke-linejoin="round"/>
<polygon points="1768.6,1871.5 1775.5,1871.5 1775.5,1883.7 1768.6,1883.7" fill="#0b34ff"/>
<polygon points="1771.2,1874.1 1774.6,1874.1 1774.6,1879.4 1771.2,1879.4" fill="#18c8ff"/>
<polygon points="1764.2,1862.9 1771.2,1862.9 1776.4,1869.8 1776.4,1886.3 1765.1,1886.3" fill="url(#speck)"/>
<polygon points="1792.0,1828.1 1799.0,1821.2 1803.3,1822.9 1803.3,1840.3 1799.0,1849.0 1797.2,1862.0 1792.0,1862.0" fill="#0b34ff" stroke="#9aa6ff" stroke-width="1.6" stroke-linejoin="round"/>
<polygon points="1793.8,1831.6 1800.7,1831.6 1800.7,1845.5 1793.8,1845.5" fill="#18c8ff"/>
<polygon points="1799.8,1822.9 1803.3,1822.9 1803.3,1840.3 1799.8,1840.3" fill="#8a96ff"/>
<polygon points="1792.0,1828.1 1799.0,1821.2 1803.3,1822.9 1803.3,1840.3 1799.0,1849.0 1797.2,1862.0 1792.0,1862.0" fill="url(#speck)"/>
<polygon points="1791.1,1875.0 1795.5,1875.0 1795.5,1895.0 1791.1,1895.0" fill="#0000b8" stroke="#9aa6ff" stroke-width="1.6" stroke-linejoin="round"/>
<polygon points="1791.1,1875.0 1795.5,1875.0 1795.5,1895.0 1791.1,1895.0" fill="url(#speck)"/>
<polygon points="1911.9,1800.3 1917.1,1800.3 1917.1,1826.4 1911.9,1826.4" fill="#8a96ff" stroke="#9aa6ff" stroke-width="1.6" stroke-linejoin="round"/>
<polygon points="1912.2,1802.1 1915.3,1802.1 1915.3,1824.6 1912.2,1824.6" fill="#0b34ff"/>
<polygon points="1913.3,1807.3 1915.3,1807.3 1915.3,1814.2 1913.3,1814.2" fill="#18c8ff"/>
<polygon points="1911.9,1800.3 1917.1,1800.3 1917.1,1826.4 1911.9,1826.4" fill="url(#speck)"/>
<polygon points="1917.1,1770.8 1920.6,1754.3 1924.0,1754.3 1926.6,1776.0 1927.5,1800.3 1918.8,1801.2 1917.9,1788.2" fill="#0b34ff" stroke="#9aa6ff" stroke-width="1.6" stroke-linejoin="round"/>
<polygon points="1918.8,1767.3 1924.9,1767.3 1924.9,1779.5 1918.8,1779.5" fill="#18c8ff"/>
<polygon points="1916.7,1772.5 1919.2,1772.5 1919.2,1800.3 1916.7,1800.3" fill="#8a96ff"/>
<polygon points="1917.1,1770.8 1920.6,1754.3 1924.0,1754.3 1926.6,1776.0 1927.5,1800.3 1918.8,1801.2 1917.9,1788.2" fill="url(#speck)"/>
<polygon points="1924.0,1784.7 1929.2,1784.7 1931.8,1798.6 1934.4,1810.7 1937.9,1821.2 1944.0,1823.8 1947.5,1831.6 1947.5,1853.3 1944.9,1854.2 1937.9,1852.4 1934.4,1852.4 1931.8,1842.0 1928.4,1828.1 1925.8,1814.2 1924.0,1800.3" fill="#0b34ff" stroke="#9aa6ff" stroke-width="1.6" stroke-linejoin="round"/>
<polygon points="1925.8,1800.3 1930.1,1800.3 1933.6,1814.2 1939.7,1828.1 1944.9,1831.6 1944.9,1842.0 1937.9,1842.0 1932.7,1831.6 1928.4,1817.7" fill="#18c8ff"/>
<polygon points="1928.4,1811.6 1932.7,1811.6 1932.7,1817.7 1928.4,1817.7" fill="#ff9a00"/>
<polygon points="1937.9,1832.5 1944.9,1832.5 1944.9,1838.5 1937.9,1838.5" fill="#70ffa0"/>
<polygon points="1924.0,1784.7 1929.2,1784.7 1931.8,1798.6 1934.4,1810.7 1937.9,1821.2 1944.0,1823.8 1947.5,1831.6 1947.5,1853.3 1944.9,1854.2 1937.9,1852.4 1934.4,1852.4 1931.8,1842.0 1928.4,1828.1 1925.8,1814.2 1924.0,1800.3" fill="url(#speck)"/>
<polygon points="1947.5,1856.8 1953.6,1856.8 1953.6,1886.3 1947.5,1886.3" fill="#0b34ff" stroke="#9aa6ff" stroke-width="1.6" stroke-linejoin="round"/>
<polygon points="1949.7,1862.9 1953.2,1862.9 1953.2,1873.3 1949.7,1873.3" fill="#18c8ff"/>
<polygon points="1947.5,1856.8 1953.6,1856.8 1953.6,1886.3 1947.5,1886.3" fill="url(#speck)"/>
<polygon points="1953.6,1889.8 1960.0,1889.8 1960.0,1907.2 1953.6,1907.2" fill="#0b34ff" stroke="#9aa6ff" stroke-width="1.6" stroke-linejoin="round"/>
<polygon points="1955.3,1894.1 1960.0,1894.1 1960.0,1904.5 1955.3,1904.5" fill="#0000b8"/>
<polygon points="1953.6,1889.8 1960.0,1889.8 1960.0,1907.2 1953.6,1907.2" fill="url(#speck)"/>
<polygon points="1950.0,1855.0 1954.3,1855.0 1954.3,1885.4 1950.0,1885.4" fill="#0b34ff" stroke="#9aa6ff" stroke-width="1.6" stroke-linejoin="round"/>
<polygon points="1950.0,1862.9 1953.1,1862.9 1953.1,1873.3 1950.0,1873.3" fill="#18c8ff"/>
<polygon points="1950.0,1855.0 1954.3,1855.0 1954.3,1885.4 1950.0,1885.4" fill="url(#speck)"/>
<polygon points="1953.5,1890.6 1959.6,1890.6 1959.6,1908.0 1953.5,1908.0" fill="#0b34ff" stroke="#9aa6ff" stroke-width="1.6" stroke-linejoin="round"/>
<polygon points="1953.8,1901.1 1958.7,1901.1 1958.7,1908.0 1953.8,1908.0" fill="#8a96ff"/>
<polygon points="1953.5,1890.6 1959.6,1890.6 1959.6,1908.0 1953.5,1908.0" fill="url(#speck)"/>
<polygon points="1969.1,1824.6 1974.3,1816.0 1976.1,1803.8 1981.3,1791.6 1985.6,1789.0 1986.8,1814.2 1981.3,1816.0 1978.7,1828.1 1975.2,1833.3 1973.4,1841.1 1969.1,1841.1" fill="#0b34ff" stroke="#9aa6ff" stroke-width="1.6" stroke-linejoin="round"/>
<polygon points="1979.5,1796.9 1986.5,1796.9 1986.5,1809.0 1979.5,1809.0" fill="#18c8ff"/>
<polygon points="1969.5,1829.9 1974.3,1829.9 1974.3,1838.5 1969.5,1838.5" fill="#18c8ff"/>
<polygon points="1976.1,1803.8 1982.1,1803.8 1982.1,1814.2 1976.1,1814.2" fill="#0000b8"/>
<polygon points="1969.1,1824.6 1974.3,1816.0 1976.1,1803.8 1981.3,1791.6 1985.6,1789.0 1986.8,1814.2 1981.3,1816.0 1978.7,1828.1 1975.2,1833.3 1973.4,1841.1 1969.1,1841.1" fill="url(#speck)"/>
<polygon points="1990.0,1729.1 2000.4,1725.6 2005.6,1729.1 2010.8,1734.3 2010.8,1740.4 2016.0,1735.2 2033.4,1735.2 2034.2,1746.5 2007.3,1748.2 2005.6,1739.5 1990.8,1739.5" fill="#0b34ff" stroke="#9aa6ff" stroke-width="1.6" stroke-linejoin="round"/>
<polygon points="1990.3,1730.8 1996.9,1730.8 1996.9,1738.7 1990.3,1738.7" fill="#8a96ff"/>
<polygon points="2018.6,1736.1 2025.6,1736.1 2025.6,1746.5 2018.6,1746.5" fill="#8a96ff"/>
<polygon points="1998.6,1727.4 2004.7,1727.4 2004.7,1738.7 1998.6,1738.7" fill="#0000b8"/>
<polygon points="1990.0,1729.1 2000.4,1725.6 2005.6,1729.1 2010.8,1734.3 2010.8,1740.4 2016.0,1735.2 2033.4,1735.2 2034.2,1746.5 2007.3,1748.2 2005.6,1739.5 1990.8,1739.5" fill="url(#speck)"/>
<polygon points="2010.8,1757.8 2016.9,1757.8 2016.9,1767.3 2010.8,1767.3" fill="#8a96ff" stroke="#9aa6ff" stroke-width="1.6" stroke-linejoin="round"/>
<polygon points="2010.8,1757.8 2016.9,1757.8 2016.9,1767.3 2010.8,1767.3" fill="url(#speck)"/>
<polygon points="2032.5,1767.3 2040.3,1767.3 2040.3,1781.2 2032.5,1781.2" fill="#0b34ff" stroke="#9aa6ff" stroke-width="1.6" stroke-linejoin="round"/>
<polygon points="2034.2,1771.7 2038.6,1771.7 2038.6,1776.9 2034.2,1776.9" fill="#18c8ff"/>
<polygon points="2032.5,1767.3 2040.3,1767.3 2040.3,1781.2 2032.5,1781.2" fill="url(#speck)"/>
<polygon points="2049.9,1800.3 2056.0,1799.5 2059.4,1796.9 2064.6,1797.7 2064.6,1820.3 2059.4,1820.3 2056.0,1815.1 2049.9,1814.2" fill="#0b34ff" stroke="#9aa6ff" stroke-width="1.6" stroke-linejoin="round"/>
<polygon points="2059.1,1797.7 2064.6,1797.7 2064.6,1820.3 2059.1,1820.3" fill="#8a96ff"/>
<polygon points="2050.7,1805.5 2055.1,1805.5 2055.1,1811.6 2050.7,1811.6" fill="#18c8ff"/>
<polygon points="2049.9,1800.3 2056.0,1799.5 2059.4,1796.9 2064.6,1797.7 2064.6,1820.3 2059.4,1820.3 2056.0,1815.1 2049.9,1814.2" fill="url(#speck)"/>
<polygon points="2061.2,1824.6 2065.0,1824.6 2065.0,1853.3 2061.2,1853.3" fill="#0000b8" stroke="#9aa6ff" stroke-width="1.6" stroke-linejoin="round"/>
<polygon points="2061.2,1824.6 2065.0,1824.6 2065.0,1853.3 2061.2,1853.3" fill="url(#speck)"/>
<polygon points="2064.6,1875.0 2069.9,1875.0 2069.9,1889.8 2064.6,1889.8" fill="#0b34ff" stroke="#9aa6ff" stroke-width="1.6" stroke-linejoin="round"/>
<polygon points="2064.6,1875.0 2069.9,1875.0 2069.9,1889.8 2064.6,1889.8" fill="url(#speck)"/>
<polygon points="2082.9,1769.9 2089.0,1769.9 2089.0,1795.1 2082.9,1795.1" fill="#0b34ff" stroke="#9aa6ff" stroke-width="1.6" stroke-linejoin="round"/>
<polygon points="2083.8,1778.6 2086.9,1778.6 2086.9,1787.3 2083.8,1787.3" fill="#18c8ff"/>
<polygon points="2082.9,1769.9 2089.0,1769.9 2089.0,1795.1 2082.9,1795.1" fill="url(#speck)"/>
<polygon points="2079.4,1800.3 2085.1,1800.3 2085.1,1826.4 2079.4,1826.4" fill="#8a96ff" stroke="#9aa6ff" stroke-width="1.6" stroke-linejoin="round"/>
<polygon points="2079.9,1802.1 2083.4,1802.1 2083.4,1821.2 2079.9,1821.2" fill="#0b34ff"/>
<polygon points="2079.4,1800.3 2085.1,1800.3 2085.1,1826.4 2079.4,1826.4" fill="url(#speck)"/>
<polygon points="2103.7,1800.3 2109.8,1800.3 2109.8,1826.4 2103.7,1826.4" fill="#0b34ff" stroke="#9aa6ff" stroke-width="1.6" stroke-linejoin="round"/>
<polygon points="2104.2,1809.9 2108.9,1809.9 2108.9,1818.6 2104.2,1818.6" fill="#18c8ff"/>
<polygon points="2103.7,1800.3 2109.8,1800.3 2109.8,1826.4 2103.7,1826.4" fill="url(#speck)"/>
<polygon points="2112.4,1824.6 2117.6,1817.7 2121.1,1819.4 2122.0,1842.0 2126.3,1835.9 2128.0,1836.8 2128.0,1855.9 2122.0,1856.8 2116.8,1854.2 2115.0,1866.3 2112.4,1874.1 2108.9,1874.1 2107.2,1861.1 2109.8,1849.0" fill="#0b34ff" stroke="#9aa6ff" stroke-width="1.6" stroke-linejoin="round"/>
<polygon points="2108.4,1853.3 2115.0,1853.3 2115.0,1864.6 2108.4,1864.6" fill="#18c8ff"/>
<polygon points="2114.1,1822.9 2119.4,1822.9 2119.4,1849.0 2114.1,1849.0" fill="#0000b8"/>
<polygon points="2119.4,1842.0 2123.7,1842.0 2123.7,1855.9 2119.4,1855.9" fill="#8a96ff"/>
<polygon points="2112.4,1824.6 2117.6,1817.7 2121.1,1819.4 2122.0,1842.0 2126.3,1835.9 2128.0,1836.8 2128.0,1855.9 2122.0,1856.8 2116.8,1854.2 2115.0,1866.3 2112.4,1874.1 2108.9,1874.1 2107.2,1861.1 2109.8,1849.0" fill="url(#speck)"/>
<polygon points="2138.5,1815.1 2144.2,1815.1 2144.2,1842.0 2138.5,1842.0" fill="#0b34ff" stroke="#9aa6ff" stroke-width="1.6" stroke-linejoin="round"/>
<polygon points="2139.7,1831.6 2142.8,1831.6 2142.8,1837.7 2139.7,1837.7" fill="#18c8ff"/>
<polygon points="2138.5,1815.1 2144.2,1815.1 2144.2,1842.0 2138.5,1842.0" fill="url(#speck)"/>
<polygon points="2151.5,1854.2 2155.8,1848.1 2158.4,1849.0 2158.4,1874.1 2155.0,1874.1 2151.5,1866.3" fill="#0b34ff" stroke="#9aa6ff" stroke-width="1.6" stroke-linejoin="round"/>
<polygon points="2151.8,1857.6 2157.6,1857.6 2157.6,1866.3 2151.8,1866.3" fill="#18c8ff"/>
<polygon points="2151.5,1854.2 2155.8,1848.1 2158.4,1849.0 2158.4,1874.1 2155.0,1874.1 2151.5,1866.3" fill="url(#speck)"/>
<polygon points="2161.0,1849.0 2164.5,1822.9 2169.7,1822.9 2171.5,1845.5 2172.3,1869.8 2175.8,1880.2 2181.0,1885.4 2184.5,1899.3 2187.1,1915.0 2187.6,1934.1 2182.8,1934.1 2179.3,1921.9 2174.1,1913.2 2171.5,1902.8 2168.9,1887.2 2166.3,1880.2 2161.9,1878.5" fill="#0b34ff" stroke="#9aa6ff" stroke-width="1.6" stroke-linejoin="round"/>
<polygon points="2161.0,1849.0 2166.3,1849.0 2166.3,1878.5 2161.0,1878.5" fill="#8a96ff"/>
<polygon points="2165.4,1824.6 2169.2,1824.6 2170.3,1849.0 2172.3,1873.3 2177.5,1887.2 2181.0,1897.6 2179.3,1906.3 2174.1,1901.1 2170.6,1885.4 2168.0,1866.3 2166.3,1845.5" fill="#18c8ff"/>
<polygon points="2166.8,1859.4 2170.9,1859.4 2170.9,1866.3 2166.8,1866.3" fill="#70ffa0"/>
<polygon points="2173.2,1892.4 2179.3,1892.4 2179.3,1899.3 2173.2,1899.3" fill="#70ffa0"/>
<polygon points="2161.0,1849.0 2164.5,1822.9 2169.7,1822.9 2171.5,1845.5 2172.3,1869.8 2175.8,1880.2 2181.0,1885.4 2184.5,1899.3 2187.1,1915.0 2187.6,1934.1 2182.8,1934.1 2179.3,1921.9 2174.1,1913.2 2171.5,1902.8 2168.9,1887.2 2166.3,1880.2 2161.9,1878.5" fill="url(#speck)"/>
<polygon points="2214.9,1925.4 2219.2,1922.8 2223.6,1928.9 2224.1,1949.7 2220.1,1948.8 2215.8,1939.3" fill="#0b34ff" stroke="#9aa6ff" stroke-width="1.6" stroke-linejoin="round"/>
<polygon points="2215.2,1926.3 2218.4,1926.3 2218.4,1937.5 2215.2,1937.5" fill="#8a96ff"/>
<polygon points="2214.9,1925.4 2219.2,1922.8 2223.6,1928.9 2224.1,1949.7 2220.1,1948.8 2215.8,1939.3" fill="url(#speck)"/>
<polygon points="2271.8,1842.5 2282.4,1842.5 2291.8,1849.8 2291.8,1855.2 2303.8,1855.2 2305.1,1874.5 2299.8,1874.5 2290.4,1872.5 2289.1,1874.5 2281.1,1874.5 2278.5,1869.8 2275.8,1875.1 2272.1,1875.1" fill="#0000b8" stroke="#9aa6ff" stroke-width="1.6" stroke-linejoin="round"/>
<polygon points="2273.1,1844.5 2281.1,1844.5 2281.1,1856.5 2291.8,1856.5 2303.1,1856.5 2303.8,1867.1 2274.5,1867.1" fill="#0b34ff"/>
<polygon points="2277.1,1857.8 2303.1,1857.8 2303.1,1865.8 2277.1,1865.8" fill="#18c8ff"/>
<polygon points="2293.1,1859.8 2296.4,1859.8 2296.4,1865.1 2293.1,1865.1" fill="#70ffa0"/>
<polygon points="2299.1,1860.5 2302.4,1860.5 2302.4,1865.1 2299.1,1865.1" fill="#70ffa0"/>
<polygon points="2271.8,1842.5 2282.4,1842.5 2291.8,1849.8 2291.8,1855.2 2303.8,1855.2 2305.1,1874.5 2299.8,1874.5 2290.4,1872.5 2289.1,1874.5 2281.1,1874.5 2278.5,1869.8 2275.8,1875.1 2272.1,1875.1" fill="url(#speck)"/>
<rect x="1186" y="1818" width="6" height="18" fill="#d8ff28"/>
<rect x="1199" y="1860" width="6" height="16" fill="#70ffa0"/>
<rect x="1211" y="1850" width="6" height="9" fill="#d8ff28"/>
<rect x="1243" y="1841" width="5" height="9" fill="#ff9a00"/>
<rect x="1284" y="1848" width="5" height="16" fill="#d8ff28"/>
<rect x="1290" y="1864" width="5" height="16" fill="#70ffa0"/>
<rect x="1310" y="1845" width="5" height="13" fill="#ff9a00"/>
<rect x="1178" y="1822" width="6" height="10" fill="#70ffa0"/>
<rect x="1222" y="1860" width="5" height="12" fill="#d8ff28"/>
<rect x="1229" y="1866" width="4" height="12" fill="#70ffa0"/>
<rect x="1171" y="1840" width="5" height="12" fill="#d8ff28"/>
</g>
<g fill="none" stroke="#3a3aff" stroke-width="2.5" stroke-opacity="0.9"><circle cx="242.1" cy="2557.8" r="6.6"/><circle cx="249.4" cy="2541.2" r="6.6"/><circle cx="251.5" cy="2528.7" r="6.6"/><circle cx="248.4" cy="2537.0" r="6.6"/><circle cx="255.7" cy="2467.2" r="6.6"/><circle cx="254.7" cy="2473.4" r="6.6"/><circle cx="257.8" cy="2476.5" r="6.6"/><circle cx="263.0" cy="2493.2" r="6.6"/><circle cx="251.5" cy="2497.4" r="6.6"/><circle cx="259.9" cy="2506.8" r="6.6"/><circle cx="263.0" cy="2513.0" r="6.6"/><circle cx="265.1" cy="2521.4" r="6.6"/><circle cx="255.7" cy="2475.5" r="6.6"/><circle cx="261.9" cy="2500.5" r="6.6"/><circle cx="285.9" cy="2523.4" r="6.6"/><circle cx="282.8" cy="2531.8" r="6.6"/><circle cx="278.6" cy="2543.3" r="6.6"/><circle cx="287.0" cy="2538.0" r="6.6"/><circle cx="293.2" cy="2546.4" r="6.6"/><circle cx="297.4" cy="2552.6" r="6.6"/><circle cx="301.6" cy="2561.0" r="6.6"/><circle cx="305.7" cy="2546.4" r="6.6"/><circle cx="309.9" cy="2544.3" r="6.6"/><circle cx="312.0" cy="2552.6" r="6.6"/><circle cx="275.5" cy="2563.1" r="6.6"/><circle cx="275.5" cy="2576.6" r="6.6"/><circle cx="284.9" cy="2568.3" r="6.6"/><circle cx="293.2" cy="2573.5" r="6.6"/><circle cx="299.5" cy="2574.5" r="6.6"/><circle cx="305.7" cy="2576.6" r="6.6"/><circle cx="317.2" cy="2577.6" r="6.6"/><circle cx="290.1" cy="2556.8" r="6.6"/><circle cx="297.4" cy="2564.1" r="6.6"/><circle cx="282.8" cy="2550.5" r="6.6"/><circle cx="312.0" cy="2563.1" r="6.6"/><circle cx="303.6" cy="2539.1" r="6.6"/><circle cx="330.7" cy="2553.7" r="6.6"/><circle cx="292.2" cy="2548.5" r="6.6"/><circle cx="301.6" cy="2548.5" r="6.6"/><circle cx="284.9" cy="2558.9" r="6.6"/><circle cx="307.8" cy="2569.3" r="6.6"/><circle cx="347.4" cy="2485.9" r="6.6"/><circle cx="368.3" cy="2485.9" r="6.6"/><circle cx="350.5" cy="2508.9" r="6.6"/><circle cx="371.4" cy="2460.9" r="6.6"/><circle cx="395.4" cy="2458.8" r="6.6"/><circle cx="391.2" cy="2490.1" r="6.6"/><circle cx="391.2" cy="2500.5" r="6.6"/><circle cx="387.0" cy="2502.6" r="6.6"/><circle cx="396.4" cy="2440.1" r="6.6"/><circle cx="397.4" cy="2420.3" r="6.6"/><circle cx="401.6" cy="2427.6" r="6.6"/><circle cx="419.3" cy="2398.4" r="6.6"/><circle cx="436.0" cy="2392.1" r="6.6"/><circle cx="414.1" cy="2406.7" r="6.6"/><circle cx="422.5" cy="2408.8" r="6.6"/><circle cx="435.0" cy="2413.0" r="6.6"/><circle cx="438.1" cy="2415.0" r="6.6"/><circle cx="426.6" cy="2419.2" r="6.6"/><circle cx="417.3" cy="2421.3" r="6.6"/><circle cx="407.9" cy="2429.6" r="6.6"/><circle cx="422.5" cy="2431.7" r="6.6"/><circle cx="432.9" cy="2429.6" r="6.6"/><circle cx="443.3" cy="2438.0" r="6.6"/><circle cx="447.5" cy="2442.1" r="6.6"/><circle cx="451.6" cy="2446.3" r="6.6"/><circle cx="445.4" cy="2452.6" r="6.6"/><circle cx="455.8" cy="2440.1" r="6.6"/><circle cx="460.0" cy="2435.9" r="6.6"/><circle cx="466.2" cy="2402.5" r="6.6"/><circle cx="462.1" cy="2410.9" r="6.6"/><circle cx="468.3" cy="2415.0" r="6.6"/><circle cx="467.3" cy="2421.3" r="6.6"/><circle cx="460.0" cy="2423.4" r="6.6"/><circle cx="441.2" cy="2453.6" r="6.6"/><circle cx="449.6" cy="2454.7" r="6.6"/><circle cx="489.2" cy="2444.2" r="6.6"/><circle cx="489.2" cy="2450.5" r="6.6"/><circle cx="482.9" cy="2463.0" r="6.6"/><circle cx="485.0" cy="2471.3" r="6.6"/><circle cx="503.8" cy="2475.5" r="6.6"/><circle cx="505.8" cy="2483.8" r="6.6"/><circle cx="499.6" cy="2483.8" r="6.6"/><circle cx="482.9" cy="2492.2" r="6.6"/><circle cx="474.6" cy="2450.5" r="6.6"/><circle cx="472.5" cy="2448.4" r="6.6"/><circle cx="535.0" cy="2523.4" r="6.6"/><circle cx="536.1" cy="2539.1" r="6.6"/><circle cx="558.0" cy="2521.4" r="6.6"/><circle cx="566.3" cy="2514.1" r="6.6"/><circle cx="568.4" cy="2523.4" r="6.6"/><circle cx="570.5" cy="2556.8" r="6.6"/><circle cx="568.4" cy="2531.8" r="6.6"/><circle cx="575.6" cy="2550.5" r="6.6"/><circle cx="572.5" cy="2558.9" r="6.6"/><circle cx="582.9" cy="2563.1" r="6.6"/><circle cx="597.5" cy="2554.7" r="6.6"/><circle cx="591.3" cy="2561.0" r="6.6"/><circle cx="601.7" cy="2567.2" r="6.6"/><circle cx="599.6" cy="2581.8" r="6.6"/><circle cx="613.2" cy="2581.8" r="6.6"/><circle cx="607.9" cy="2569.3" r="6.6"/><circle cx="616.3" cy="2561.0" r="6.6"/><circle cx="620.5" cy="2546.4" r="6.6"/><circle cx="626.7" cy="2536.0" r="6.6"/><circle cx="633.0" cy="2548.5" r="6.6"/><circle cx="639.2" cy="2531.8" r="6.6"/><circle cx="643.4" cy="2540.1" r="6.6"/><circle cx="647.6" cy="2538.0" r="6.6"/><circle cx="649.6" cy="2521.4" r="6.6"/><circle cx="655.9" cy="2538.0" r="6.6"/><circle cx="655.9" cy="2554.7" r="6.6"/><circle cx="655.9" cy="2567.2" r="6.6"/><circle cx="658.0" cy="2581.8" r="6.6"/><circle cx="658.0" cy="2588.1" r="6.6"/><circle cx="628.8" cy="2558.9" r="6.6"/><circle cx="622.5" cy="2554.7" r="6.6"/><circle cx="612.1" cy="2556.8" r="6.6"/><circle cx="635.0" cy="2542.2" r="6.6"/><circle cx="643.4" cy="2548.5" r="6.6"/><circle cx="601.7" cy="2606.8" r="6.6"/><circle cx="601.7" cy="2611.0" r="6.6"/><circle cx="724.7" cy="2588.1" r="6.6"/><circle cx="726.8" cy="2594.3" r="6.6"/><circle cx="729.9" cy="2602.7" r="6.6"/><circle cx="733.0" cy="2615.2" r="6.6"/><circle cx="739.3" cy="2631.8" r="6.6"/><circle cx="739.3" cy="2640.2" r="6.6"/><circle cx="739.3" cy="2646.4" r="6.6"/><circle cx="767.4" cy="2606.8" r="6.6"/><circle cx="766.4" cy="2627.7" r="6.6"/><circle cx="767.4" cy="2636.0" r="6.6"/><circle cx="926.1" cy="2536.0" r="6.6"/><circle cx="926.1" cy="2546.4" r="6.6"/><circle cx="918.8" cy="2574.5" r="6.6"/><circle cx="978.2" cy="2540.1" r="6.6"/><circle cx="984.4" cy="2513.0" r="6.6"/><circle cx="998.0" cy="2506.8" r="6.6"/><circle cx="1002.1" cy="2502.6" r="6.6"/><circle cx="1024.0" cy="2483.8" r="6.6"/><circle cx="1035.5" cy="2484.9" r="6.6"/><circle cx="1023.0" cy="2496.3" r="6.6"/><circle cx="1035.5" cy="2500.5" r="6.6"/><circle cx="1033.4" cy="2508.9" r="6.6"/><circle cx="1041.8" cy="2502.6" r="6.6"/><circle cx="1060.5" cy="2468.2" r="6.6"/><circle cx="1128.3" cy="2369.2" r="6.6"/><circle cx="1125.1" cy="2381.7" r="6.6"/><circle cx="1148.1" cy="2385.9" r="6.6"/><circle cx="1131.4" cy="2392.1" r="6.6"/><circle cx="1139.7" cy="2398.4" r="6.6"/><circle cx="1150.2" cy="2400.5" r="6.6"/><circle cx="1131.4" cy="2406.7" r="6.6"/><circle cx="1146.0" cy="2406.7" r="6.6"/><circle cx="1152.2" cy="2413.0" r="6.6"/><circle cx="1123.1" cy="2417.1" r="6.6"/><circle cx="1139.7" cy="2419.2" r="6.6"/><circle cx="1150.2" cy="2423.4" r="6.6"/><circle cx="1118.9" cy="2429.6" r="6.6"/><circle cx="1137.6" cy="2429.6" r="6.6"/><circle cx="1146.0" cy="2435.9" r="6.6"/><circle cx="1115.8" cy="2443.2" r="6.6"/><circle cx="1131.4" cy="2440.1" r="6.6"/><circle cx="1122.0" cy="2465.1" r="6.6"/><circle cx="1153.3" cy="2450.5" r="6.6"/><circle cx="1156.4" cy="2463.0" r="6.6"/><circle cx="1156.4" cy="2469.2" r="6.6"/><circle cx="1160.6" cy="2485.9" r="6.6"/><circle cx="1175.2" cy="2483.8" r="6.6"/><circle cx="1160.6" cy="2498.4" r="6.6"/><circle cx="1168.9" cy="2498.4" r="6.6"/><circle cx="1179.3" cy="2492.2" r="6.6"/><circle cx="1191.8" cy="2498.4" r="6.6"/><circle cx="1162.7" cy="2506.8" r="6.6"/><circle cx="1181.4" cy="2513.0" r="6.6"/><circle cx="1193.9" cy="2513.0" r="6.6"/><circle cx="1187.7" cy="2519.3" r="6.6"/><circle cx="1185.6" cy="2533.9" r="6.6"/><circle cx="1193.9" cy="2536.0" r="6.6"/><circle cx="1173.1" cy="2552.6" r="6.6"/><circle cx="1173.1" cy="2578.7" r="6.6"/><circle cx="1212.7" cy="2544.3" r="6.6"/><circle cx="1200.2" cy="2556.8" r="6.6"/><circle cx="1208.5" cy="2561.0" r="6.6"/><circle cx="1196.0" cy="2569.3" r="6.6"/><circle cx="1200.2" cy="2573.5" r="6.6"/><circle cx="1221.0" cy="2569.3" r="6.6"/><circle cx="1225.2" cy="2579.7" r="6.6"/><circle cx="1229.4" cy="2590.2" r="6.6"/><circle cx="1231.5" cy="2598.5" r="6.6"/><circle cx="1241.9" cy="2544.3" r="6.6"/><circle cx="1241.9" cy="2556.8" r="6.6"/><circle cx="1244.0" cy="2569.3" r="6.6"/><circle cx="1250.2" cy="2579.7" r="6.6"/><circle cx="1252.3" cy="2590.2" r="6.6"/><circle cx="1250.2" cy="2600.6" r="6.6"/><circle cx="1237.7" cy="2586.0" r="6.6"/><circle cx="1216.9" cy="2561.0" r="6.6"/><circle cx="1204.4" cy="2550.5" r="6.6"/><circle cx="1283.8" cy="2469.2" r="6.6"/><circle cx="1283.8" cy="2477.6" r="6.6"/><circle cx="1282.7" cy="2485.9" r="6.6"/><circle cx="1279.6" cy="2510.9" r="6.6"/><circle cx="1287.9" cy="2508.9" r="6.6"/><circle cx="1294.2" cy="2510.9" r="6.6"/><circle cx="1285.9" cy="2519.3" r="6.6"/><circle cx="1290.0" cy="2523.4" r="6.6"/><circle cx="1292.1" cy="2529.7" r="6.6"/><circle cx="1268.1" cy="2528.7" r="6.6"/><circle cx="1267.1" cy="2540.1" r="6.6"/><circle cx="1273.4" cy="2540.1" r="6.6"/><circle cx="1275.4" cy="2548.5" r="6.6"/><circle cx="1267.1" cy="2550.5" r="6.6"/><circle cx="1296.3" cy="2542.2" r="6.6"/><circle cx="1300.5" cy="2548.5" r="6.6"/><circle cx="1302.5" cy="2556.8" r="6.6"/><circle cx="1308.8" cy="2563.1" r="6.6"/><circle cx="1298.4" cy="2561.0" r="6.6"/><circle cx="1317.1" cy="2498.4" r="6.6"/><circle cx="1317.1" cy="2513.0" r="6.6"/><circle cx="1315.0" cy="2523.4" r="6.6"/><circle cx="1327.6" cy="2519.3" r="6.6"/><circle cx="1321.3" cy="2531.8" r="6.6"/><circle cx="1315.0" cy="2536.0" r="6.6"/><circle cx="1327.6" cy="2540.1" r="6.6"/><circle cx="1310.9" cy="2544.3" r="6.6"/><circle cx="1327.6" cy="2552.6" r="6.6"/><circle cx="1306.7" cy="2550.5" r="6.6"/><circle cx="1329.6" cy="2578.7" r="6.6"/><circle cx="1329.6" cy="2631.8" r="6.6"/><circle cx="1344.2" cy="2627.7" r="6.6"/><circle cx="1342.1" cy="2640.2" r="6.6"/><circle cx="1344.2" cy="2648.5" r="6.6"/><circle cx="1344.2" cy="2652.7" r="6.6"/><circle cx="1511.0" cy="2550.5" r="6.6"/><circle cx="1501.6" cy="2572.4" r="6.6"/><circle cx="1531.8" cy="2548.5" r="6.6"/><circle cx="1536.0" cy="2554.7" r="6.6"/><circle cx="1540.2" cy="2558.9" r="6.6"/><circle cx="1547.5" cy="2567.2" r="6.6"/><circle cx="1554.8" cy="2580.8" r="6.6"/><circle cx="1548.5" cy="2592.2" r="6.6"/><circle cx="1521.4" cy="2593.3" r="6.6"/><circle cx="1589.4" cy="2494.3" r="6.6"/><circle cx="1595.6" cy="2498.4" r="6.6"/><circle cx="1594.6" cy="2502.6" r="6.6"/><circle cx="1600.8" cy="2485.9" r="6.6"/><circle cx="1602.9" cy="2473.4" r="6.6"/><circle cx="1607.1" cy="2469.2" r="6.6"/><circle cx="1609.2" cy="2481.8" r="6.6"/><circle cx="1605.0" cy="2490.1" r="6.6"/><circle cx="1618.6" cy="2467.2" r="6.6"/><circle cx="1596.7" cy="2475.5" r="6.6"/><circle cx="1611.3" cy="2485.9" r="6.6"/><circle cx="1636.3" cy="2458.8" r="6.6"/><circle cx="1648.8" cy="2454.7" r="6.6"/><circle cx="1642.5" cy="2465.1" r="6.6"/><circle cx="1644.6" cy="2473.4" r="6.6"/><circle cx="1638.4" cy="2481.8" r="6.6"/><circle cx="1648.8" cy="2481.8" r="6.6"/><circle cx="1642.5" cy="2485.9" r="6.6"/><circle cx="1665.5" cy="2423.4" r="6.6"/><circle cx="1665.5" cy="2444.2" r="6.6"/><circle cx="1675.9" cy="2438.0" r="6.6"/><circle cx="1682.1" cy="2442.1" r="6.6"/><circle cx="1680.1" cy="2448.4" r="6.6"/><circle cx="1684.2" cy="2458.8" r="6.6"/><circle cx="1684.2" cy="2469.2" r="6.6"/><circle cx="1688.4" cy="2475.5" r="6.6"/><circle cx="1692.6" cy="2481.8" r="6.6"/><circle cx="1694.7" cy="2490.1" r="6.6"/><circle cx="1696.7" cy="2496.3" r="6.6"/><circle cx="1698.8" cy="2485.9" r="6.6"/><circle cx="1725.9" cy="2490.1" r="6.6"/><circle cx="1723.8" cy="2498.4" r="6.6"/><circle cx="1721.8" cy="2504.7" r="6.6"/><circle cx="1730.1" cy="2500.5" r="6.6"/><circle cx="1700.9" cy="2519.3" r="6.6"/><circle cx="1717.6" cy="2517.2" r="6.6"/><circle cx="1730.1" cy="2525.5" r="6.6"/><circle cx="1705.1" cy="2529.7" r="6.6"/><circle cx="1709.2" cy="2538.0" r="6.6"/><circle cx="1700.9" cy="2546.4" r="6.6"/><circle cx="1713.4" cy="2540.1" r="6.6"/><circle cx="1732.2" cy="2542.2" r="6.6"/><circle cx="1732.2" cy="2550.5" r="6.6"/><circle cx="1771.8" cy="2538.0" r="6.6"/><circle cx="1767.6" cy="2550.5" r="6.6"/><circle cx="1771.8" cy="2561.0" r="6.6"/><circle cx="1798.9" cy="2525.5" r="6.6"/><circle cx="1796.8" cy="2533.9" r="6.6"/><circle cx="1794.7" cy="2540.1" r="6.6"/><circle cx="1793.7" cy="2563.1" r="6.6"/><circle cx="1794.7" cy="2573.5" r="6.6"/><circle cx="1918.8" cy="2419.2" r="6.6"/><circle cx="1919.8" cy="2427.6" r="6.6"/><circle cx="1921.9" cy="2435.9" r="6.6"/><circle cx="1917.7" cy="2470.3" r="6.6"/><circle cx="1925.0" cy="2489.1" r="6.6"/><circle cx="1913.5" cy="2506.8" r="6.6"/><circle cx="1911.5" cy="2521.4" r="6.6"/><circle cx="1924.0" cy="2510.9" r="6.6"/><circle cx="1928.1" cy="2519.3" r="6.6"/><circle cx="1932.3" cy="2527.6" r="6.6"/><circle cx="1934.4" cy="2538.0" r="6.6"/><circle cx="1936.5" cy="2548.5" r="6.6"/><circle cx="1938.6" cy="2556.8" r="6.6"/><circle cx="1940.8" cy="2571.4" r="6.6"/><circle cx="1942.9" cy="2586.0" r="6.6"/><circle cx="1942.9" cy="2604.7" r="6.6"/><circle cx="1945.0" cy="2617.3" r="6.6"/><circle cx="1949.2" cy="2636.0" r="6.6"/><circle cx="1953.4" cy="2644.4" r="6.6"/><circle cx="1955.4" cy="2652.7" r="6.6"/><circle cx="1970.0" cy="2488.0" r="6.6"/><circle cx="1974.2" cy="2481.8" r="6.6"/><circle cx="1976.3" cy="2469.2" r="6.6"/><circle cx="1980.5" cy="2463.0" r="6.6"/><circle cx="1982.5" cy="2456.7" r="6.6"/><circle cx="1980.5" cy="2448.4" r="6.6"/><circle cx="1982.5" cy="2444.2" r="6.6"/><circle cx="1997.1" cy="2381.7" r="6.6"/><circle cx="1999.2" cy="2390.0" r="6.6"/><circle cx="2003.4" cy="2396.3" r="6.6"/><circle cx="1990.9" cy="2404.6" r="6.6"/><circle cx="2003.4" cy="2404.6" r="6.6"/><circle cx="2011.7" cy="2406.7" r="6.6"/><circle cx="2022.1" cy="2408.8" r="6.6"/><circle cx="2007.6" cy="2431.7" r="6.6"/><circle cx="2009.6" cy="2423.4" r="6.6"/><circle cx="2020.1" cy="2423.4" r="6.6"/><circle cx="2028.4" cy="2421.3" r="6.6"/><circle cx="2032.6" cy="2427.6" r="6.6"/><circle cx="2034.7" cy="2435.9" r="6.6"/><circle cx="2026.3" cy="2442.1" r="6.6"/><circle cx="2036.7" cy="2442.1" r="6.6"/><circle cx="2018.0" cy="2415.0" r="6.6"/><circle cx="2051.3" cy="2475.5" r="6.6"/><circle cx="2051.3" cy="2485.9" r="6.6"/><circle cx="2051.3" cy="2492.2" r="6.6"/><circle cx="2084.7" cy="2421.3" r="6.6"/><circle cx="2083.6" cy="2427.6" r="6.6"/><circle cx="2081.6" cy="2451.5" r="6.6"/><circle cx="2080.5" cy="2470.3" r="6.6"/><circle cx="2060.7" cy="2523.4" r="6.6"/><circle cx="2060.7" cy="2546.4" r="6.6"/><circle cx="2064.9" cy="2611.0" r="6.6"/><circle cx="2065.9" cy="2613.1" r="6.6"/><circle cx="2125.3" cy="2524.5" r="6.6"/><circle cx="2103.4" cy="2536.0" r="6.6"/><circle cx="2111.8" cy="2540.1" r="6.6"/><circle cx="2116.0" cy="2548.5" r="6.6"/><circle cx="2124.3" cy="2548.5" r="6.6"/><circle cx="2109.7" cy="2556.8" r="6.6"/><circle cx="2107.6" cy="2573.5" r="6.6"/><circle cx="2120.1" cy="2581.8" r="6.6"/><circle cx="2107.6" cy="2588.1" r="6.6"/><circle cx="2163.9" cy="2592.2" r="6.6"/><circle cx="2168.1" cy="2602.7" r="6.6"/><circle cx="2172.2" cy="2611.0" r="6.6"/><circle cx="2176.4" cy="2617.3" r="6.6"/><circle cx="2166.0" cy="2615.2" r="6.6"/><circle cx="2151.4" cy="2629.8" r="6.6"/><circle cx="2157.6" cy="2636.0" r="6.6"/><circle cx="2141.0" cy="2636.0" r="6.6"/><circle cx="2138.9" cy="2646.4" r="6.6"/><circle cx="2151.4" cy="2644.4" r="6.6"/><circle cx="2153.5" cy="2656.9" r="6.6"/><circle cx="2178.5" cy="2648.5" r="6.6"/><circle cx="2182.7" cy="2656.9" r="6.6"/><circle cx="2180.6" cy="2663.1" r="6.6"/><circle cx="2220.2" cy="2619.3" r="6.6"/><circle cx="2218.1" cy="2629.8" r="6.6"/><circle cx="2270.1" cy="2503.9" r="6.6"/><circle cx="2276.6" cy="2499.1" r="6.6"/><circle cx="2283.1" cy="2502.3" r="6.6"/><circle cx="2289.6" cy="2503.9" r="6.6"/><circle cx="2296.1" cy="2503.9" r="6.6"/><circle cx="2300.9" cy="2505.6" r="6.6"/><circle cx="2273.4" cy="2512.0" r="6.6"/><circle cx="2279.8" cy="2512.0" r="6.6"/><circle cx="2288.0" cy="2512.0" r="6.6"/><circle cx="2296.1" cy="2513.7" r="6.6"/><circle cx="2302.6" cy="2515.3" r="6.6"/><circle cx="2279.8" cy="2531.5" r="6.6"/><circle cx="2296.1" cy="2529.9" r="6.6"/><circle cx="2289.6" cy="2521.8" r="6.6"/><circle cx="2299.3" cy="2523.4" r="6.6"/><circle cx="455.5" cy="2447.2" r="6.6"/><circle cx="459.5" cy="2451.4" r="6.6"/><circle cx="458.2" cy="2451.0" r="6.6"/><circle cx="441.9" cy="2441.4" r="6.6"/><circle cx="462.9" cy="2445.3" r="6.6"/><circle cx="461.9" cy="2434.1" r="6.6"/><circle cx="452.0" cy="2436.9" r="6.6"/><circle cx="453.7" cy="2443.7" r="6.6"/><circle cx="441.5" cy="2436.2" r="6.6"/><circle cx="447.6" cy="2450.8" r="6.6"/><circle cx="458.8" cy="2435.1" r="6.6"/><circle cx="459.5" cy="2434.6" r="6.6"/><circle cx="469.0" cy="2410.6" r="6.6"/><circle cx="460.0" cy="2421.5" r="6.6"/><circle cx="463.0" cy="2411.9" r="6.6"/><circle cx="474.3" cy="2421.5" r="6.6"/><circle cx="464.2" cy="2422.8" r="6.6"/><circle cx="467.9" cy="2418.7" r="6.6"/><circle cx="463.0" cy="2422.5" r="6.6"/><circle cx="470.1" cy="2422.9" r="6.6"/><circle cx="310.3" cy="2544.9" r="6.6"/><circle cx="291.4" cy="2539.1" r="6.6"/><circle cx="283.8" cy="2534.6" r="6.6"/><circle cx="289.3" cy="2558.2" r="6.6"/><circle cx="278.7" cy="2561.5" r="6.6"/><circle cx="290.6" cy="2545.4" r="6.6"/><circle cx="307.6" cy="2552.8" r="6.6"/><circle cx="289.8" cy="2552.9" r="6.6"/><circle cx="303.6" cy="2534.3" r="6.6"/><circle cx="313.2" cy="2532.8" r="6.6"/><circle cx="305.2" cy="2568.8" r="6.6"/><circle cx="279.3" cy="2566.3" r="6.6"/><circle cx="291.6" cy="2557.1" r="6.6"/><circle cx="278.9" cy="2533.8" r="6.6"/><circle cx="285.0" cy="2573.6" r="6.6"/><circle cx="285.6" cy="2564.9" r="6.6"/><circle cx="311.6" cy="2573.0" r="6.6"/><circle cx="290.8" cy="2547.3" r="6.6"/><circle cx="297.2" cy="2565.7" r="6.6"/><circle cx="282.5" cy="2564.5" r="6.6"/><circle cx="264.8" cy="2510.2" r="6.6"/><circle cx="252.1" cy="2514.5" r="6.6"/><circle cx="253.0" cy="2484.2" r="6.6"/><circle cx="261.7" cy="2513.1" r="6.6"/><circle cx="257.2" cy="2513.4" r="6.6"/><circle cx="260.6" cy="2482.8" r="6.6"/><circle cx="256.8" cy="2476.0" r="6.6"/><circle cx="252.8" cy="2474.6" r="6.6"/><circle cx="251.8" cy="2544.3" r="6.6"/><circle cx="245.2" cy="2538.3" r="6.6"/><circle cx="255.5" cy="2541.4" r="6.6"/><circle cx="424.3" cy="2407.3" r="6.6"/><circle cx="429.0" cy="2429.4" r="6.6"/><circle cx="425.5" cy="2414.2" r="6.6"/><circle cx="415.5" cy="2432.7" r="6.6"/><circle cx="414.9" cy="2416.9" r="6.6"/><circle cx="435.1" cy="2403.3" r="6.6"/><circle cx="506.1" cy="2487.3" r="6.6"/><circle cx="504.6" cy="2484.9" r="6.6"/><circle cx="497.0" cy="2479.8" r="6.6"/><circle cx="497.6" cy="2485.7" r="6.6"/><circle cx="560.0" cy="2521.3" r="6.6"/><circle cx="569.8" cy="2530.5" r="6.6"/><circle cx="569.5" cy="2521.3" r="6.6"/><circle cx="562.7" cy="2527.7" r="6.6"/><circle cx="562.6" cy="2517.6" r="6.6"/><circle cx="561.5" cy="2514.3" r="6.6"/><circle cx="561.1" cy="2533.6" r="6.6"/><circle cx="569.3" cy="2525.3" r="6.6"/><circle cx="391.2" cy="2494.3" r="6.6"/><circle cx="386.1" cy="2493.5" r="6.6"/><circle cx="394.7" cy="2500.9" r="6.6"/><circle cx="630.6" cy="2554.7" r="6.6"/><circle cx="647.0" cy="2552.1" r="6.6"/><circle cx="642.6" cy="2554.0" r="6.6"/><circle cx="630.7" cy="2552.3" r="6.6"/><circle cx="627.4" cy="2546.0" r="6.6"/><circle cx="646.8" cy="2551.9" r="6.6"/><circle cx="627.9" cy="2559.4" r="6.6"/><circle cx="642.0" cy="2548.7" r="6.6"/><circle cx="616.7" cy="2547.8" r="6.6"/><circle cx="626.2" cy="2551.4" r="6.6"/><circle cx="634.6" cy="2555.6" r="6.6"/><circle cx="641.9" cy="2555.1" r="6.6"/><circle cx="630.1" cy="2550.6" r="6.6"/><circle cx="645.5" cy="2556.0" r="6.6"/><circle cx="630.1" cy="2556.4" r="6.6"/><circle cx="650.7" cy="2551.9" r="6.6"/><circle cx="654.9" cy="2559.7" r="6.6"/><circle cx="636.8" cy="2547.2" r="6.6"/><circle cx="569.0" cy="2521.4" r="6.6"/><circle cx="572.2" cy="2516.9" r="6.6"/><circle cx="571.2" cy="2519.9" r="6.6"/><circle cx="571.4" cy="2513.1" r="6.6"/><circle cx="732.4" cy="2598.1" r="6.6"/><circle cx="730.9" cy="2594.8" r="6.6"/><circle cx="730.4" cy="2602.1" r="6.6"/><circle cx="730.6" cy="2601.0" r="6.6"/><circle cx="722.9" cy="2589.3" r="6.6"/><circle cx="738.8" cy="2640.0" r="6.6"/><circle cx="736.9" cy="2640.4" r="6.6"/><circle cx="740.4" cy="2632.4" r="6.6"/><circle cx="739.0" cy="2634.7" r="6.6"/><circle cx="735.6" cy="2633.5" r="6.6"/><circle cx="1140.1" cy="2394.9" r="6.6"/><circle cx="1137.5" cy="2387.6" r="6.6"/><circle cx="1143.2" cy="2404.9" r="6.6"/><circle cx="1146.2" cy="2415.4" r="6.6"/><circle cx="1138.4" cy="2431.0" r="6.6"/><circle cx="1133.5" cy="2406.1" r="6.6"/><circle cx="1139.3" cy="2406.4" r="6.6"/><circle cx="1135.9" cy="2427.5" r="6.6"/><circle cx="1141.3" cy="2387.7" r="6.6"/><circle cx="1146.3" cy="2390.6" r="6.6"/><circle cx="1157.9" cy="2464.4" r="6.6"/><circle cx="1158.3" cy="2470.9" r="6.6"/><circle cx="1160.8" cy="2465.3" r="6.6"/><circle cx="1160.7" cy="2467.6" r="6.6"/><circle cx="1173.1" cy="2493.6" r="6.6"/><circle cx="1182.1" cy="2516.5" r="6.6"/><circle cx="1196.4" cy="2538.4" r="6.6"/><circle cx="1182.6" cy="2505.0" r="6.6"/><circle cx="1193.9" cy="2486.0" r="6.6"/><circle cx="1162.8" cy="2516.6" r="6.6"/><circle cx="1182.9" cy="2493.6" r="6.6"/><circle cx="1183.4" cy="2534.2" r="6.6"/><circle cx="1173.4" cy="2509.3" r="6.6"/><circle cx="1167.5" cy="2501.7" r="6.6"/><circle cx="1197.0" cy="2506.5" r="6.6"/><circle cx="1196.6" cy="2535.5" r="6.6"/><circle cx="1182.1" cy="2500.0" r="6.6"/><circle cx="1197.3" cy="2512.8" r="6.6"/><circle cx="1219.7" cy="2567.3" r="6.6"/><circle cx="1254.9" cy="2575.2" r="6.6"/><circle cx="1211.7" cy="2574.5" r="6.6"/><circle cx="1201.5" cy="2581.1" r="6.6"/><circle cx="1221.4" cy="2566.1" r="6.6"/><circle cx="1242.3" cy="2590.6" r="6.6"/><circle cx="1194.8" cy="2577.1" r="6.6"/><circle cx="1210.9" cy="2595.5" r="6.6"/><circle cx="1242.3" cy="2563.9" r="6.6"/><circle cx="1210.5" cy="2559.7" r="6.6"/><circle cx="1255.2" cy="2566.1" r="6.6"/><circle cx="1231.6" cy="2574.4" r="6.6"/><circle cx="1233.9" cy="2580.3" r="6.6"/><circle cx="1240.0" cy="2558.1" r="6.6"/><circle cx="1241.0" cy="2566.4" r="6.6"/><circle cx="1227.0" cy="2568.0" r="6.6"/><circle cx="1212.3" cy="2576.9" r="6.6"/><circle cx="1222.7" cy="2569.2" r="6.6"/><circle cx="1240.1" cy="2579.7" r="6.6"/><circle cx="1196.2" cy="2564.2" r="6.6"/><circle cx="1030.4" cy="2506.6" r="6.6"/><circle cx="1039.4" cy="2496.5" r="6.6"/><circle cx="1021.2" cy="2502.8" r="6.6"/><circle cx="1029.8" cy="2497.4" r="6.6"/><circle cx="1312.3" cy="2539.5" r="6.6"/><circle cx="1297.2" cy="2555.8" r="6.6"/><circle cx="1290.7" cy="2525.5" r="6.6"/><circle cx="1321.8" cy="2514.1" r="6.6"/><circle cx="1284.8" cy="2551.0" r="6.6"/><circle cx="1269.4" cy="2551.4" r="6.6"/><circle cx="1311.4" cy="2527.9" r="6.6"/><circle cx="1284.1" cy="2548.2" r="6.6"/><circle cx="1325.8" cy="2510.9" r="6.6"/><circle cx="1296.9" cy="2534.7" r="6.6"/><circle cx="1298.2" cy="2521.9" r="6.6"/><circle cx="1275.3" cy="2536.8" r="6.6"/><circle cx="1319.2" cy="2506.6" r="6.6"/><circle cx="1280.4" cy="2550.4" r="6.6"/><circle cx="1345.8" cy="2643.6" r="6.6"/><circle cx="1336.2" cy="2644.8" r="6.6"/><circle cx="1348.1" cy="2650.6" r="6.6"/><circle cx="1344.7" cy="2630.8" r="6.6"/><circle cx="1539.3" cy="2547.0" r="6.6"/><circle cx="1535.6" cy="2556.2" r="6.6"/><circle cx="1536.9" cy="2546.0" r="6.6"/><circle cx="1529.0" cy="2555.8" r="6.6"/><circle cx="1526.3" cy="2551.9" r="6.6"/><circle cx="1590.1" cy="2474.6" r="6.6"/><circle cx="1592.1" cy="2470.7" r="6.6"/><circle cx="1587.1" cy="2481.9" r="6.6"/><circle cx="1586.8" cy="2471.2" r="6.6"/><circle cx="1591.7" cy="2494.0" r="6.6"/><circle cx="1614.2" cy="2470.1" r="6.6"/><circle cx="1602.1" cy="2476.9" r="6.6"/><circle cx="1606.7" cy="2483.4" r="6.6"/><circle cx="1615.9" cy="2479.1" r="6.6"/><circle cx="1591.9" cy="2491.2" r="6.6"/><circle cx="1594.5" cy="2488.8" r="6.6"/><circle cx="1604.1" cy="2499.2" r="6.6"/><circle cx="1605.5" cy="2488.4" r="6.6"/><circle cx="1597.6" cy="2485.8" r="6.6"/><circle cx="1597.3" cy="2493.2" r="6.6"/><circle cx="1642.8" cy="2460.4" r="6.6"/><circle cx="1638.1" cy="2466.8" r="6.6"/><circle cx="1646.5" cy="2461.6" r="6.6"/><circle cx="1646.1" cy="2474.5" r="6.6"/><circle cx="1635.6" cy="2474.8" r="6.6"/><circle cx="1635.7" cy="2460.1" r="6.6"/><circle cx="1689.1" cy="2449.8" r="6.6"/><circle cx="1697.3" cy="2463.9" r="6.6"/><circle cx="1681.2" cy="2482.4" r="6.6"/><circle cx="1672.6" cy="2478.2" r="6.6"/><circle cx="1673.3" cy="2444.7" r="6.6"/><circle cx="1699.5" cy="2475.6" r="6.6"/><circle cx="1678.2" cy="2442.7" r="6.6"/><circle cx="1700.1" cy="2474.7" r="6.6"/><circle cx="1695.7" cy="2444.1" r="6.6"/><circle cx="1690.0" cy="2456.6" r="6.6"/><circle cx="1718.3" cy="2493.6" r="6.6"/><circle cx="1726.2" cy="2493.8" r="6.6"/><circle cx="1721.5" cy="2490.3" r="6.6"/><circle cx="1730.7" cy="2498.8" r="6.6"/><circle cx="1730.2" cy="2495.2" r="6.6"/><circle cx="1714.5" cy="2536.3" r="6.6"/><circle cx="1709.1" cy="2537.5" r="6.6"/><circle cx="1712.2" cy="2533.8" r="6.6"/><circle cx="1698.8" cy="2526.2" r="6.6"/><circle cx="1701.0" cy="2526.4" r="6.6"/><circle cx="1715.3" cy="2535.6" r="6.6"/><circle cx="1799.0" cy="2525.5" r="6.6"/><circle cx="1796.6" cy="2538.5" r="6.6"/><circle cx="1797.8" cy="2531.8" r="6.6"/><circle cx="1923.9" cy="2511.6" r="6.6"/><circle cx="1917.0" cy="2514.4" r="6.6"/><circle cx="1921.9" cy="2525.3" r="6.6"/><circle cx="1933.2" cy="2514.1" r="6.6"/><circle cx="1919.2" cy="2520.1" r="6.6"/><circle cx="1917.1" cy="2520.5" r="6.6"/><circle cx="1918.8" cy="2529.9" r="6.6"/><circle cx="1914.3" cy="2551.1" r="6.6"/><circle cx="1918.7" cy="2434.9" r="6.6"/><circle cx="1921.4" cy="2430.5" r="6.6"/><circle cx="2016.7" cy="2439.1" r="6.6"/><circle cx="2000.5" cy="2423.5" r="6.6"/><circle cx="2008.4" cy="2423.8" r="6.6"/><circle cx="2028.5" cy="2395.0" r="6.6"/><circle cx="2004.3" cy="2387.3" r="6.6"/><circle cx="2005.6" cy="2390.3" r="6.6"/><circle cx="2013.4" cy="2440.7" r="6.6"/><circle cx="2011.8" cy="2403.4" r="6.6"/><circle cx="2016.5" cy="2401.8" r="6.6"/><circle cx="2028.6" cy="2426.3" r="6.6"/><circle cx="1976.2" cy="2449.2" r="6.6"/><circle cx="1982.6" cy="2463.8" r="6.6"/><circle cx="1982.3" cy="2453.2" r="6.6"/><circle cx="1986.4" cy="2444.4" r="6.6"/><circle cx="1925.3" cy="2540.9" r="6.6"/><circle cx="1931.9" cy="2508.7" r="6.6"/><circle cx="1934.5" cy="2550.1" r="6.6"/><circle cx="1933.9" cy="2522.1" r="6.6"/><circle cx="1925.9" cy="2509.9" r="6.6"/><circle cx="1941.0" cy="2528.3" r="6.6"/><circle cx="2123.0" cy="2533.0" r="6.6"/><circle cx="2108.5" cy="2532.9" r="6.6"/><circle cx="2111.7" cy="2533.2" r="6.6"/><circle cx="2108.8" cy="2541.1" r="6.6"/><circle cx="2109.8" cy="2533.0" r="6.6"/><circle cx="2162.5" cy="2618.7" r="6.6"/><circle cx="2165.2" cy="2609.1" r="6.6"/><circle cx="2169.4" cy="2609.6" r="6.6"/><circle cx="2163.4" cy="2605.0" r="6.6"/><circle cx="2163.8" cy="2609.8" r="6.6"/><circle cx="2158.1" cy="2644.3" r="6.6"/><circle cx="2156.7" cy="2636.3" r="6.6"/><circle cx="2139.2" cy="2643.1" r="6.6"/><circle cx="2149.0" cy="2643.8" r="6.6"/><circle cx="2146.7" cy="2644.9" r="6.6"/><circle cx="1954.1" cy="2643.3" r="6.6"/><circle cx="1948.9" cy="2637.5" r="6.6"/><circle cx="1955.4" cy="2634.7" r="6.6"/><circle cx="2272.4" cy="2505.6" r="6.6"/><circle cx="2271.5" cy="2515.4" r="6.6"/><circle cx="2296.4" cy="2505.7" r="6.6"/><circle cx="2272.9" cy="2500.8" r="6.6"/><circle cx="2276.8" cy="2500.8" r="6.6"/><circle cx="2283.1" cy="2511.2" r="6.6"/><circle cx="2276.9" cy="2500.4" r="6.6"/><circle cx="2292.4" cy="2500.1" r="6.6"/><circle cx="2275.3" cy="2505.1" r="6.6"/><circle cx="2281.2" cy="2501.1" r="6.6"/><circle cx="1673.0" cy="2439.0" r="6.6"/><circle cx="1680.0" cy="2446.9" r="6.6"/><circle cx="1682.1" cy="2449.0" r="6.6"/><circle cx="1682.7" cy="2453.6" r="6.6"/><circle cx="1681.6" cy="2458.4" r="6.6"/><circle cx="1688.7" cy="2465.1" r="6.6"/><circle cx="1688.4" cy="2467.6" r="6.6"/><circle cx="1691.2" cy="2473.8" r="6.6"/><circle cx="1693.8" cy="2481.2" r="6.6"/><circle cx="1691.4" cy="2485.2" r="6.6"/><circle cx="1695.4" cy="2488.7" r="6.6"/><circle cx="1698.2" cy="2498.1" r="6.6"/><circle cx="1916.2" cy="2510.4" r="6.6"/><circle cx="1915.8" cy="2511.6" r="6.6"/><circle cx="1919.0" cy="2520.2" r="6.6"/><circle cx="1922.1" cy="2526.4" r="6.6"/><circle cx="1924.1" cy="2533.9" r="6.6"/><circle cx="1928.7" cy="2539.6" r="6.6"/><circle cx="1930.3" cy="2540.2" r="6.6"/><circle cx="1930.5" cy="2547.5" r="6.6"/><circle cx="1937.0" cy="2551.4" r="6.6"/><circle cx="1938.2" cy="2555.7" r="6.6"/><circle cx="1589.2" cy="2498.0" r="6.6"/><circle cx="1589.5" cy="2492.6" r="6.6"/><circle cx="1596.9" cy="2491.0" r="6.6"/><circle cx="1602.4" cy="2488.1" r="6.6"/><circle cx="1604.5" cy="2483.0" r="6.6"/><circle cx="1602.3" cy="2479.1" r="6.6"/><circle cx="1608.5" cy="2476.1" r="6.6"/><circle cx="1613.2" cy="2470.5" r="6.6"/><circle cx="1157.3" cy="2460.1" r="6.6"/><circle cx="1158.3" cy="2465.3" r="6.6"/><circle cx="1168.8" cy="2477.4" r="6.6"/><circle cx="1169.3" cy="2483.7" r="6.6"/><circle cx="1173.5" cy="2499.1" r="6.6"/><circle cx="1179.3" cy="2500.3" r="6.6"/><circle cx="1180.7" cy="2503.3" r="6.6"/><circle cx="1186.4" cy="2519.0" r="6.6"/><circle cx="1192.0" cy="2524.6" r="6.6"/><circle cx="1192.8" cy="2529.5" r="6.6"/><circle cx="1194.6" cy="2555.5" r="6.6"/><circle cx="1197.3" cy="2563.1" r="6.6"/><circle cx="1202.9" cy="2561.8" r="6.6"/><circle cx="1205.1" cy="2569.8" r="6.6"/><circle cx="1214.9" cy="2569.4" r="6.6"/><circle cx="1221.1" cy="2571.1" r="6.6"/><circle cx="1224.4" cy="2576.8" r="6.6"/><circle cx="1229.2" cy="2580.1" r="6.6"/><circle cx="1238.6" cy="2584.3" r="6.6"/><circle cx="1244.3" cy="2588.3" r="6.6"/><circle cx="1250.2" cy="2590.0" r="6.6"/><circle cx="1252.6" cy="2590.4" r="6.6"/><circle cx="436.8" cy="2428.8" r="6.6"/><circle cx="441.4" cy="2425.2" r="6.6"/><circle cx="446.7" cy="2429.9" r="6.6"/><circle cx="448.8" cy="2422.9" r="6.6"/><circle cx="456.2" cy="2417.3" r="6.6"/><circle cx="458.7" cy="2414.8" r="6.6"/><circle cx="464.7" cy="2411.7" r="6.6"/><circle cx="473.6" cy="2412.0" r="6.6"/><circle cx="618.4" cy="2563.8" r="6.6"/><circle cx="622.7" cy="2555.7" r="6.6"/><circle cx="624.3" cy="2552.7" r="6.6"/><circle cx="627.9" cy="2551.3" r="6.6"/><circle cx="626.9" cy="2542.5" r="6.6"/><circle cx="634.1" cy="2543.5" r="6.6"/><circle cx="637.5" cy="2538.9" r="6.6"/><circle cx="644.6" cy="2537.3" r="6.6"/><circle cx="645.8" cy="2531.9" r="6.6"/><circle cx="646.7" cy="2530.3" r="6.6"/><circle cx="2001.4" cy="2392.5" r="6.6"/><circle cx="2006.1" cy="2398.5" r="6.6"/><circle cx="2008.3" cy="2400.6" r="6.6"/><circle cx="2014.9" cy="2407.2" r="6.6"/><circle cx="2017.6" cy="2414.1" r="6.6"/><circle cx="2019.7" cy="2418.3" r="6.6"/><circle cx="2024.4" cy="2422.6" r="6.6"/><circle cx="2029.2" cy="2426.6" r="6.6"/><circle cx="2034.2" cy="2433.0" r="6.6"/><circle cx="2034.3" cy="2438.4" r="6.6"/><circle cx="277.9" cy="2558.4" r="6.6"/><circle cx="278.6" cy="2555.5" r="6.6"/><circle cx="283.4" cy="2551.3" r="6.6"/><circle cx="299.4" cy="2550.9" r="6.6"/><circle cx="299.6" cy="2545.5" r="6.6"/><circle cx="299.8" cy="2544.2" r="6.6"/><circle cx="307.7" cy="2541.5" r="6.6"/><circle cx="310.1" cy="2537.3" r="6.6"/></g>
</svg>
</body></html>
